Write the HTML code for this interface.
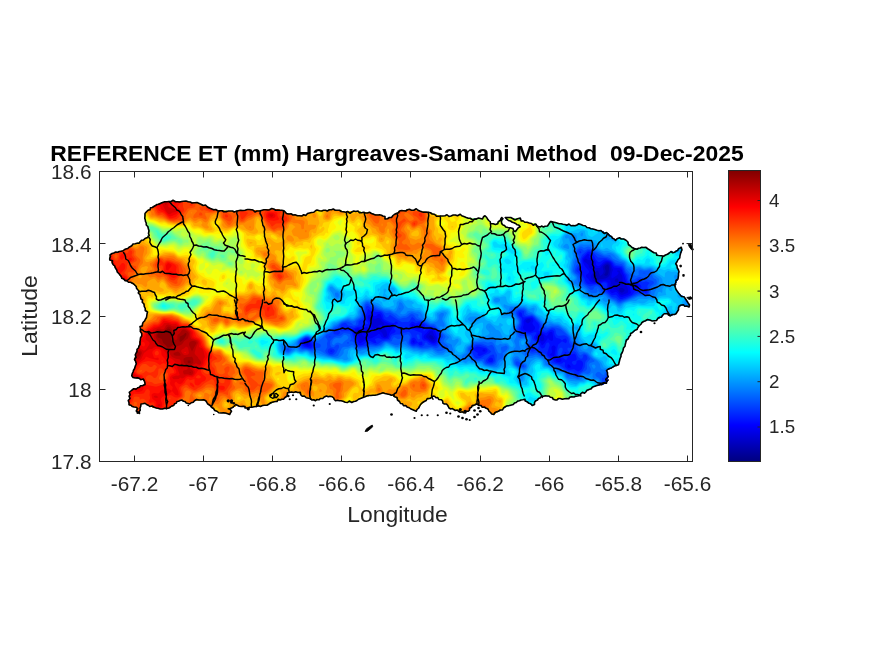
<!DOCTYPE html>
<html><head><meta charset="utf-8"><title>Reference ET</title>
<style>
html,body{margin:0;padding:0;background:#fff;}
body{width:875px;height:656px;overflow:hidden;}
svg{display:block;}
text{white-space:pre;font-family:"Liberation Sans",Arial,sans-serif;fill:#262626;}
.t{font-size:20.8px;}
.l{font-size:22.9px;}
.c{font-size:18.75px;}
.ttl{font-size:22.9px;font-weight:bold;fill:#000;}
</style></head><body>
<svg width="875" height="656" viewBox="0 0 875 656">
<rect width="875" height="656" fill="#fff"/>
<g transform="scale(.25)">
<defs><clipPath id="isl"><path d="M564 1196l-8-32-11-18-23-17-22-7-13-9-11-18-14-22-13-21-10-19 1-13 15-8 29-7 19-9 19-10 26-13 26-13 16-10 4-16-1-20-8-22-6-19 1-19 12-13 17-11 19-12 22-8 26-4 26 1 25-1 26 1 25 4 26 6 26 11 25 11 26 4 32 1 32 1 35-4 26-2 32 5 25-5 32-3 32 5 19 13 26 6 26 3 25-1 7-8 25-5 7-6 32-2 32-2 32 2 25 8 32-5 39 5 32 5 25 6 29 6 0 10 26-6 19-16 13-10 32-5 25 2 32 6 26 2 25 8 26 7 32 2 26-6 25 3 26 10 32 3 25 0 10-13 10 13 12 19 20 3 19-16 6-12 5 5-6 14 6 11 11 8 18 3 14 13 12-5 14-12-6-7-19-9-14-7-14-7-7-7 12 0 19 5 18 0 15 9 14 5 1 0 26 5 16 2 6 9 13 3 13 0 16-4 6-9 6-9 10 2 16 4 32 6 32 4 32-4 32 13 32 10 38 9 20 16 16 16 16-11 17 5 16 11 11 17 17 11 22-3 22-3 16 11 17 11 19 11 19 3 16-8 14-11 14 3 16-14 11-6 3 11-8 22-8 17-9 16 6 17 5 22-2 22-9 16-2 17 8 16 11 14 16 8 11 16 11 17-2 8-17-3-14-5-11 11-5 16-11 11-17 5-11-9-13 1-11 14-28 14-19-3-25 6-16 16-10 16-19 13-13 16-13 23-9 22-10 26-6 25-13 19-19 10-20 10 7 25-7 19 7-6-7 13-19 6-19 3-19 7-13 9-13 10-19 6-13 10-25 3-20 7-25 0-19 6-13-10-19-6-23 0-13 10-16 16-9 12-13-9-16-10 0-6-16 3-19 10-26 12-25 10-20 13-19 13-19-13-13-13-19-10-19-6-19 13-13 16-19 6-20-6-19-7-19-6-10-16-16-13-19-13-19-6-13 10-22 12-19 20-13 19-16-7-26-16-25-16-20-19-19-9-19-4-16 0-32 7-32 6-26 10-19 9-25 4-26-7-22 0-13-16-23-3-25 10-19 9-20-9-25-10-26-14-25-2-16 3-10 19-19 10-19 6-26 10-26 6-25 4-26 3-19 3 0-6-29-4-19 7-19 6 13 10-7 13-25-7-26-6-22-16-10-10-13-16-19-3-26 3-19 13-19-10-13-6-19 6-13 16-19 10-26 4-25-4-26-6-19-13-16 3-4 16-2 22-7-6-6-19-16-3-13-7 0-35 6-19 13-10 23-6 19-10 3 0-3-16-19-9-26-4-3-16 9-19 7-19-7-19 7-26 9-19 7-32 6-26-5-19 8-19 16-26 4-22-13-22-7-26z"/></clipPath></defs>
<g clip-path="url(#isl)">
<rect x="400" y="780" width="2400" height="980" fill="#00008c"/>
<path fill="#0000a6" fill-rule="evenodd" d="M400 780l2392 0 0 976-2392 0 0-968z"/>
<path fill="#0000bf" fill-rule="evenodd" d="M400 780l2392 0 0 976-2392 0 0-968zM2384 1098l-1 2 1 5 2-5zM2432 1059l-8 2-6 7 5 16-2 8-5 8 8 4 7-4 3-8 2-16 0-8-3-8z"/>
<path fill="#0000d9" fill-rule="evenodd" d="M400 780l2392 0 0 976-2392 0 0-968zM1720 1340l-3 8 6 8 5 3 8-3-3-8-5-6zM2160 1345l-1 3 1 1 3-1zM2424 1055l-8 5-5 8 1 8 3 8-2 8-5 7-8 5-8-21-8 1-11 16-2 8 5 11 8 4 8-1 8-5 11-1 13-3 9-5 6-8 4-24-3-16-8-7zM2464 1114l-2 2-4 8 6 4 8 1 3-5-3-10zM2480 1152l-4 4 2 8 2 4 8 3 10-7 0-8-10-5z"/>
<path fill="#0000f2" fill-rule="evenodd" d="M400 780l2392 0 0 976-2392 0 0-968zM1224 1360l-7 4 3 8 4 5 8 4 2-9-2-8zM1424 1324l2 8 11 16 3 12 8 1 8-3 3-2 0-8-11-8 0-8-7-8-9-6zM1480 1267l-1 1 0 8 10 8 1 8-3 8 3 8 6 5 8 1 2 2 22 15 8 17 8 0 5-8-3-16-10-13-8-3 9-8-1-8-8-6-8-12-8-3-8 4-8 0-8-7zM1560 1300l-4 8 4 3 3-3-3-8zM1720 1324l-5 8-8 8-4 8 21 16 4 2 8 1 7-11-1-8-6-8-5-16-3-2zM2120 1276l-8 0-8 5-3 3 3 5 8 5 8-6 3-4-2-8zM2160 1336l-6 4-4 8 3 8 15 10 8-5 2-5-6-16-4-3zM2344 1034l-5 2-3 5 0 4 18 15 1 8 5 6 8 4 6 6-2 8-7 8-2 8 3 8 5 8 13 4 8 0 16-6 16-3 16 0 3 13-2 8 2 8 5 6 8 5 8-1 8 6 8 13 8 3 22-8 3-8-4-16-5-6-13-2-1-32-2-7-7-9-1-9-8-2-5 3 9 8-4 3-2 5-22 14-3-6 3-20 3-4 1-8-4-3-3-13-5-9-8-3-8 1-15 11-9 12-16 0-7-4-3-8 3-8-4-8-5-3-16-1-5-4zM2592 1677l-3 7 3 3 5-3zM1480 1340l1 0zM1518 1300l10 0 0 8-16 3-4-3 4-5z"/>
<path fill="#000dff" fill-rule="evenodd" d="M400 780l2392 0 0 976-66 0-6-4-8-3-7 7-2305 0 0-968zM1224 1355l-13 9 1 8 6 8 6 4 8 3 8-2 3-5-6-16-5-8zM1480 1258l-8 5-2 5 1 8 11 16-2 16 13 16-5 5-8-2-2-3 0-8-6-6-8-3-9 9-7 4-16-8-12 4-2 8 1 8 3 8 5 8 5 17 5 7 3 2 32-20 8 0 8-2 22-12 2-4 8 1 6 11 10 5 8 0 8-3 6-18 14-24-1-8-3-2-16-6-16-8-7-8-6-16-3-4-8 0-8 8-8 1-8-5zM1648 1296l-3 4 1 8 10 5 16 4 8-1 5-8 0-8-5-3-16 6-8-5zM1728 1315l-8 1-8 8-6 8-9 8-3 8 2 5 4 3 12 4 8 7 8 4 8 2 8-5 4-12 0-8-8-24-10-8zM1936 1396l-8 8 8 3 7-3zM2104 1274l-4 2-6 8 1 16-3 8 1 8 11 8 16 4 11-4 9-8 0-8-7-8-4-8 5-8-2-8-4-4-8-1-8 1zM2160 1330l-8 4-8 14 1 8 18 16 5 10 8-7 14-19 2-6 2 6 6 5 9 3 4-8-3-24-2-5-8 1-5 4-3 7-8 6-3-5-13-8zM2232 1434l-6 2-3 8 9 4 8 0 6-4-1-8-5-2zM2272 1457l-2 3 0 8 2 3 8 0 4-3-5-8zM2352 1014l-20 22-1 8 5 14 6 10 14 16-1 8-11 8 1 8 9 8 4 8 10 6 24 3 24-8 8 0 9 7 1 16 6 17 8 8 16-6 6 5 10 14 8 2 24-8 12-8-5-24-4-8-9-8-10-31-5-9-3-10-3-6-5-3-24-3-7-10-3-8-6-5-8-3-8 0-8 3-16 15-8 3-8-5 0-8-3-8-5-6-8-5-8-1-5-4 3-8zM2544 1138l-7 2-3 8 10 7 8-3 3-4-5-8zM2584 1666l-6 2-2 8 11 16 5 3 8 0 4-3 2-8-3-8 0-8-3-5-8 0zM1656 1360l-8 4 6 8 3 0 2-8zM2208 1385l-2 3 0 8 3 8-2 8-7 5-1 3 9 5 8-1 2-4 5-32-7-7zM2448 1499l-5 1-3 3-5 21 2 8 3 2 8-5 4-5 2-8 1-8-6-8zM2536 1611l5 25 3 3 8 0 8-3 5-8-3-8-18-9z"/>
<path fill="#0026ff" fill-rule="evenodd" d="M400 780l2392 0 0 976-61 0-19-16-8 2-8 5 0 9-2296 0 0-968zM1216 1355l-9 9-1 8 2 8 10 8 22 4 8-3 3-9-14-24-5-3-8-1zM1320 1403l0 2 8 2 2-3-2-2zM1376 1300l0 2 0-2zM1472 1235l-4 17-5 8-1 8 2 10 2 6 6 8 0 3-16 4-8 8-16 0-23 9 6 24 9 16 4 16 4 7 8 3 10-2 6-3 16-14 9 1 15 8 10 0-6-16 4-2 8-2 8 2 8 4 8 0 19-2 7-16 6-5 9-3 6-8-6-8 1-8 6-12 8-2 1-2-9-7-8 8-16-4-25-13-4-16-5-8-6-4-16 0-24-6-7-6zM1648 1286l-6 6-5 8 3 8 8 9 40 15-1 16 1 8 8 7 8-1 4 2 12 9 8 4 8 2 8-1 4-6 7-32-1-8-6-8-12-10-8-4-16 1-8 5-8 10-2-2 1-8 5-8-2-8-10-8-8-3-8 1-8 4-8-5zM1904 1387l-9 9 1 5 3 3 13 8-2 8 2 2 8 2 25-12 6-8-4-8-3-3-32-7zM1960 1431l-6 5-3 8 9 5 8-1 4-4 0-8-4-5zM2080 1248l-5 4 1 8 4 6 5 2 3 8-1 24-6 16 5 8 10 4 24 6 16-5 8 0 2 3-10 16 1 8 19 16 6 16 6 6 8-2 3-4 5-14 8-5 4 3 3 8-10 32 1 8 10 11 10 5 6 10 8 5 16 4 8-1 8-7 5 5-2 8 1 8 12 11 8 0 16-3 16 10 8-4 7-6 5-16 0-8-4-8-8-3-8 0-6 3 0 8-2 5-8 4-9-9 1-4 4-4 12-2 3-6-4-16-7-6-15 6-9 6-4 10-4 4-16-11-18-1-5-8 2-16 5-25 16-14 16 8 4-9-4-10-10 2-6 7-6-7-18-5-6-11-2-16-8-5-8 2-16 11-16-6-14-2 1-8 3-8-2-8-4-8-8-7-8-11-8-8-32 4-6-2-3-16zM2352 1007l-21 21-3 5-2 11 2 16-5 8-9 8 2 8 10 8 3 8 10 16 2 8 5 8 6 4 8 1 24-1 16 1 8-5 8-3 8 2 2 1 2 8-1 16 3 8 10 11 8 6 16-2 16 17 8 0 39-16 14-16 11-3 7-5 7-8-3-8-11-7-8-1-16 5-8-1-8-7-3-5-7-24-6-8-8-21-8-4-16-2-8-3-5-10-9-8-18-6-8 0-16 10-8 0-10-12-6-12-8-8-1-4-7-5zM2584 1155l-8 2-3 7 11 8 5-8-4-8zM2608 1651l-8 1-16 7-10 1-6 5 2 11 11 16 11 7 8 0 8-2 5-5-2-16 5-9 8 3 8 6 7-8-7-13-8-4-8 0zM1648 1354l-4 10 0 8 4 5 8 1 8-4 8-1 5 7 3 1 9-1 1-8-2-6-8 1-8 4-10-15-6-6zM2256 1411l8 5 2-4-2-4zM2440 1492l-5 8-4 16-3 8 0 8 4 5 8 4 17-9 3-8 0-8-1-8-5-8-6-5-8-3zM2512 1562l-2 2 2 4 1-4zM2536 1595l-2 1-6 8 0 8 5 16 1 8 2 3 8 6 16 0 8-5 8-10 4-2-3-8-34-24z"/>
<path fill="#0040ff" fill-rule="evenodd" d="M400 780l2392 0 0 976-57 0-23-25-8-5-9-10-7-4-8 4-7 8-3 8 2 15 8-3 8 5 2 7-2290 0 0-968zM1216 1353l-14 11-2 8 2 8 6 10 32 6 8-1 10-7 4-8-20-24-10-7-8 0zM1312 1348l8 2 3-2-3-3zM1336 1324l-3 8 3 5 16 2 9-7-1-8-16-6zM1464 1226l-3 18-6 16 0 8-4 8-16 8-2 16-17 7-24-5-8-10-8 0-8 4-5 4-2 8 2 8-2 8 7 2 8-1 24 0 8 6 1 9 14 32 9 13 8 2 24-4 16-10 24 6 8-3 18-12 30-4 8-17 16-5 16 0 8-6 16-2 8-3 8 3 6 10 0 8-7 16 0 8 9 10 8 1 8-2 8 1 8 5 8 0 10-7 1-8 5-2 5 2 3 6 24 7 8 0 7-5 12-40-3-8-6-8-18-16-24-5-14-11-18-9-16 0-8-10-8-6-10 17-6 4-8-1-16 2-23-13-25-17-8 9-8 2-11-18-5-5-8-4-16-3-8-4-8-2-8-4-8-7zM1912 1379l-8 1-8 4-12 12 12 30 8 8 16-1 8-4 13-9 11-4 8-4 5-8-5-2-16-15-24-8zM1968 1418l-1 2-7 2-14 14-3 8 6 8 11 2 8 0 8-6 3-4 0-8-3-17zM2080 1241l-8 3-3 8 1 8 11 16 2 8 0 8-2 8-7 16 2 8 4 7 8 6 16-1 20 4 4 7 1 9 7 7 8 4 6 5 4 8 0 8-2 7-5 1 5 4 1 4 9 8 6 3 8-2 8 5 6 10 9 8 6 8 3 8 30 8 34 25 16 1 8 4 8 11 8 0 6-9 12-8 9-16 1-16 3-8 7-8-1-8-5-8-8-1-2 1-2 8-4 7-8-1-7-6-9-18-8-6-16 6-7-6-4-8 3-6 8 2 8-4-3-8-5-4-3-4-3-16-2-5-8-7-8-3-16 2-8 0-4-3-4-7-1-9-3-8-4-2-8-1-24 10-8-1-6-6-12-24-22-24-8-5-24 1-7-4-1-16-8-2zM2320 1003l-2 1 1 8 1 1 6-1-4-8zM2352 1001l-24 19-7 16 1 16-2 7-10 9-4 8-1 8 15 15 8 11 4 6 6 16 6 6 16 8 24-7 8 1 8 3 7 5 9 16 8 3 23 21 17 3 8 8 8 4 22-7 18-8 32-18 8-2 24 8 9-4 2-8-2-8-4-8 2-8 8-8-7-4-8-3-8 3-8 1-8-14-8 1-6 8-10 4-8 1-8-1-8-9-3-19-7-8-4-8-2-8-8-12-24-4-16-16-16-9-8-3-32-2-17-18-15-11zM1320 1393l-6 3-4 8 4 8 6 4 8 1 6-5 6-8-4-7-8-3zM2120 1382l-3 6 3 14 8 5 15-3 1-8-16-15zM2440 1488l-8 4-7 24-6 8 1 8 12 11 8 3 8 0 16-7 4-7-1-8-4-16-6-8-9-9zM2472 1546l-8 4-3 6 3 4 8 3 6-7-4-8zM2504 1552l-3 4-1 8-4 7-8 4-2 5 10 4 19 4 12 32 2 16 7 9 15 7 9 7 5 17 12 16 7 7 8 3 16 3 16 4 8 0 6-9-3-8 5-6 8 5 8 1 0-8-8-8-9-16-7-10-24-7-12-15-28-24-8-8-32-13-5-3-2-16-9-10zM2415 1140l2 0-1 1zM1666 1340l6-3 5 3 3 16-8 2-4-10zM2236 1396l4-5 8 0 3 5-1 8-7 16-3 1-8-1 1-16zM2579 1644l5-5 7 5-7 5z"/>
<path fill="#0059ff" fill-rule="evenodd" d="M400 780l2392 0 0 976-53 0-15-16-12-16-24-18-8 0-20 18-1 8 3 8-1 16-2261 0 0-968zM1144 1396l8 8 5-8-5-3zM1224 1347l-17 9-9 8-3 8 4 16 9 8 16 0 24 5 16-8 16-3 2-2 1-8-3-4-24-10-16-15-8-4zM1464 1216l-3 4-3 8 0 8-6 16-4 16-22 16-2 11-3 5-7 0-9-8-13-5-8-1-8 2-10 4-9 8-5 8-8 3-8 5-8 11-6 5-17 8-4 8 7 8 3 8-3 8 1 16-9 16 5 8 12 8 11 2 8-2 9-8 12-24-2-8-3-2-8 2-8 9-10-1-5-8 0-16 15-15 8-3 16-2 16-12 24 4 6 20-6 7-2 1 2 2 8-1 8 6 5 9 11 11 8 0 8-1 16-1 16-9 24 3 8-1 8-3 16-12 8-2 16 2 8-3 2-8 6-8 16 9 16-4 11-13 13-3 4 3 4 8-5 16-1 8 5 8 9 6 8 1 8-1 16 5 8 1 40-4 16 5 8-3 8-10 2-8 0-8 4-8 7-8-3-8-12-16-22-22-16-1-32-19-19-6-5-4-8-12-8-4-8 3-8 8-8 4-8 0-16 4-8-2-15-13-17-10-16 2-16-10-16-4-16-10-8-1-16-13zM1896 1377l-13 11-6 8 19 42 16 1 24-3 1 8 3 8 4 3 16 4 8 0 8-3 5-4 4-8 3-24-8-16-4-15-8-10-16 5-24-10-24 0zM2072 1239l-8 5-1 8 7 16 6 8 3 8 0 8-11 24 1 8 11 20 32-1 8 3 2 2 2 16-3 8-7 8-3 8 7 24 10 3 16-3 8 1 8 7 8 3 8-1 8 5 8 10 5 7 1 8 2 3 8 4 16 1 8 3 24 16 16 14 8-1 8 1 16 15 8 2 2-2 4-8 8-8 10-6 5-2 7-8-1-24 14-16-11-16-6-4-8-3-16 9-13-18-9-24-10-8-7-8-1-8-4-8-12-13-22-19-18-6-16-2-16 5-8 0-16-13-12-16-20-20-8-5-16 1-8-7-1-9-7-6-16-1zM2320 994l-8 5-4 5-1 8 8 8 2 8-3 8-1 16-9 11-6 21 4 8 10 8 18 32 30 26 8 2 6-4 4-8 6-3 8 0 8 7 3 4 2 8 3 2 16 7 8 6 8 9 8 5 16 6 8 7 8 2 32-12 40-19 8-1 24 4 8-2 5-6 1-24 19-16-5-8-29-8-23-8-8 1-16 10-8 2-8-3-2-2-1-16-13-13-8-20-8-10-24-5-24-19-8-4-16-3-24-10-32-20-8-1-8 5-8 3-9-7zM2576 1091l-6 1 6 2 10-2-2 0zM1392 1367l-5 5 5 3 5-3zM2064 1446l-2 6 2 5 2 3 6 4 8 4 8 1 9-1-2-8-7-3-16-12zM2352 1483l-1 1 1 0zM2392 1500l1 0zM2432 1486l-5 6-3 12-4 4-4 3-8 0 0 13 4 8 20 16 15 8 9 11 16 12 7 9 17 4 8 4 4 8 12 12 4 12 1 8 5 8 22 16 6 8 7 16 15 16 21 8 15 9 16 2 8-3 8-12 8-1 4-3 5-8-1-8-16-15-16-22-16-5-8-5-8-10-18-15-22-22-26-10-6-8-7-16-41-25-8-11-6-12-6-8-12-12-8-4zM2140 1380l4-4 2 4-2 4z"/>
<path fill="#0073ff" fill-rule="evenodd" d="M400 780l2392 0 0 976-49 0-9-8-18-24-18-16-10-7-16-5-4-12-20-19-8-13-8-8-16-5-4-3-12-13-14-11-23-24-27-11-4-5-9-16-28-24-15-10-24-29-8-8-8-4-8 1-7 2-6 8-3 9-8-4-8-8-8-2-7 5-4 8 6 8 5 1 8 7 8 22 30 18 20 24 3 8 3 2 8 3 16 3 8 7 8 12 9 5 6 8 2 8 4 8 27 22 8 18 15 16 9 6 16 6 16 11 16 3 5 6 3 8 8 3 7 5 2 8-2257 0 0-968zM1144 1386l-8 2 0 8 8 11 8 2 10-5 7-8-17-9zM1464 1209l-9 11-3 16-5 8-2 16-5 9-24 16-8 1-16-5-16 3-8 3-8 5-8 8-16 9-16 17-16 9-16 18-16 11-16-3-16-13-8-3-8 0-8 3-16 10-6 6-3 8 3 16 5 8 9 4 16-1 8 2 16 6 16-7 8 1 8 2 32 19 16 4 8 1 8-1 8-3 16-32 8-4 16 0 16-7 8 3 5 5 11 8 8 0 8-2 16-1 16-6 24 0 16-3 8-4 8-9 8-3 8 2 28 10 12 1 16-13 15-4 1-2 3 10 6 8 15 10 8 2 8-1 24 6 21-1 11-3 8 0 24 12 16-2 16-9 8-2 3-4-6-8-11-8-5-8 10-16-5-8-10-9-20-23-4-8-8-4-16 0-16-10-19-10-5-4-8-4 3-8-3-3-24-8-10 3-14 11-24 4-16-13-8-1-16-10-16 0-8-2-24-10-8-5-16-6-8-8-8-4zM1600 1231l-3 5 3 2 2-2zM1896 1369l-9 11-11 8-5 8 2 8 15 24 2 8 6 8 32 0 8 10 8 6 16 3 16 0 8-3 8-16 8-7 8-3 3-6 3-8-4-8 6-3 13-13 2-8-7-6-8 3-11 3-2 8 3 8-1 8-5 2-8-4-16-34-8-8-8 0-8 3-16-5-24 3-8-1zM2048 1235l-2 1-2 8 4 4 8 3 19 33 1 8-10 16-3 16 7 16 2 8 8 4 32-4 6 8-2 8-8 16-1 8 2 16-5 5-5 3 2 8 3 2 8 2 16-1 16-5 8 3 8 5 16 5 12 13 1 8 6 8 13 4 16 2 5 2 11 9 16 6 7 9 3 8 6 7 8-3 8 2 3 2 21 8 8-4 4-12 4-4 8-3 16 3 7-4 4-8 0-8-8-16 5-8 16-5 3-3-17-16-10-12-6-4-10-3-16 0-5-5-8-24-11-12-9-4-5-16-31-32-11-8-8-4-24-2-16 5-8-2-8-5-16-18-24-22-8-5-16-3-8-14-8-5-24 0-17 3zM2320 986l-12 10-5 8-1 8 6 16-8 16-7 32-1 8 4 8 9 8 4 8 2 16 5 8 28 20 16 17 8 4 17-1 6-8-3-8 4-2 1 2 0 8 7 8 24 5 9 11 7 5 23 11 9 8 8 1 72-30 8-2 24 3 8-1 5-3 6-8 1-16 4-8 16-10 3-6 0-8-3-7-8-3-5-6-8-24-3-3-24 2-16-3-6 4 1 16-11 4-8-5-16-6-16-18-8-19-3-4-13-4-28-12-7-8-5-8-16 2-8-1-16-9-32-16-8-8-8-2-16 6-8-5zM2064 1434l-3 2-4 8 0 8 4 8 11 9 24 6 8-7-1-8-15-10-16-15zM1375 1340l10 0 9 8-3 8-12 8-11 12-16-6-8 2-8 8-3 0-5-5 2-11 6-8 8-4 16 1 8-5z"/>
<path fill="#008cff" fill-rule="evenodd" d="M400 780l2392 0 0 417-6 7 1 24 5 17 0 511-46 0-10-10-24-30-16-13-18-11-13-16-17-15-13-17-19-8-16-16-11-8-22-24-23-10-8-6-10-16-30-27-16-12-32-35-8-4-24 1-11-3-4-8-1-10-3-6-7-8-22-15-16-19-24-8-7-6 0-8-4-8-5-3-8-11-25-26-15-19-24-18-8-4-16-1-8-3-8-1-8 5-8-2-8-5-16-16-16-12-16-15-8-2-8-6-8-9-8-3-24-1-16 1-8-2-8 2-4 7 3 16 1 2 16 6 15 24 0 8-10 16-4 16 7 16 0 8-8 16 6 16 0 8-8 8 2 8 16-4 8 0 2-4-5-16-1-16 8-8 20-1 4 1 1 8-7 16 0 8 2 5 0 6-8 6-9-1-2 8 19 18 8 3 16-1 16-6 24 8 4 2 5 8 6 16 33 10 16 14 16 2 8 3 3 3 5 16 8 6 24 3 16 3 8-1 7-3 1-9 5-7 3-1 16 4 8-3 8-8 3 0-1 16 6 7 8-1 9 2 6 8 3 16 6 7 8 1 8 4 14 12 11 16 4 16 3 2 24 3 8 4 16 18 8 5 8 16 27 24 5 6 8 19 16 12 24 11 8 8 8 4 8 0 6 4 10 13 8 4 5 7-2253 0 0-968zM1128 1386l2 10 4 8 10 8 8 1 4-1 25-16 2-8-7-3-16 0-24-5zM1344 1170l-4 2 0 8 4 9 8 1 2-2 2-8-4-9zM1464 1204l-10 8-5 8-1 8-3 8-6 8 0 16-7 8-16 12-8 1-16-5-25 8-15 11-16 7-8 10-24 16-16 16-8 4-8 9-8 2-8-2-16-11-8-3-8 0-8 3-17 10-9 8-4 8-1 16 15 16 8 1 16-3 9 2 15 9 16-4 48 17 32 6 8 0 8-4 9-8 6-8-1-8 2-4 5-4 11-2 16-7 8 3 16 12 8 2 16-6 24-3 16-1 24-5 8-3 16-14 8 2 32 14 8 0 16-10 8-1 18 11 22 9 8 0 24 5 24-1 16-3 16 11 8 4 8 1 8 0 8-4 8-7 8 0 8 4 8 0 5-3-1-8-4-8 0-8-8-5-11-3-6-8 9-8 5-8-5-3-24-20-11-17 3-3 16 3 3-8-3-8-5-8-2-8 2-8 5-8-2-8-9 0-11 8 1 16-5 8-6 4-8 2-8 2-8-1-22-15-6-8-4-10-8-9-8-3-8 1-16-4-8 0-9 1-7 10-8 3-8 1-8-5 14-17 2-8-8-15-8-5-4 4-1 8-10 24-9 3-16-8-24-3-64-33zM1928 1355l-16 8-16 1-14 16-12 8-4 8 1 16-14 8-7 8 2 5 8 7 8 0 8-17 8 1 2 4 4 16 2 2 8 2 24 1 8 1 8 10 8 4 32 5 11-1 8-8 2-8 3-4 8-5 8-10 6-21 15-16 0-8-5-8-8-4-16 2-8-3-8 7-8-2-2-8 3-8-1-10-24-5-8 3-16 1zM1960 1306l-4 2 4 2 1-2zM2288 956l0 1 8 2 0-8zM2320 978l-16 13-6 13-1 8 4 16-8 16-6 32 0 8 4 8 14 16 0 8-8 8-3 8 10 4 16 13 8 1 12 6 12 16 2 8 6 7 8-1 8-4 16-1 16-3 8 1 8 6 8 11 24 9 16 12 8 2 16-10 40-13 16-9 16-1 16 2 32-6 1-2 1-8 15-32 4-24-21-16-4-8-1-8-6-8-5-1-16 4-8 0-16-6-8 1-24 11-6-9-10-3-6-5-6-16-4-4-16-6-17-14-7-8-8-5-8-3-8 0-8 3-8 0-18-11-19-8-8-8-3-9-8-1-24 1-8-2zM2752 1198l-5 6 5 7 8-7zM2768 1249l-8 3 0 8 8 6 8-1 4-5-2-8-2-1zM2064 1425l-8 5-4 6 1 16 4 8 15 12 16 6 8 3 8-4 5-9 0-8-5-8-16-9-16-17zM2088 1506l-5 2 5 4 1-4zM2367 1460l9-2 4 2 3 8-7 8-7-8-1-3z"/>
<path fill="#00a6ff" fill-rule="evenodd" d="M400 780l1983 0 9 6 8 1 5-7 387 0 0 68-4 4 4 4 0 333-8 4-7 11 4 32-5 7-16-6-6-9 1-8 5-1 10-7 2-8-4-1-6-7-10-4-8 4-5 8-2 16-6 16 7 16 28 24 10 6 8 1 8-6 0 479-42 0-14-13-24-31-15-12-17-11-12-13-18-16-12-16-6-5-16-7-13-12-11-8-24-26-24-11-5-3-11-17-18-15-14-15-16-12-32-34-8-4-24-4-3-3-7-16-7-8-23-13-10-11-3-8 10-24-5-7-14 7-2 4-8 6-9-2-7-22-8-3-6-7 0-8-2-8-8-6-8 1-8-3-8-5-16-21-24-16-8-4-16-1-16-7-16 1-8-3-16-15-16-9-6-8-2-8 3-8-3-6-16 5-8-1-8-7-8-3-8 1-16-2-40 0-16-6-2 3 1 8 9 8 6 8-1 8-5 6-8 0-2 2 2 4 8-2 24 2 8 5 9 15-1 8-8 8-6 24 4 16-5 8-10 8 9 9 7 15-5 8-2 1-8-5-8-11-8-3-9 2-7-3-3-5 5-16-10-21-8-7-8-1-8-11-16-14-8 0-6 6-3 8 3 8 8 8 5 8-7 8-32 10-16 8-8 1-8 5-8 13-8 4-8 7-3 8-1 8-4 8-16 9-8-2-8-4-3 5 1 8 2 2 8 2 16 12 8 5 8 3 8-7 8 0 8 6 16 0 16 3 8 4 8 7 40 9 8 0 8-2 16-12 12-24 8-24 4-5 8-5 13 10 2 8-7 10-2 6 6 24 20 15 18 9 6 6 9-6 9-16 6-16 6-8 18-10 8 0 8 2 8 4 3 4 5 17 32 12 5 3 8 8 11 6 16 0 4 2 4 5 4 11 4 5 8 7 8 3 24 3 26-2 6-4 8-8 8-2 8 0 8 8 8 3 8-1 8 1 4 11-3 16 6 8 9 1 8-2 8 4 6 5 12 16 3 8-3 8 3 8 27 1 8 4 8 6 9 13 51 48 4 17 8 15 0 8 8-5 8 0 16 5 8 6 8 9 16 2 16 17 9 6-2249 0 0-968zM1320 1148l-2 8 2 5 9 11 7 16 8 8 10 0 7-8 2-8-1-8-9-8-9-3-16-14zM1456 1204l-10 8-4 16-8 16-2 16-7 8-9 7-8 1-8-3-8-1-24 8-24 13-8 2-11 13-21 13-8 11-8 7-24 16-8-2-16-10-8-2-8 0-8 3-21 12-19 19-8 5-8 1-32-8-7 7 2 16 4 8 9 9 8 3 8 1 8-3 24-14 16 8 8 0 16-3 8 2 8 7 8 4 16 0 80 19 8 0 16-2 8 5 8 1 11-5-5-8-1-8 3-8 0-8 8-9 8-3 8 3 24 19 8 1 8-3 13-8 11-2 16 1 8-4 16-4 12-7 12-11 8 1 32 15 8 1 16-8 8 0 40 17 16 1 16 5 16-3 24 0 16 12 11 2 13 1 6-1 10-8 8-1 24 3 4-2 0-8-3-16 18-24-3-9-8 1-8 5-8-2-2-11-6-7-13-9-2-8 2-8-2-16-6-16-2-8 11-24-4-4-8-3-8 1-19 6-3 8 2 8-1 8-9 8-10 2-8-2-16-12-13-20-11-11-8-1-8 1-16-7-16-2-8-7-16-22-8-3-9 4-5 8 1 8-3 10-8 9-16-5-24-3-7-3-9-10-8-5-8-2-24-10-16-2zM1880 1267l-10 9 6 8 12 6 16-5 8-1 7-8-7-8-8-2-16 0zM1984 1192l-7 4-1 8 8 6 8-1 8-5 0-8-8-4zM2264 940l-5 8 5 7 8-3 5 4 1 8 10 16-1 8 3 8 1 8-2 8 3 16-5 16-5 32 3 16 3 5 11 11-1 8-2 2-8 1-5 5 3 8 9 8 9 4 16 12 16 4 3 4 4 8 0 8 8 8 9 5 8-1 8-4 8-1 16 3 8-3 8 1-8 8 6 8 10 5 8-5 8-1 16 7 16 14 8 3 17-15 23-7 24-1 10-8 6-1 24 1 16-3 8 3 8-1 9-7 4-8 3-11 8-2 8 5 2-8-1-8 6-8 1-8-6-8 0-8-1-8-7-8-18-10-4-6-7-16-5-3-8-2-24 4-16-7-8 0-16 3-8-1-16-5-4-5-3-8-7-8-18-8-8-10-17-14-23-8-8-1-8 2-8-2-16-7-9-8 0-8-7-9-24-3-16 2-24-3-3-3-2-8 1-8-4-8-8-3-10 3-6 6-5-6-3-1zM2328 930l-3 2-4 8 7 7 4-7 0-8zM2400 876l-3 0 3 4 1-4zM2472 827l-4 9 4 5 8-1 2-4-2-5-6-3zM2704 914l-2 2 0 8 2 3 8 2 8-2 3-3-4-8-7-4zM2080 1499l-5 9 1 8 4 7 8 1 6-8 1-8-2-8-5-5zM2408 1606l-5 6 3 8 10 8 4-8-1-8-3-6zM2480 1640l-5 4 5 4 10-4-2-7zM2264 975l-8 6-4 7 4 3 16 5 3 0 2-8-5-11zM2704 1099l-5 1-3 8 3 8 13 2 3-2 2-8-12-8zM2791 1260l1-1 0 16-3-7zM1964 1332l4-2 3 2-3 1zM2085 1364l3-2 8-1 4 3-4 14-8 2-4-8zM2087 1428l2 0-1 1z"/>
<path fill="#00bfff" fill-rule="evenodd" d="M400 780l1975 0 17 12 16 3 3-15 381 0 0 56-8 0-4 8-1 8 1 8 4 4 8 1 0 84-8 2-8 5-6 8 6 8 16-1 0 163-8-1-22 15 8 8 6 4 16 0 0 11-8 8-8 13-8 2-16-6-8 1-15 15-3 16-6 10-7 6 4 8-16 16-5 24 8 8 8 3 6-3 4-8 2-8 4-10 8 1 8 3 21 14 11 4 8 0 8-2 0 470-39 0-17-16-24-32-32-23-8-9-19-16-13-17-8-6-16-8-9-9-15-11-24-26-25-11-15-20-16-13-16-17-24-20-24-27-8-4-13-3-9-8-7-16-35-17-6-7-1-8 7-15 8-9 0-8-8-6-8 1-16 8-8 1-4-4-4-9-13-15-11-29-8 1-8 4-8 0-8-4-8-13-8-9-14-6-10-10-8-3-8 1-8-1-22-11-2-2-16-2-8-8-16-5-8-7 5-16-5-11-8-3-16 5-8-1-8-6-8-1-8 1-16-2-16 0-16-2-8-4-5-8-3-17-8-2-16 4-8-2-12 1-4 2-4 6-1 8 5 8 8 3 16-1 20 30-14 16-1 8 3 4 8 2 16-4 8 0 8 2 4 4 3 8-2 8-7 16-10 16 1 8-2 8-11-1-9-7-12-24 10-8-11-8-4 0-2 8-4 3-8-1-8-3-8-6-8-8-8-1-8-4-8-10-17-10-15-7-16 1-8-4-3 2-14 16-4 8 0 8 5 6 8 0 3 2 5 4 8 10 8 0 8-7 16-7 8-2 4 2 1 16-7 16 1 8-1 8-14 5-8 6-16 0-8 21-20 8-6 16-1 8-5 5-8 1-8-2-9-12 3-8 6-5 10-3 4-8-4-16-10-7-16 1-8-12-9-6-10-40-3-8 0-8 9-24-3-9-16-4-8 1-24 9-3 3-2 8 2 8-3 8-2 2-8 1-16-8-8-7-8-13-16-20-16 2-11-5-5-7-2-1 11-8-10-8-15-4-8 3-8-1-8-6-8-2-16 6-8-1-5 5 4 8 1 9-16 6-11 1-13-3-5-5-3-11-16-10-16-1-32-5-24 17-5 18-5 8-2 16-3 8-9 9-8 1-8-3-8 0-32 14-8 4-8 3-8 1-6 3-10 14-18 10-11 16-27 18-8-1-16-8-8-3-8 1-24 11-32 23-8 3-8-1-24-7-8 2-2 2-3 8 4 24 7 8 18 8 8 0 8-2 16-10 8-3 16 6 8 1 16-4 8 3 8 8 8 3 16 2 40 8 16 2 32 7 16 1 8 4 8 0 13-2 7-8-5-16 3-16 6-5 8 2 24 18 8 1 16-4 8 0 16-6 24-6 28-16 4-4 8 0 24 9 8 6 8 1 8-5 8-3 24 7 24 10 16 1 8 4 8 1 8-4 8-1 8 2 16 6 8 6 8 1 32 2 16-1 8-6 8 2 2 6 22 20 32 8 16-3 24 3 12 4 12 9 32 5 8 2 8 5 8 0 24-10 8 0 7-11 0-16 4-8 5-21 8-5 3 2 3 8-4 8-2 8 7 24 9 8 24 16-1 8-6 8-3 8 2 12 8 11 8 0 10-7 3-8 1-16 12-16 11-24 17-16 10-4 8 1 4 3 4 5 3 11 5 7 16 3 8 3 16 13 10 6 22 4 14 20 10 10 16 7 16 5 16-10 16 0 8-7 8-5 8 2 8 5 8 3 8 0 6 6-3 8 0 8 5 12 8 5 16 2 4 5 0 8-4 11-3 5-13 8-2 8 3 8 15 17 8 3 8-4 0-8-3-8 1-8 2-2 8 2 24-2 8 3 8 7 2 8-10 10-11 6 1 24-9 16 0 8 3 2 8 0 8-4 7-6 8-8-6-16 7-6 8-1 8 7-7 24 7 15 8-7 0-8 3-8 5-6 8-2 8 4 8 8 3 12 0 8-3 7-8 3-8-1-14 7 14 8 7 8 1 5 3 3 5 3 8-7 8-1 16 1 1-12 7-5 11 5 5 8 8 6 16-1 18 19-2242 0 0-968zM1320 1142l-5 6-3 8 2 8 7 8 5 16 18 13 8 0 8-2 7-11 2-8 0-8-5-8-20-9-16-13zM1536 1154l-2 2 1 16-3 8-2 24 6 3 8-3 8-8 0-8-13-16 7-8-1-8-1 0zM1560 1152l-6 4 3 8 11 4 8 0 4-4-1-8-3-3-8-4zM2328 922l-6 2-10 9-16-2-16 4-8-1-8 0-7 6-6 8-2 8 3 16-7 8-3 8 10 8 17 8 5 8 0 16 6 4 2 4 0 8-6 24 8 40-4 2-3 6-2 8 13 17 16 9 16 12 8 2 5 8-3 8 4 8 10 2 16 8 8 0 8-4 8 0 12 10 12 5 16 14 8-1 8-11 8 2 14 7 10 11 8 4 8-4 8-13 11-6 13-3 16 3 16-2 16 4 8-1 8-4 8-7 8-2 8 3 8 0 24-19 26-4-2-2-2-14 2-11 8-2 8 13 8 0 2-16 3-8 11-8 20-8 4-5 2-11-10-16-16-5-8-1-8 2-16-5-12 9-1 16-3 1-8-6-18-11-2-8-6-8-14-8-8-1-24 3-16-7-24 3-8-1-8-4-8-7-8-10-17-8-15-16-16-13-22-11-2-3-8-1-8 5-8 1-8-4-6-6-2-10-8-17-24-2-9-3-9-16-3-16-3-2zM2360 834l-1 2 1 8 4 8-2 8-4 8 2 2 16 6 8 8-1 8 1 8 16 8 5 16 3 2 8-1 7 7 0 8-4 16 5 7 16-6 9 7 7 2 5-2 2-8-1-8-6-10-5-6 5-6 8 3 11-5 5-8-1-8 3-16-2-3-16-11-8 0-8 3-3 3-2 8 5 4 16 2 2 2-10 9-8 15-16-5-5-3-11-17-8-2-1-5 7-8 1-8-13-8-10-10-16-7-6-7-2-9zM2416 793l-7 3 21 24 6 0 4-5 0-3-10-8-8-8zM2464 826l-2 10 4 16-10 8 8 6 8-6 3-8 5-2 6-14-2-8-4-5-8-2zM2720 890l-4 2 0 8-4 2-8 0-8 6-3 8 5 16 6 5 24-1 8-2 8-3 10-7 3-8 0-8-5-11-8 3-8-3-8-8zM2760 1114l0 3 16 8 4-1-1-8-11-2zM2120 1691l-3 1-2 8 3 8 7 8 4 16 7 8 8-5 0-7-6-28-10-8zM2304 1306l-8 2 2 8 6 4 8-1 0-11zM2672 1243l-5 17 4 8 9 4 9-4 4-8-3-8-10-11zM2712 1178l-3 2 2 8 9 7 2-15-2-2zM2728 986l-3 10 3 8 0-16zM2735 908l1-1 1 9-1 2-3-2z"/>
<path fill="#00d9ff" fill-rule="evenodd" d="M400 780l1905 0-4 8 1 8 10 9 3-1 5-8-5-16 53 0 7 8 15 8 18 13 16 17 8 1 8-2 7-5-1-8-8-16 4-8 2-8 348 0-3 8 3 9 0 16-8 5-10 10-4 8-1 16-6 8 1 8-20 19-8-3-8-6-16 0-8-2-5-8 1-8 6-8-2-8-16-6-8 1-7 5-6 8 5 8 16 14 5 2 2 8-11 24-4 14-16 10 8 5 8 2 8-1 8 8 8 0 8-2 24 0 20-12 7-8 1-8-1-16 5-13 8-10 8-2 8-3 0 71-8 1-8 4-16 16 8 19 8 0 16-3 0 8-8 10-2 6 1 8 9 2 0 103-32-15-8-2-8 2-8-2-16-22-32 2-16-5-8 4-8 2-13-5-11-1-16-9-8-2-16-2-16 1-16-4-24 2-8-1-8-5-16-15-16-9-8-11-13-8-11-13-6-3-3-8 2-8 7-6 8-2 5-8-3-24 17-16 1-16 4-16-1-8-9-8 3-8 5-8-1-8 6-16-7-16-4-6-8-7-8 2-6 11-2 8 1 8-2 8-15 8-1 8 2 8-9 17-3-9-5-6-16-6-5-4-3-9-16-3-6-4-3-8 0-8-7-7-16 5-2 2 5 24-8 16 4 8 15 8 4 8 1 8 5 6 13 10 4 8-1 8-24 16-8-3-7-5-2-8 0-8-7-4-8-3-24-1-20 8-12 2-8-1-8 3-19 20-3 8-4 16-7 8 3 8 9 8 17 8 7 8-1 8-3 8 0 8 10 8-2 8-5 8 0 8 7 8 3 8 0 8-2 16-5 8-1 8 20 23 18 9 15 16 4 16 3 4 16 3 14 9 2 4 4-4 12-4 8 4 8 9 16 4 16 15 8 4 8-2 8-11 8-1 9 6 5 16 2 2 8 1 19-19 5-9 16-3 16 4 16-4 16 4 8 0 8-2 16-7 8 2 8-3 24-18 8-2 24 0 8 2 5 4 11 14 8 3 4 7-6 8-1 8-5 8-8-8 2-8-2-5-8 1-8 4-5 8-5 16-10 8-2 8 14 3 16 11 8 4 19 14 7 8 14 6 8 10 8 3 34-11-2-3-20-13-4-6-5 6-12 8-7-8 8-14 8-2 8 6 16 0 16 5 8-3-1 112 1 3 0 349-35 0-18-16-27-37-29-19-11-11-16-13-16-21-8-6-13-5-20-16-31-32-16-6-8-5-17-21-15-12-16-17-32-27-16-26-16-3-4-3-4-8 6-16-6-10-8-2-8 5-8 2-16-4-8-5-2-2 0-8 2-5 8-9 4-2 4-8-3-8-5-8-8-5-8 1-16 8-8-2-2-10-14-12-2-4-7-24-1-16-6-9-8 0-16 7-8 2-16-16-9 0-11-16-4-2-8-1-16 6-8-3-12-16-4-2-8 1-8-2-7-13-10-8-12-16-3-2-8-1-16 3-24-7-40 0-8-1-9-8-1-8 5-24-2-8-9-2-16 16-16 5-8-1-16 1-7 5-3 16 2 8 16 8 8 0 8 4 10 12 3 8-25 32-3 8-9 5-8-10-17-3-9-8-6-10-16-3-16-8-16 0-16-15-6 12-2 11-8 8-3 5-1 16-10 16 14 2 16-3 4 9-3 8-12 8-2 8 2 8 5 8 7 8 4 8-5 6-16 0-5-6-8-16-11-5-8 0-6-3-13-16-4-8-3-8 0-16-2-8 0-16 5-16-2-8-7-8-24-3-24 11-10 8-4 16-2 1-16-5-8-9-10-19-6-16-16-3-11-13-5-3-8-1-16-6-8 1-8-1-8-5-8-1-16 4-16-3-8-5-3-4 3-5 16 2 8 0 4-5 0-8-3-8-8-8-16-8-9-7-8 0-13 7-9 8-2 7-8-2-2 3 2 12 8-10 1 6-1 5-5 3 1 8-2 8-34 3-8-3-8-9-7 9-9 8-16 6-2 2 2 16-9 16-1 16-6 7-16 0-24 12-32 12-8 1-8 4-5 4-5 8-22 16-10 16-22 14-8 0-24-10-8 1-16 7-24 14-15 6-9 6-8 1-16-7-8-1-8 2-8 7-2 8 2 16 3 8 4 8 14 8 11 3 8 0 8-2 16-10 8-2 16 6 8 1 16-4 16 11 8 3 48 10 24 1 32 8 8 0 16 5 8 0 23-6 6-8 2-8-2-8 3-7 8 2 16 9 24-3 16 0 40-16 24-14 8-1 16 4 8 4 8 7 8 2 8-6 8-3 24 7 16 9 24 2 8 5 8-1 8-4 8-1 10 5 9 8 5 1 40 2 8 2 16 9 8-3 8 0 8 5 8 10 9 6 7 1 8-1 16 1 16-3 21 2 19 18 8 1 12-3 12 1 16 6 8 9 16-9 16-2 16 12 4-1-3-16 2-8 5-7 8 0 8 7 14 8 9 8 1 8-7 16 0 8 7 15 8 6 24 4 2-1 5-8-3-8 3-8 11-8 12-24-4-16 4-8 10-9 8-4 8 1 3 4 6 16 7 5 16 0 8 5 17 14 31 12 2 4 22 24 12 8 20 4 16-12 16 0 16-10 8 1 19 9 9 32-4 16 8 8 4 8-3 16 4 8 19 23 8 5 8 1 9-13 0-8 3-8 12-5 8 1 6 4 2 8-8 7-8 2-6 7 2 16-1 8-3 7-9 1 0 8 3 8 6 7 8 2 8-1 16-8 8 1 11 15 5 12 8 7 8 2 4 3 9 24-359 0-6-6-8 2-8-1-4-3 1-16-4-32-5-8-4-3-16-4-8 1-5 6 5 24 8 7 2 9 6 11 8 5 7 8-1743 0 0-968zM1320 1137l-8 8-4 11 0 8 4 8 3 8-5 8 1 8 17 5 8 4 24 2 8-1 3-10 10-16-2-8-11-13-16-5-24-17zM2512 795l-11 9 2 8 1 1 8-2 3-7-3-8zM2648 962l-2 2 5 16 5 8 8 1 6-9-6-14-8-6zM2680 781l-4 7-6 16 0 8 2 5 8 0 8-3 5-10 2-8-7-13zM2736 815l-7 5 3 8 7 8 4 8-15 5-5 3 1 8 4 5 8-4 8-9 3 0-2-8 8-16-2-8-7-4zM2696 953l-6 11-1 16 9 8 5 8 1 12 8 4 16 1 8-2 5-7-3-16 0-8-2-4-8-5-16 0-8-10-6-5zM2664 1376l-4 4 3 8 1 0 4-8zM2436 908l4-3 3 3-3 3zM2400 948l0-1 2 1-2 1zM2407 972l1 0 3 16-3 2-3-2 0-8zM2741 1124l3-5 0 7zM2766 1132l2 0zM2706 1140l14-5 16-1 8 7 4 7 23 16 4 8-3 8-4 5-16-3-5-2-5-8-6-6-32 2-5-4-3-8 0-8 8-6zM1554 1212l6-3 0 4zM2031 1276l10 0 7 8-2 8-6 9-8-1-5-8-2-8zM1901 1316l11-6 6 6-2 8-4 8-8 3-4-3-2-8zM1832 1396l8 0-8 1zM2399 1580l9-3 1 3-1 4-8-1zM2526 1684l2-3 8 0 3 3 1 8-4 6-8-2-3-4zM2557 1748l3-3 8-1 13 12-28 0zM2604 1748l12-6 8 1 7 13-29 0z"/>
<path fill="#00f2ff" fill-rule="evenodd" d="M400 780l1896 0-16 13-8 3-3 8 3 4 8 1 16-1 7 4 17 1 5-1 2-16-5-16 37 0-7 3-7 5-1 10 8 4 8-8 8-2 8 3 16 9 16 14 2 2-2 8-16 9-7-1-2-8-7-12-8-3-9-1-7-5-8 0-9 5-3 8 13 16 3 8-2 8-2 2-16 5-24 0-14 9-7 8-3 5-8 5-8 9-3 5 2 16-1 8-22 24-8 7-8 3-11 14 1 8 6 8 20 12 10 4 10 8 1 8-3 16 2 8 0 8-7 8 2 8 17 16 0 8-6 16-5 8 1 8 15 16 11 15 8 5 8 3 8 8 8 18 8 10 16 3 3 2 0 8 3 8 2 1 8-1 8-9 8-4 14 13 10 1 8 4 16 15 24 15 16-1 16 4 8-3 5-11 11-11 8-3 24-2 16-6 16 3 48 0 7-13 9-9 8-5 32-3 8 4 4 5 0 8-4 3-12 5-4 4-3 4-5 16-9 8-4 16 5 8 16 0 16 14 16 7 16 16 8 5 13 14 11 8 8 1 8-7 32-15 0 18-27 19-4 8 10 16 1 8 8 8 7 16 5 4 0 340-30 0-18-13-19-27-10-16-27-16-28-24-20-25-8-5-8-2-24-18-7-6-13-16-12-10-16-6-8-6-13-18-19-14-16-18-32-28-7-12-2-16-7-5-8 2-6-5 3-8 0-8-5-13-7-11-17-6-8-6-8-24-14-20 0-16-18-2-5 2-11 8-9 0-7-10-3-14-2-16-3-8-8-9-24 10-8-2-8-12-16-11-8-11-32-1-8-4-8-9-16 1-8-5-8-10-8-6-8-13-8-5-24 1-7-2-19-8-6-6-8-2-9 8-15 2-4-2-5-8 1-16-1-16-7-8-9 0-7 5-8 10-8 4-8-1-4-2-1-8-3-4-8-4-6 8 0 8-10 1-8 3-2 4 4 8 2 8-3 16 15 11 8 4 8 1 11 8 2 8-13 17-8 4-8 1-8-1-8 4-8 1-8-9-3-9-5-6-16 3-16-7-16-2-14-20-4 0-6 5-13 19-6 32-5 5-8-5-8 3-5 5 6 8 11 24-6 8 1 8-7 2-16-18-3-8 4-24-1-8-4-8 1-16-1-8-4-8-8-4-16-3-8-3-8 3-40 26-8-2-3-17-4-8-9-10-24-12-8-8-8-3-8 0-16-7-16-1-16-11-11-20-13-13-16-12-8-4-8-1-16 2-8 6-17 6-3 8 1 16-2 8-5 8-6 4-8-1-3-3-1-8-4-9-8 0-8 14-8 9-8 3-8 0-14 7-1 8 5 8 1 8-7 8-2 8 1 8-7 4-8 2-11 10-13 8-50 16-11 8-6 8-17 16-5 8-6 8-9 5-8 5-8 0-16-6-8-2-8 1-8 2-32 18-24 8-8 2-16-6-8 0-13 5-8 8-2 8 5 24 4 8 9 8 21 5 16 0 16-10 8-2 24 6 16-1 16 10 8 2 32 5 16 5 24 0 32 8 32 6 24-6 24-19 32-5 16 2 8-2 48-25 8-2 16 1 8 1 8 4 8 9 8 0 16-7 8 4 10 3-7 8-2 8 7 8 16-5 16-8 8-2 8 2 8 5 8-2 8-5 8 0 8 10 8 2 48 3 8 3 16 15 8-6 8 0 10 12 22 10 16-4 40 1 24 20 8 1 8-4 8-1 32 14 8-2 8-6 8-1 8 4 9 8 15 5 8 1 3-6-11-24 8-5 8 2 8 3 9 8 1 8-14 24 4 3 16 18 16 10 8 2 16-4 5-5-1-16 4-6 16-5 2-13 5-16-5-16 6-8 8-4 8 2 1 18 7 2 16-2 8 1 24 20 16 5 11 6 17 16 12 16 8 6 8 2 16 0 8-4 8-7 16-1 16-9 8 2 6 3 10 8 6 16 0 8-6 16 11 16 2 16 3 8 16 21 12 11 4 8 2 8-2 8 3 8 14 16 7 7 3 1 4 8-2 8 3 10 32 15 5 7-314 0 0-16-3-9-16 9-4-8-4-24 1-8-3-8-6-5-8-4-8-2-16 0-8 0-4 3-1 8 4 8 1 8 0 24 16 11 3 5 0 8-1723 0 0-968zM1312 1137l-8 19-1 8 2 8 1 8-4 8-1 8 3 8 8 5 24 3 8-2 8-1 16 7 8-1 4-3 0-8 4-8 8-8 16-5 14-11 6-8-4-4-8-1-8 4-8 1-16-1-16-13-16-1-2-1-14-15-16 0zM1960 1146l-1 2 1 2 8-1 0-1zM1976 966l-5 6 1 8 4 10 8 1 8-1 24 6 24 12 8 8 8-2 3-2 1-8-20-11-16-16-8-3-16 5-8-3-8-9zM2112 1070l-3 6 5 0zM2128 1061l-7 7 5 8 10 4 8 0 4-4-4-3-8-10zM2160 1067l-1 1 2 0zM2176 1091l-2 1 0 8 2 2 8 5 8-3 3-4 3-8-6-4-8 0zM2592 1339l1 1zM2600 1371l-8 1 8 7 4-7zM2648 1299l0 9 1-8zM2120 1585l-8 11-2 8 2 3 8 0 27-3 1-8-4-3-8 0-11-5zM2024 1035l-3 1-5 8 8 10 8 4 14-6-2-8-12-10zM2648 1356l5 16-4 8 0 8 7 3 8 2 10-5 1-8-3-7-10-9-6-8zM2112 1640l-4 4 4 4 5-4zM2144 1634l-5 2-3 3-3 5 3 3 8 2 8-3 3-2-7-8zM2016 1074l-2 2 2 7 3-7zM2032 1108l-1 8 1 2 8 4 3-6-1-8-2-4zM2452 780l18 0-6 6-8 3-1-1zM2474 780l32 0-1 8-9 12-8 8-8-9-3-11zM2525 788l3-8 141 0-6 32 5 16-2 8-10 8-6 8 3 8 3 14 8-6 8 0 9 8 4 8-3 8-10 21-3 3-13 7-8 15-11 10-2 8 0 8 9 16 4 12 8 7 8 1 16-13 8 2 8 7 0 8 2 8 6 12 8-1 8-4 16-1 24-10 8-7 4 3 1 8-4 8-6 8 5 5 8 4 7-1-3-8 9-8 3-1 0 91-16-5-16-11-18-2-6-6-3-10 2-16-7-4-8 0-7-4-9-16-8 4-16 3-4 9-9 8-3 6-8 3-24 0-16-8-8-2-8-4-3-3 4-8-2-8-7-3-8 3-5 16-3 3-24-2-16 3-8-1-8-5-16-15-13-7-11-14-8-4-5-6-5-16 2-3 8 1 8-14-8-14-2-10 2-8 10-8 6-8 0-16 5-24-2-8 4-16-2-8 2-16-1-16 2-2 8 5 8 0 8-16 3-11zM2752 1051l-2 1-3 8 5 2 16-1 0-2-10-7zM2776 1066l-3 2 3 2 2-2zM2723 780l58 0 0 24-5 8-8 4-8 1-24-10-8 0-16 17-8 5-3-1-3-8 0-8 6-11 16-9 2-4zM2431 836l9-4 8-1 2 5-2 3-8 3-8-1zM2312 868l8-8 8 3 8 7 8 10 16 9 2 3 0 8-2 8-8 4-8 0-19-4-1-8 4-1 4-7-4-5-7 5-2 8-7 3-16-5-4 10-4 2-6-10 3-8 3-2 8 1 9-15zM2784 884l8-4 0 58-8-1-8-2-2-3-6-32 8-13zM2373 924l3-3 5 3-5 5zM2664 948l1 0-1 0zM2754 948l6-3 4 3-4 2zM2717 956l11-2 6 2-6 8-8-5zM2685 1060l3-3 8 0 4 3 2 8-6 3-8 1-4-4zM2714 1148l6-5 8 1 7 4 5 8-12 4-8-1-6-3zM2747 1164l5-3 8 2 4 9-4 4-8-1-2-3zM2455 1236l1-2 1 2-1 3zM2381 1412l3-4 6 4 1 8-7 1-2-1zM2454 1628l2-4 4 4-4 1zM2479 1700l9 4 8 20-8 8-8-3-3-5-10-8-3-8 8-5zM2616 1748l8 4 1 4-14 0zM2560 1756l8-4 4 4-12 0z"/>
<path fill="#0dfff2" fill-rule="evenodd" d="M400 780l1882 0-19 16-2 8 1 8-3 16 5 8 24-3 8-8 16-6 8 1 8 5 11 11 2 8-5 5-8 3-24 1-24 15-8 3-2-3-1-8-5-6-8 4-7 10 7 6 8 2-2 8-8 16 2 16-2 8-5 8-9 9-8 4-16-3-8 1-11 5-4 8 0 8 13 16 3 8 7 5 8 2 16 12 8 2 4 3 3 8-5 24-11 8-2 8 5 8 15 16 4 8-1 8-6 16 2 8 6 8 10 8 16 27 8 5 8 2 8 6 8 16 8 9 8 3 8 13 8 5 8-1 8-6 8-3 8 6 16 6 8 4 16 15 7 5 9 12 16 6 8 10 24-5 8 2 8 0 2-9-8-16 3-8 11-6 8 0 16 6 0 4 0-4 4-8 12-7 40 2 16-1 10 6 6 10 8 2 4 4 1 8-2 16 1 16-4 14-3 2 6 8 5 3 16 4 6-7-1-16-8-8-2-8 5-3 8 1 9 10 7 4 8 2 8 4 12 14 12 9 8 12 23 19 2 8 6 8 2 8 0 8 7 8 8 5 8 15 8 6 0 334-24 0-9-8-15-8-17-24-7-19-8-6-17-7-18-16-13-9-18-23-4-8 6-9 2-7-4-8-6-4-8 0-1 4 4 16-3 2-8 0-16-10-11-8-14-16-15-13-16-6-7-5-4-8-7-8-22-17-16-20-25-19-7-8-2-8 3-24 8-8 3-8-4-4-8 6-8 3-8 0-9-13 0-16-16-8-15-5-4-3-10-24 0-8 6-8 4-8-12-7-6-17-2-1-16 9-8 1-16 5-8-1-6-13-1-16-9-28-8-2-13 14-11 4-8-6-8-16-8-3-9-11-7-6-16 4-8-1-24-12-16 1-20-18-8-16-12-3-24-2-8-2-8-4-16-14-8-1-8 1-8 6-8-1-3-12-1-16-2-8-10-6-8 0-8 3-8 9-8 5-12-11-14-8-8-8-14-7-8 1-3 14 2 8 8 8-9 16 9 16-5 16 6 7 34 25-2 8-8 7-8 1-8-4-8 0-8 5-1-9-4-8-11-10-16 9-16-10-8 0-8-3-3-10-5-6-8-1-8 3-19 20-4 8 1 16-3 8-15 4-8-1-3-3-5-24-3-8-5-6-16-3-16-8-8 3-32 21-8-1-7-14-9-10-8-6-16-9-16-14-8-4-9 3-23-11-8-1-8-4-24-26-24-19-8-5-8-2-16 0-16 8-16 1-4 3-1 8 2 24-5 8-16-16-8-2-3 2-13 18-5-2-4-8-5-8-10-5-8 0-16 7-8 0-8-3-9-7-6-8 0-8-2-8-7-8-8-4-8 1-10 11-6 3-8 1-9 4-11 24-2 8 1 16-3 8-1 16 8 16 1 12 3 4 5 1 6-1 2-8 8-6 16-7 8-1 16 8 24 3 5-5 3-10 3 2 2 8-14 32-9 8-14 8-24 2-28 14-8 8-11 16-11 8-6 12-8 6-8 3-8 0-24-6-8 1-8 2-32 17-24 7-8 1-16-4-16 3-8 3-5 3-6 8-1 8 10 32 5 8 5 2 24 6 16 1 8-2 8-7 8-3 24 6 16 1 16 8 32 5 16 6 8 1 24-1 7 1 25 8 32 5 24-5 32-19 16-5 8 0 16 2 8 0 8-4 6-6 10-6 24-10 8-2 24 4 16 13 16-5 8 3 8 23 8 2 24-5 8-6 8-3 16 6 8 2 8-5 9 5 7 2 32 0 24 3 8 5 8 14 16 12 8 0 8-4 8 0 16 11 8 2 8-7 8-1 8 2 8 6 6 3 10-3 8 1 16 11 8 2 16-1 16 3 16 5 8-2 8-5 8 0 8 7 8 5 8 1 12 8-1 8 3 8 10 2 8-1 8 4 24 16 8 1 16-2 7-4 8-8 1-8 8 2 8-3 2-15 3-8-1-16 4-5 32-5 8 1 24 19 16 5 8 4 16 13 15 24 9 4 8 2 16 0 8-5 8-6 16-3 16-8 8 2 9 6 7 10 2 6 1 8-9 16 2 8 8 8 3 8-1 8 3 8 9 8 10 16 9 8 4 8 0 24 15 12 9 12 5 8 3 16 7 10 10 6 3 8-48 0-5-7-8-4-8 1-4 2-4 8-209 0 2-16-3-8-6-8-8-2-5-6 6-8 0-8-1-3-8-6-8-9-8-5-16-3-8 2-16-2-13 10 0 8 6 8 2 8-1 24 3 16 3 4 8 0 2 4-1714 0 0-968zM1048 1359l-7 5 1 8 6 9 21-9 3-5 0-4-8 2-8-4zM1976 960l-5 4-5 8 4 24 6 4 24 3 16-1 17 10 5 8-30 16-8 8 12 16-8 16 1 8 11 9 8-3 8 2-9 24 2 8 23 15 8 0 3-7-3-18 8-6-8-3-6-13 1-8 5-5 8 2 8 8 8-1 4-4 4-12 2 4 6 2 5 6 3 1 24 0 24 15-1 16 1 9 8-6 8-10 16 5 8-1 8-5 10-16 1-8-3-3-16 0-24 4-3-1 2-8 7-8 2-8-8-13-16 11-8 0-8-9-8-2-32 2-7 3-1 3-8 6-8 4-8 0-8-9-2-12 2-7 11-17 5-3 1-5-5-8-9-8-15-8-12-14-8-6-8-2-16 1-16-7zM2184 1002l-3 2-2 8 5 13 5-5 3-1 10-7 2-8-4-5-8 1zM2208 1058l-1 2 1 4 8 0 5-4-5-2zM2456 1395l-8 5-3 4-3 8 22 9 3-1 1-8-4-9-7-7zM2520 1349l-4 7 4 4 4-4zM2536 1253l-6 7 6 2 1-2zM2592 1329l-4 3-6 8 2 9 8 4 14-13 1-8-7-7zM2616 1307l0 2 1-1zM2664 1325l-2 7 1 8-7 4-8 2-10 10 4 16-12 16-3 16 5 8 8 1 5-9 3-3 24-6 8-7 2-8-13-24 3-8 8-5 5-11-5-5-8-1zM2688 1484l8 2 5-2-5-2zM2712 1455l-9 21 1 3 8-5 8-10 6-4-6-8zM2736 1450l-3 2-4 8 5 16-12 16 1 8-7 16 4 1 6-1 18-13 16-1 3-2 2-8-1-16-4-8-16-17zM2112 1570l-12 10 3 32 9 5 24-5 8 8-16 10-16 0-8 5-6 9 2 8 4 5 8 3 8 0 16 0 24-6 2-2 2-8-9-16 5-8 1-8-5-16-12-10-8-2-6-4-10-9zM2536 1290l-11 10-1 8 4 4 8-2 1-2 2-8-1-8zM2584 1364l-5 8 2 8 3 8 8 2 26-10 0-8-5-8-5-3-16-3zM2534 788l6-8 122 0 0 8-3 24 2 16-2 8-15 8-4 8 5 8 3 23 8 7 8-1 4 3-1 8-5 8-15 16-15 20-2 12 0 8 2 7 5 9-3 8-8 8 6 8 8 0 24 3 10-3 6-8 8 3 4 13 4 8-1 8-7 6-11 2-5 4-6 12-10 6-16 6-8 0-8-4-9-8-1-16-14-8-7-8 1-8-2-2-2 2 1 8-19 16-4 6-11-6-5-1-16 16-8-1-8-4-16-15-8-5-16-22 8-26 10-6-18-11-4-5-2-8 4-8 11-8 3-8-1-16 2-8 12-40-1-16 3-8 5-4 8-11 9-25zM2728 780l45 0-1 24-4 3-8 2-17-5-8-8-7-16zM2383 812l1-2 8 2 8 8-8 5-8-11zM2668 884l4-5 2 5-2 4zM2782 892l10-3 0 44-4-1-4-5-2-3 2-8-1-8-7-6 0-3zM2344 900l1 0-1 0zM2718 1028l10-2 16-1 4 3 3 8-23 12-8 0-4-4-1-8zM2779 1052l5-4 8-1 0 17-8-6zM2039 1068l8 0-7 5zM2772 1092l4-3 8 2 8 5 0 6-17-2zM2640 1204l8-1 8 2 16-3 5 2-5 7-8-4-2 5-12 8-3 8 2 8-9 6-6-6-6-16 2-8 2-2zM2046 1484l2-2 8 2 2 8-2 4-8-4z"/>
<path fill="#26ffd9" fill-rule="evenodd" d="M400 780l1767 0 1 3 8 6 6-9 91 0-9 8-6 8-2 16-3 16 3 9 5 7-5 8-8 8-5 8 3 8 7 8-7 16 1 24-7 9-8 3-8-1-16 1-11 4-8 8-4 8 0 8 3 8 10 8 2 8-8 5-16 6-5 5-3 8 1 8-17 26-16-6-8 0-48 6-8 6-8 1 0-7 8-5 9-21 0-8-6-8-9-8-18-12-16-17-16-9-8-3-24-1-8 1-11 9-4 8 2 16-1 8 6 8 24 8 8-1 8-3 8-1 8 5 1 8-9 8-23 8-6 8 14 16-4 16 2 8 9 11 7 5 2 8-6 8-4 8 9 4 12 12-20 17-17-9-5-8-3-8-15-2-16-6-11 8-1 16 2 8 5 8-1 8-6 16 0 8 8 8-1 8-3 10-24 6-8-4-5-4 2-16-5-2-40 7-26 27-4 8 2 16-4 4-8 2-7-6-6-24-6-8-5-2-16-3-5-3-3-4-8-3-40 23-22-24-26-16-24-22-24-7-16 0-8-3-46-40-10-6-8-3-16-1-16 6-16-2-14 6-2 3-10 5 10 5 3 11-3 4-8-4-8-2-16 7-8-1-16-8-16 2-8-2-8-16-8-9-8 0-17-11-7-2-8 0-8 4-8 10-16 6-7 6-11 32 1 8-7 40 4 8 4 16 8 9 8 2 8-3 13-8 10-16 9-2 8 5 16 6 11 7 1 8-3 8-10 8-7 3-8 1-16 0-32 14-8 11-5 11-19 16-2 8-6 5-8 3-16-1-16-3-8 1-16 6-16 9-16 6-24 4-16-3-23 5-16 8-6 8 16 48 13 6 24 5 24 1 16-10 8 1 24 3 24 11 32 3 16 7 40 1 48 12 8 1 33-9 15-7 11-9 13-5 8 0 32 5 12-16 28-12 8-1 24 11 8 9 8 4 2-3 6-5 8-3 8 8 8 25 8-1 8-6 16-1 16-10 8 1 16 7 24 1 32-1 16 5 8 0 5 4 8 16 19 14 8 1 8-8 8-1 16 13 8 3 16-8 8 1 8 5 8 1 8-1 8 1 16 10 8 2 32 1 24 6 8-6 8 3 8 8 8 4 8 8 4 7 4 3 16 7 16 3 24 15 16 0 4 4-20 12-3 4 2 8 5 8 3 8 1 11 4 13-16 8 12 32-8 7-9 1-5 8 5 8 9 9 3 7-2 8 3 16 1 24-1693 0 0-968zM648 1220l0 8 8 2 10-2-6-8-4-2zM1040 1356l-7 8 7 18 8 7 16-5 8 2 7-6 5-8 1-8-4-8-9-3-24-1zM1936 1088l-1 4 7 0zM2551 780l59 0 6 5 10-5 28 0 4 8-1 8-4 8 4 24-8 8-9 2-8 5-2 9 10 17 3 15 4 8 6 8-2 8-5 8-16 16-4 16 2 32-4 5-8 7-32 12-6 16-2 2-8 4-16 2-8 4-8 11-8 3-8-4-6-6-17-16-4-8-3-8-1-8 4-8 14-8 2-8-6-8-7-4-13-4-4-8 16-16 1-8-2-16 2-8 8-21 8-11 0-24 3-8 7-8 5-16 4-8 13-16zM2624 809l-3 3 3 2 3-2zM2733 780l33 0-2 16-4 5-8-1-8-4-8-11zM2303 828l9-2 8 1 11 9-1 8-10 2-24 0-3-2 3-9zM2280 852l8-3 2 3-2 2-8-1zM2213 1004l3-3 9 3-1 8-6 8 6 5 8 1 8-8 8 1 1 9-1 6-24 16-16-3-8 3-4 10 2 8-6 5-6-5 1-8-3-8 4-8 10-8 3-8 7-7 3-1 2-8zM2605 1012l3-6 8 1 8 9 8 0 24-5 16 2 8-2 8 6 2 3-2 5-3 3-13 3-5 5-3 7-8 8-16 7-8 1-8-7-1-16-5-8-10-4-4-4zM2089 1092l7-2 8 1 16-1 8 1 11 9 5 8 0 9-7 7-9 3-6 5 6 23 8-1 8-4 11-18 13-13 8-1 8 1 8-1 7-2 9-6 8-11 8-5 8-1 8 4 4 3 2 8 0 8 2 8 6 8 11 8 7 8 6 16 10 12 16 5 7 7 9 16 2 8 6 8 8 0 16 11 24-7 16 6 11 6 21 18 5 6 4 8 7 7 8 4 8 21 8-2 9-6 7-8 8-1 19 17 0 8-3 5 0 5 8 0 8 1 4 5 0 8-17 16-3 8 3 8 5 4 8 3 8-2 9-21 2-24 5-13 3-3 1-16 4-8 8 0 5-8-2-8-3-3-8-3-2-2-4-8 2-8 4-8 8-2 32 2 16-1 2 1 7 8 3 8 6 8 1 8-3 8-8 8-8 5-16-9-6 12-18 8-12 8 4 7 8 0 18-7 6-6 6 6 0 8-7 8-11 8-4 8 2 16-4 8-2 8 12 26 8 1 8-6 8-1 8 1 2 3-2 9-15 15 3 8 4 3 8-2 8-7 16 1 7-3 9-16 25-8 20-16 0-8-14-16 0-8 5-8 7-8 1-8 4-1 8 5 10 12 22 20 9 12 3 8-1 8 3 8 14 8 8 16 12 6 0 39-8-2-16 0-8-4-16-17-16-3-8-3-8 3-5 13-11 16-16 12-2 12 2 2 8 3 8 0 8-3 8 1 2 5-8 16 4 8 2 1 24-5 8-3 8-6 8 0 6 5-4 8 5 8 4 0 5-1 3-7-3-6-5-2-2-8 5-16 2-5 4-3 12-6 0 278-12 0-11-8-17-6-8-6-13-20-3-8 0-20-8-11-16 1-4-2-5-8-7-5-8 0-8-3-8-7-10-17-2-8 5-16-3-8-6-6-8-5-8-3-8 4 0 10-4 8-4 0-16-8-12-16-12-12-8-5-8-2-11-5-8-16-24-16-8-8-13-20-6-4-2-4-16-9-3-3 1-8 4-8-1-8 3-8 12-13 19-11 5-8 2-8-2-1-8 1-16 5-8-1-10-12-6-15-8-7-8 2-16 13-8 2-8-1-8-4-8-14-2-8 2-7 8-10 11-7 9-8 5-8-1-3-8-2-8 7-8 2-8-2-2-2-1-8-5-6-8-3-8 4-8 7-24 4-7-6-1-8 0-11-3-13 1-16 2-8 0-8-8-8-8 1-9 15-15 18-8 3-4-5-4-17-16-7-8-10-8-3-16 3-13-6-11-3-24-2-8-6-6-5-3-8 9-12 2-4-2-2-8-2-16 5-32-4-8-2-4-3-12-13-16-8-8-2-6 7-2 1-1-1-2-8 3-7 8 6 4-7-7-24-3-16 15-24 7-7zM2112 1109l-4 7 4 6 5-6zM2584 1458l-2 2 0 8 2 5 8 9 8 1 5-7-4-8-9-10zM2720 1378l-3 2 3 5 2-5zM2712 1651l-2 1-2 8 4 9 8 7 14-8 1-8-15-10zM2488 1484l1 0zM1949 1228l3-3 8 3-6 8-3 0zM2509 1252l3-7 3 7-3 2zM2519 1268l9 4 4 4-1 8-11 9-8-3-1-6 1-10zM2675 1308l5-2 8 0 4 2 6 8-2 5-8-4-10-1zM2618 1324l6-3 22 11-4 8-18 14-8-16-1-6 1-5zM2630 1364l2-1 0 3zM2167 1492l17-2 8 1 8 4 16 13 16 3 8 5 10 8 6 8 8 17 8 6 23 9 9 7 1 9 7 9 8 1 8-3 16 1 8-4 4-4-6-16-6-4-16 10-19-6 3-3 1-5 7-7 16-3 9-6 7-2 7 2 9 6 6 10 0 8-12 16 0 8 6 8 0 8-6 8 1 8 5 10 16 2 8 6 5 6 9 8 5 8-3 17-6 7-2 1-8-3-8-1-8 4 0 22 5 17 6 8 2 8-4 16-199 0 1-16-1-8-9-16-1-16-8-17-16-15 8-5 8-11 1-8-3-16 1-8-6-24-9-12-16-7-8-6-7-7-2-8 9-6 8-1 16 8 8-1 4-8 0-8-4-8-6-8-1-8 10-16zM2320 1616l-3 4-3 8 3 8 3 2 9-2 1-8-7-8zM2415 1700l9-3 8 6 3 5 11 32 2 8-3 8-17 0-12-16-4-8 4-8 0-3-4-13z"/>
<path fill="#40ffbf" fill-rule="evenodd" d="M400 780l1763 0 5 14 8 7 8-4 4-17 76 0-9 8-5 8 0 16-3 16 7 16-3 8-9 8-4 8 1 8 5 8-4 13-8 9-4-6-4-2-8-2-4 4 4 9 6 7 2 6 3 2-35 13-11 11-10 16 0 8 4 16-7 10-16 7-5 7-1 16-2 2-40 9-16-1-3-2 1-16-2-8-3-8-31-24-18-19-16-13-40 1-19 15-1 8 2 8 0 8-6 11-7 5 7 4 24 3 9 9-2 8-7 6-8 2-8-1-15-15-1-4-5 4 0 8 12 16-2 16 2 8 1 2 8-1 8-7 8-5 8 0 5 3 3 8-1 8 2 8 12 16-1 8-12 15-24 1-8-5-8-2-24 9-2 6 5 8 8 32-8 16-3 8 11 16-3 3-8 2-7-5 1-8-4-8-6-3-16 4-32 5-8 6-16 20-16 13-11-13-13-7-9-1-15-13-8 0-16 10-8 2-16-1-8-2-13-12-27-14-16-17-8-5-24-9-16 2-8-3-56-45-8-4-24 1-8-2-8-4-8 0-8 4-8 8-24 6-8-1-3-5-5-2-3 2 1 8 10 1 7 7 2 8-9 6-8-1-16-8-16 1-8-7-9-15-7-5-8 1-16-9-16-2-8 2-13 13-17 8-7 8-3 16-6 16-5 32-5 24 1 8 7 5 11 19 5 24-10 24-6 5-8 1-8 0-2 2 1 16-7 3-8 1-24-3-8 1-16 6-24 13-24 5-8 0-16-3-24 5-16 5-8-1-16-9-16-2-8 1-21 10-10 8 7 4 4 4 4 5 8 16 8 6 16-4 8 3 8-1 8-7 8 14-4 8 0 8 18 8 34 7 24 2 8 0 8-7 5-2 27 2 24 11 32 2 16 8 24-1 16 1 36 9 12 5 8-1 16-5 32-8 16-13 8-3 8 0 16 4 8 3 8 7 8 1 11-6-2-8-5-8 4-5 3-3 21-7 8-1 8 4 15 12 9 18 8 2 8-18 8-4 8 14 4 20 4 2 11-2 5-5 8-1 8 0 16-12 8 0 16 6 8 1 40-3 8 2 8 6 16 6 8 13 14 11 4 8 3 8 3 4 11-4 5-10 5-6 3-1 16 13 8 1 16-8 8 0 8 5 16 0 11 6 5 6 32 2 16-2 8 0 4 2 8 8 2 8 2 2 8 2 8-3 8 0 23 15 41 18 7 6 1 8-4 8 1 8 11 12 2 4-1 8-13 16-4 8-2 8 1 8-5 16-1 16 0 8 4 8 0 16 3 6 12 10 2 8 2 16-1688 0 0-968zM648 947l-3 1 3 2 6-2zM664 947l-7 1 7 6 5-6zM776 1210l-2 2 3 0zM848 1019l0 2 1-1zM880 1358l-6 6 6 7 8 1 3 0 5-8-8-5zM1000 1361l-5 3-4 8 9 3 8-2 5-9-5-1zM1928 1081l-3 3 1 8 2 2 16 6 8 2 4-2 4-8-8-12-16-2zM2224 818l-2 10 2 5 8-1 5-12-5-6zM1896 1514l-1 2 1 1 8 3 6-4-6-7zM648 1213l-7 7-1 8 8 5 8 3 8 0 18-8-4-8-14-3-8-5zM1008 1400l-2 4 10 10 19 14 5 1 3-1 4-8-4-8-3-3-8-2-16-10zM2557 788l5-8 41 0-3 6-8 10-1 8 1 2 16 5 18 17-10 32 0 16-14 16 6 5 8 3 8-1 5-7-6-8-3-8 12-3 4 11 0 8 4 2 3 6 1 8-4 7-8 3-8-5-8 1-17 18 1 7 8 3 8-6 4 4 1 8 1 24-2 8-14 8-14 6-8 1-8-7-5-16 0-8-3-8-8-10-7 2-2 8 1 8 12 8 1 16 9 8-2 8-4 10-8 1-16 8-8 13-8 5-8-3-16-18-6-8-2-8 1-8 15-12 7-4 1-4 8-2 1-2-9-1-8-6-8-9-14-8 11-16-3-24 4-16 4-8 10-8 2-8-3-16 1-8 11-16 4-16 5-7 16-12zM2633 788l7-4 8 0 3 4-1 8-2 5-8 0-10-5 2-2zM2742 780l14 0-4 5-8-2zM2639 820l1-2 8-2 2 4-2 9-8-2zM2001 1020l7-5 8-1 2 6-10 5zM2651 1020l5-3 14 3-6 9-8 2-2-3zM2631 1044l1-4 4 4-3 8-1 0zM2095 1108l1-1 4 17-4 4-8 3-8 0-4-7 4-8 8-7zM2218 1108l6-6 8-1 7 7-1 8-7 8 0 8 18 8 7 1 8 5 6 10 2 10 8 12 8 5 12 5 12 14 3 18 5 5 16 2 8 8 8 3 24-8 8 1 11 5 17 16 11 8 3 8-1 8 1 8 7 8 8 16 7 4 16 0 8-2 16-11 8 7-2 18 2 4 8 4 1 8-6 8-2 8-1 16 8 9 8 4 3 3 0 8-3 1-5-1-11-11-7 11 0 8-9 3-8-12-6-15-10-9-8 0-8 5-8 12-8 6-8 0-8-6-4-8-1-8 4-8 9-5 8-2 16-17 2-8-5-16-5-4-8 3-8 8-8 2-1-9-7-5-22-3 6-10 2-6-10-3-3 3 3 16-8 9-8 4-8 2-8-7 1-16-4-24 1-16-1-8-5-5-8-1-8 0-8 5-8 16-8 7-8-6-1-8-7-4-8-1-7-3-9-10-16-2-16-4-8 0-32-4-6-4-2-8 12-8-1-8-8-8-16-8-3-10-6 2 3 8-1 8-12 4-24-4-8-3-6-5-8-16-2-9 8-4 8 2 8 4 8 0 16-7 8-7 9-19 7-7 8-2 16 0 8-2 11-5 5-6zM2408 1299l0 6 8-4 0-2zM1997 1140l3-2 7 2-7 6zM1347 1228l5-2 5 2 8 8-3 16-10 5-16-1-8 5-3-1-4-8 15-8 8-11zM2559 1244l2 0 1 8-2 2-4-2zM2595 1244l5-2 8 0 2 2-2 11-8 6-5 7-3 1-8 10-8 5-4-8-2-8 3-8 11-9 8-3zM2556 1332l4-3 8-3 2 22-1 8-4 8 1 8 5 8 12 32 9 10 8 14 16 12 8-14 8-3 17-3 7-8 4-8 10-8 26-3 8-9 16 3 8-2 5-5 0-16 3-4 8 1 3 3 3 8-2 8 1 8 15 8 4 4 4 12 4 5 8 5 8 1 0 26-32-9-8-9-8-4-16-4-8-4-8 1-8 18-8 11-16 4-12 31-1 8 5 4 8 0 18 4-1 8-4 8-2 8 13 6 9-6 15-5 8 0 24 9 16 2 8-1 8-5-12-24-1-8 4-8 9-6 0 180-3 2-4 8-1 16-2 8 1 8 9 1 0 45-8-6-8-9-8 0-8 2-8-2-7-7-10-16-2-8 5-24 6-7 21-9 7-8-4-4-7-4 3-8 0-8-4-23-8 0-5 7 0 16-1 8-2 5-8 3-16-8-8-1-8 1-13 8-11 4-8-3-6-9-3-16-3-32-12-4-16-11-8-3-8 9-2 9-6 6-8-5-5-9-10-8-9-12-8-3-8 1-5-2-3-8 6-8 1-8-7-3-8 4-8-1-16-8-8-8-5-8-6-16 5-16-2-6-16-7-3-3-3-8 3-8 8-8 21-8 6-4 5-12 5-8 0-16 12-16-4-16 2-8 12-21zM2640 1487l-2 5 4 0zM2656 1518l-5 6 5 4 3-4zM2664 1581l-3 7 3 5 8 0 12-5-12-5zM2712 1562l0 2zM2728 1593l-8 11 8 10 8 1 5-11-2-8-3-3zM2544 1425l-4 11 1 8 11 10 8 3 8-1 4 4 4 6 10 26-10 8-16 8 8 17 8-1 10-8 5-8 1-7 8-2 8 8 8-17 8-5 5-1-5-9-16-10-13-13-3-1-16 1-8-4-11-12-5-10zM2680 1626l0 3 8 1 1-2-1-3zM2600 1555l-3 1 3 5 6-5zM2698 1348l6-5 8 0 9 13-1 8-8 4-11-12zM2187 1500l5-2 8 3 16 12 16 3 8 5 11 11 13 25 17 7 15 14 15 18 2 8-4 24 3 13 8 3 16-4 3-4-3-8-9-16 0-8 1-3 5-5 3-1 8 3 6 6 18 48-2 8-4 8 5 8 2 8-1 16 1 8 13 32-4 16-190 0 1-16-1-8-7-16-4-24-7-16-1-8 3-24-1-24-5-32-14-15-2-1 10-2 8-14 2-8 0-8-3-8-5-8-1-8 7-5 9-3 7-6zM2362 1556l6-1 0 5zM2130 1564l6-5 8 5-8 4zM2369 1652l7-6 8-2 8 3 7 5 6 8-2 8-3 4-8 2-8 0-8-3-3-3-3-8zM2424 1708l0 2zM2426 1740l6-6 6 6 0 8-6 2-1-2z"/>
<path fill="#59ffa6" fill-rule="evenodd" d="M400 780l1759 0 4 16 5 8 16 16 8 5 6-5-5-16 2-24 20 0 9 5 4 3 3 8-3 8-9 8-11 14-7 2 5 8-4 8-10 7-14 17-1 8 3 8 0 8-5 8 1 11 8 12 11-15 5-4 8 6 3 6 0 8-11 3-8-2-8 9-17 22-3 8-1 24-3 5-16 4-12 15 2 8-8 8-22 8-8-1-5-7-3-16-3-8-8-8-21-16-32-34-8-5-24 3-24-6-8 0-9 2-15 8 1 8 3 8 12 13 1 3-1 7-11 9-13 16-7 16 15 9 6 7 3 8-7 16-14 8-10 8 4 8 26 16-5 8-19 5-3 3 0 8 6 8 4 8 4 24-3 7-16 6-8 6-8 2-24 1-16 5-5 5-3 8-16 17-8 0-29-17-4-8-15-4-8 1-16 11-8 1-24-8-8-7-16-5-16-9-16-19-8-6-9-3-7-6-24 6-8-3-16-11-40-35-8-3-16 0-16-6-8-1-16 1-6 2-6 8-12 7-8-1-16-8-16 9-10 1-3 8-3 3-8-6-1-13-7-7-16 3-32-10-8 1-8 4-8 10-8 7-16 9-4 23-11 32-1 16-12 32 4 8 8 4 8 7 10 21 1 8-11 23-16-2-8 7-2 4 3 8-1 2-8 6-16-3-8 0-16 4-8 3-19 12-13 4-16 2-24-2-16 3-11 1-13 4-8-1-16-8-16-4-8 2-16 9-16 3-24 0-26 11-6 4-8-2-8-5-8 0-3 3 11 9 11 15 5 4 8 0 8-4 26 0-3 16 7 8 20 16 14 5 8-2 3-3 1-16 4-5 8-3 8 2 8 6 5 8 9 8 18 5 16 1 16 5 16 1 16 3 16-8 24-1 24 12 8 1 16-2 8 1 16 9 24-2 24 2 40 14 8-1 16-7 32-4 8-3 7-10 9-5 8 1 10 4 22 12 8 1 22-13 2-8-7-8 12-8 11-2 16 10 5 8 0 8 6 8 13 9 3-1 5-19 8-8 5 11 0 8-1 8 4 4 8 3 24-3 8 0 8-4 8-9 8-2 24 4 41-1 28 16 9 16 10 9 10 15 6 5 16-10 8-1 8 3 8 1 16-4 8-6 8 1 5 3 0 8-13 8-4 8 0 8 4 4 16-13 8 0 8 4 8 1 11-4 13-7 16-2 16-5 8 1 6 5 3 8 7 7 8 2 16 2 32 14 26 15 5 8-2 8 1 8 12 16-2 8-8 8-5 8-3 12-11 12 1 8 5 8 2 8-1 16 2 8 2 24 15 16 4 16-1683 0 0-968zM624 921l-3 3 7 8 1 8 5 8 6 8 8 5 8 3 8-3 15-5 8-8-7-7-4-1-28-2-10-6-6-9zM768 1202l-8 6-8 1-16 7-16 2-6 2-2 5-4 3 4 1 8 7 8 1 16-9 8-7 8-3 8 5 8-1 13-10 2-8-15-6zM856 1003l-8 4-6 5-3 8 5 8 4 3 6-3 5-8 1-8-2-8zM880 1354l-6 2-5 8 3 8 8 3 16 1 6-4 1-8-9-8-6-2zM1656 1141l-7 7 15 7 7-7-7-4zM648 1209l-13 11-4 8 13 8 20 2 36-10-3-8-9-4-16-1-16-6zM2570 780l24 0-9 8-9 12-8 1-3-5 5-8zM2552 804l8-1 2 1 0 8 3 8 3 4 32-4 11 8 3 8 0 8-6 21-8 11-16 16 5 8 12 8 2 8-7 8-3 8 4 16-2 8-3 4-8 5-13-17-8-16 8-16-3-3-8-1-3 4 0 8-13 12-16 0-14 4 0 8-2 2-1-2 0-8-7-16-2-16 4-16 6-7 8-4 3-5 0-8-4-16 1-8 8-11 6-5 3-16 7-6 8-2zM2237 844l3-5 6 5-2 8-10 8-2 8 3 16-3 5-24-5-7-8 7-4 9-12 15-11zM2517 956l3-4 10 4-10 3zM2605 956l3-1 8 0 0 17-8 7-16 4-3-3 1-8 2-2 8-2 3-4zM2517 988l3-2 19 2 5 2 3 6-1 8-5 8-6 16-7 9-8-3-17-22-2-8 5-8 6-5zM1961 1020l7-3 5 3-5 4zM1975 1068l3 0 6 7 4 17 0 8-2 8-2 3-8 4-8 1-5-8 4-8-1-24 2-2zM2222 1116l2-4 4 4-4 3zM2207 1124l9-2 3 2 3 8 18 13 8 4 8 0 8 7 1 16-7 16 6 6 16-6 8 2 6 6 2 18 4 6 4 1 8 11 7 4-9 8-6 4-16-5-8 2-8 1-2-2-1-8-5-8-8 1-8 5-8-1-8-3-8-1-8 1-8 0-8-4-5-6 1-8-4-10-8-10-8-4-8-8-9-24 0-8 2-8 7-10 8-3 16 1 8-2zM2110 1180l2-3 8-1 8 4 8-3 8 6 1 5-1 4-8 0-8-2-8 0-8-3zM2377 1236l7 0 8 5 10 11 13 8 4 8-5 8-6 5-8 5-8 0-8-3-8-1-6 2-6 8-2 8 0 8-2 3-7-3 3-8-7-16-2-8 2-16 3-8 8-8 16-8zM2576 1268l8-2 1 2-9 0zM2459 1332l5-2 16 5 8 6 4 7-5 32-7 8-8-7-8-11-8-5-16-6-1-3 9-7 7-9 1-4zM2549 1356l3-4 7 4-6 16 7 2 8 9 2 5 2 8-1 16 17 16 3 8-6 8-9-1-8-6-5-9 0-8-4-8-16-8-3-8 9-16 3-8-5-8zM2412 1372l4-2 4 2 4 4 2 4-2 5-4 3-4 1-7-9zM1024 1380l4 8-4 3-5-3zM2712 1404l16-1 3 1 0 16-3 2-16-5-5-5 5-8zM2671 1412l9-3 7 3 1 14 8 1 4 9-1 8-3 5-8 0-8-9-8-5-6-7 1-8zM2755 1412l5-3 3 3 0 8-3 4-4-4zM2638 1436l10 1 8 10 12 5 3 8-7 23-8 0-13-7-10-8-3-8 0-8 2-10zM2788 1444l4-4 0 6zM2517 1452l5 0 14 7 8 8 8 1 8-2 8 0 8 18-2 8-19 8-2 8 2 8-2 8-9 5-16 1-8-2-8-9-5-11 0-8 5-12 8-9 8-3-8-21zM2536 1480l-6 4 6 9 2-9zM2624 1500l22 8-6 3-16 2-2-5zM2792 1500l0 1zM2187 1508l5-4 8 2 16 12 8 3 8 1 8 4 5 6 13 24 6 7 8 3 8 6 16 15 8 9 3 8-1 32 2 8 4 6 8 1 8-2 8 0 11-5 5-5 6 13-6 11-8 1-7 4 0 8 7 1 8-4 8 5 3 6-1 16 1 8 2 8 11 24-2 8-5 8-13 0-4-2-4 2-157 0 1-16-2-8-6-16-2-16-8-24-1-8 3-40-5-24 3-16-3-24 5-24-2-8-5-8 2-8 13-6zM2328 1708l-6 0 6 9 1-1-1-8zM2598 1516l2-1 16 8 8 7 16 2 8 6 8 2 16-7 5 7 3 8 8-2 9 2 1 8-2 5-4 3-5 8-7 3-11-3-5-3-8 1-8 11-4-9 4-8-5-8-11 0-24-9-8 0-16 9-8 0-7-8 1-8 6-7 16-14zM2680 1548l-5 8 5 5 5-5zM2672 1524l0-1 1 1-1 4zM2719 1540l9-8 8 1 16 8 24 3 16 7 0 104-8-2-10-9-3-8-2-8 0-8 7-7 8-2 4-7-12-6-8-6-8 0-8 3-8-2-14-13 1-8-2-8-7-8-2-8zM2708 1588l4-6 8 3 2 3-10 4zM2671 1604l17-7 8 0 8 11 16 8 8 12 8 3 4 5-2 8-2 2-7-2-9-8-16-2-5-6-3-10-8-6-8-1-8 4-1-3zM2336 1612l0-1 8 2 3 7-3 7-8-13zM2676 1644l4-3 5 3-5 3zM2379 1660l5-8 8 2 7 6-7 8-8 0zM2751 1684l9-3 8 0 5 3-5 24-3 8-2 16-3 2-8 0-8-10-4-8-1-8 6-16zM2790 1724l2-2 0 18-3-8z"/>
<path fill="#73ff8c" fill-rule="evenodd" d="M400 780l1756 0 4 22 8 13 16 13 1 8-4 8-2 8-8 16 0 16-4 16-1 16 2 8 4 8-11 24-4 24-5 5-8 1-8 4-24 35-8 3-8-6-7-18-6-8-22-16-37-44-8-2-16 2-8 0-16-5-24 2-8-2-16 9-8-1-9-7-7-3-6 3-2 3-7 5 7 3 16 17 16 2 8 10 9 8-3 8-22 20-8 20 0 8 8 13 8 3 8-1 0 3-5 6-11 8-16 6-2 2-2 8 0 8 4 7 11 1 18 8-5 4-8 0-7 4-3 8 0 8 12 16 2 16-3 8-9 5-8 9-5 2-3 1-24-2-27 9-3 8-2 8-8 9-8 1-16-8-2-2-2-8-4-6-16-1-8-4-8 0-8 5-8 7-8 2-21-11-27-8-15-8-6-8-2-8 4-16-6-8-15-8-8 1-8 8-8 5-8 4-8 1-8-3-13-8-11-10-18-14-14-16-8-3-16-1-8-8-8 1-8 4-24 1-8 4-8 11-8-1-16-7-8 2-8 4-8 1-8-1-8-7-6-8-2-8-8-4-8 3-8 9-8 1-8-3-6-6-2-5-8 2-2 3-6 4-8 8-6 12-18 9-7 7 0 16-1 5-14 35-1 16-11 32 3 8 18 16 10 16 1 8-6 7-16 7-12 10-3 8-1 9-16-2-32 8-16 12-16 6-16 1-24-2-16 4-16 1-8 3-8-1-24-12-8 0-8 2-16 9-8 0-8-2-24 2-8 2-8 5-16 4-8-2-8-5-8 1-16 9-8 0-24-10-8 0-12 6-4 8 2 8 6 4 24 5 8-4 8-7 8-2 8 2 8 3 20 23 12 3 16-3 8 5 8 11 19 16 13 7 6 1 10 0 8-7 1-9 4-8 3-1 8 1 16 16 18 8 22 2 16 6 16 0 16 4 8-1 16-8 16-2 8 3 16 10 8 1 16-3 8 1 16 9 16-2 32 2 24 8 8 5 8 2 8-2 16-7 8-1 16-2 16 3 4-4 12-16 8 5 3 11 5 3 8-4 8-1 8 4 8 0 16-10 8-3 16-1 24 8 16 12 56 5 8-1 8-3 16-12 8-1 40 3 10 1 6 6 16 2 8 4 3 4 1 8 3 8 9 3 6 5 10 16 8 5 16-11 8-1 24 6 4 9 4 16 8 3 6-3 10-10 8 0 8 3 8-1 32-9 8-1 16-7 5 1 3 1 3 7 8 8 21 6 40 16 14 10 6 8 4 16 9 16-4 8-7 8-4 16-15 16 10 16 3 8-2 16 6 16-2 16 15 24 4 8-1677 0 0-968zM600 907l-3 1-2 8 13 7 8 9 3 8 7 8 14 15 8 4 8 2 32-11 23-2-7-3-3-5-21-17-8-1-16 4-8-2-7-8-9-8-24-9zM712 961l0 3 8 2 2-2-2-2zM776 1193l-8 3-8 5-11 3-13 7-24 4-8 0-8-4-8 0-16 0-16-5-8 0-16 11-7 3-2 8 12 8 21 5 8 0 32-7 16 4 8 4 8 3 16-5 8 2 8-3 13-11 14-8 9-8 4-9-6-7-10-2zM816 982l-5 6 2 8 11 6 8-3 0-3-2-8-6-6zM856 993l-16 10-3 1-4 8-1 8 4 8 12 8 8-3 6-5 2-5 4-3 3-8 5-16-12-3zM880 1019l-1 1 9 12 8 0 2-4-1-8-9-2zM2212 796l4-2 3 2-3 3zM2207 804l1-2 1 10-2 0zM2534 836l2-2 8 1 7 9 9 0 8-5 8-7 8 0 16 2 8 10-2 8-6 7-8-7-8-4-7 4-3 8 2 6 6 10-14 18-9 6-9 8-3 16-3 3-8 1-24-4-2-8-1-16 2-8 17-6 3-2-1-8-6-24 1-8 3-5zM2544 883l-3 1-1 8 5 0 1-8zM2584 908l9 8-9 2 0-2zM2574 932l10-7 5 15-5 10-8-5-3-5zM2514 996l6-4 8 2 3 2 2 8-1 16-4 10-8-2-11-16-2-8 5-6zM2175 1132l33-1 8 3 16 11 8 8 16 11-1 8-3 8-8 16 1 8 3 2 8 1 24-12 2 1 6 8-8 18-8 2-16-3-8 5-8 0-8-4-8-2-8 3-8-2-24-40-8-6-11-27 0-8 3-4zM2384 1244l18 16 6 8-8 7-4 1-28-1-8 2-4-9 1-8 5-8 14-7zM2462 1348l2-2 8-3 8 2 4 3 2 8-6 19-8-4-14-15zM2550 1388l2-3 8-3 6 6 1 8-7 8-8-3-5-5zM1540 1428l4-2 7 2 5 8-4 5-8-2-2-3zM2655 1460l3 0 2 8-4 3-5-3zM2556 1484l4-3 2 3-2 1zM2512 1500l8-8 8 11 8 5 8-1 3 9-3 3-24 3-9-14zM2183 1516l9-6 8 0 24 18 8 1 5 3 11 13 8 14 8 10 6 3 7 8 11 7 9 9 4 8 1 40 9 16 0 8 1 3 24 14 16-3 3 2 1 8-2 8 1 8 15 32-2 5-8 4-12-9-7-8-2-8 2-16-5-5-24-5-5 2-2 8 18 16 12 16 3 8 2 8-146 0 0-16-1-8-6-16-3-16-7-24 0-16 2-32-4-24 4-16-2-24 6-24-2-8-5-8zM2592 1532l8-3 2 3-2 8-8 2-8 5-4-7 4-3zM2728 1540l8-1 13 9 11 24 0 8-8 7-8-1-6-6-1-16-11-16zM2776 1580l16-4 0 21-14-9-2-8zM2781 1620l11-5 0 32-8-4-6-7-2-9zM2751 1708l1-2 2 2 2 8-2 8-2 1-4-9z"/>
<path fill="#8cff73" fill-rule="evenodd" d="M400 780l1752 0 2 16 6 19 7 13 0 24-2 8-1 16-5 16 2 16-3 16 1 16-4 16-3 20-8 3-8 2-8 8-16 25-8 4-7-6-6-16-27-18-24-31-8-14-8-5-24-1-8-2-32 2-8-1-8-8-8-4-5 2-3 15-8 0-8-8-8-1-16 8-8 1-7 9 4 8 19 5 10 11 4 8-15 32 1 3 10 5 3 8-2 16 3 8 5 8 1 8-20 12-2 4-2 24 12 16 1 16 2 8 8 8 1 8-1 8-11 16-8 5-24-5-8 0-8 2-16 7-8 7-3 16-5 2-9-2-7-16-8-5-16-3-8-5-8 3-16 11-8 3-16-10-24-4-16-6-7-8-2-8 5-16-4-7-24-15-8 0-15 14-9 4-8 1-16-5-32-28-4-4-4-11-4-5-4-3-16 0-8-5-3-8 0-8-5-16-8 4-13 12 3 16-6 3-16 0-8 4-8 7-8 3-16-5-24 6-8-2-7-8-3-16-6-7-8 0-24 18-8-7-8-16-24-11-8 4-2 3 1 16 0 16-3 8-4 3-8 4-8 7-6 10 2 16-2 8-15 32-2 24-6 16-1 8 3 8 14 16 10 16 0 8-13 8-24 22-40 13-8 5-8 8-16 6-40-1-16 4-16 0-8 2-8 0-24-12-16 2-16 7-16-6-16 7-16 1-16 8-8-1-16-8-8 2-8 7-8 3-8 1-24-8-8 1-8 2-8 6-5 9 1 8 4 3 8 4 24 5 8-2 8-6 8-2 8 1 10 5 11 16 11 6 24 1 29 25 11 7 8 3 16 1 8-2 3-1 5-8 3-8 5-1 16 13 16 8 24 2 16 7 16 0 16 4 8-1 24-10 8-1 9 3 15 13 8 0 16-6 8 1 8 7 8 3 16-3 16 3 16 0 20 6 12 8 8 1 24-10 16-2 8 0 16 9 16-12 8 7 8 0 8-4 8 0 8 3 8-1 16-10 8-2 16 2 8 4 16 1 16 11 24 0 32 7 16-4 16-10 8-2 32 0 8 2 16 10 8 2 6 6 0 8 2 5 16 1 8 4 5 6 8 16 11 10 8 0 8-18 8-1 16 6 5 3 3 6 2 10 6 6 8 2 8-3 8-6 16-2 16-3 16-2 32-5 7 5 28 8 21 10 18 6 11 8 13 24 5 16-7 12-8 7-10 5-2 16-5 8 4 8 12 8 4 8-2 16 7 16-3 16 2 8 4 8 3 16-1662 0 0-968zM584 902l-7 6 7 3 3 5 21 14 2 2 4 16 26 22 16 3 16-5 24-5 8 3 16 9 8-3 3-8-5-8-14-7-16-12-16-14-8 0-16 5-8-2-10-10-30-14-16 0zM768 1193l-8 5-16 4-8 6-8 1-16 2-16-4-24 1-16-5-8 0-32 16 0 9 11 8 29 7 8 0 16-4 16-1 8 1 24 10 16 0 8 2 8-2 11-13 29-23 5-9-2-8-3-3-8-3-16 0zM824 970l-16 4-4 6-3 16-4 8 3 3 8-5 8 3 8 7 0 8 4 8 11 8 9 5 8-2 8-6 8-2 16 11 16 2 2-8 1-16 5-12 8 0 8 5 13-1-1-8-12-4-16 3-8 0-8 3-8-2 4-8-4-11-16 1-16-3-8 1-6-4-2-8-8-6zM1360 1011l-1 1 1 4 3-4zM1504 1022l-5 6 5 8 8 1 1-1 1-8-2-3zM1896 792l-6 4 6 2 3-2zM1936 844l-1 8 5 0zM1960 831l-8 12-5 1 5 2 8 8 10 14 6 5 8-1 2-4 0-8-2-8-16-19zM2000 810l-8 6-9 12 1 3 5 5 3 1 24-8 5-9-2-8-3-2-8 0zM912 1049l-1 3 6 8 11 0 1-8-9-4zM2556 852l4-1 4 1 4 6 3 18-3 5-8 4-15-17 1-8 6-6zM1927 980l1 0 0 4zM2515 1004l5-4 5 4 0 8-5 7-4-7zM2172 1140l4-3 24 1 24 6 12 12 6 8 4 8-6 11-16 9-8 16-8 0-13-20-1-8 1-8-3-4-16-9-6-11zM2471 1356l1-1 3 1-3 2zM2190 1516l10-2 24 21 16 8 8 9 14 20 6 16 12 3 6 5 10 13 1 35 4 8 2 8-2 8 2 8 9 8-4 8-4 1-5 7-12 24 8 16 8 8 17-5 8 1 7 12-138 0 0-16-2-8-5-16-3-16-7-24 0-24 2-24-3-24 4-16 0-24 8-24-6-16zM2743 1572l1-3 7 3-7 5zM2786 1628l6-6 0 17-4-3z"/>
<path fill="#a6ff59" fill-rule="evenodd" d="M400 780l24 0 4 8 4 14 6-6-1-8 2-8 1560 0-7 13 0 11-2 8-6 7-8 7-16-3-16 12-8-2-4-5-1-8-4-8-16-8-3-16-4-6-16-1-8 4-1 3 0 8 12 8 7 8 7 16 5 24-2 8-4 3-4 5 4 6 8 4 3-2 3-8-3-8 5-5 8 1 8 6 16-4 17 18 7 5 8 1 7-6 5-8 0-8-4-9 8-7 8 4 8 2 8-6 3-32-18-16 3-8-3-8 75 0-4 16 8 6 8-12 5-10 47 0 2 16 6 16 2 56 0 8-5 16 3 16-4 16 1 8-2 8-7 13-8 3-1 16-15 19-6 5-2 4-8-12-8-3-8 0-16-6-8-7-13-24-13-16-6-7-8-3-32-3-32 3-32-22-8-2-18 10-3 8-11 8-8 2-9 6-3 8 1 8 11 6 8 3 10 7 1 8-5 16-6 13 0 9 13 18 3 15 4 9-1 8-19 5-1 3 2 16-4 16 2 8 9 9 3 7 0 16 5 8 3 8-4 8-1 8-6 8-8-2-11-6-10-8-3-6-2 6-9 8-21 10-8 11-8 1-7-6-17-8-8-6-8-1-24 18-8 3-16-11-8-2-16 1-6-2-11-8-2-8 2-8 6-8-5-8-17-8-7-8-8-5-15 5-9 10-8 4-8 0-16-4-11-10-13-10-6-6-3-16-7-12-8-2-8 2-8 0-3-4 0-24-6-8-6-16-6-8-3-3-8-2-8 5-4 8-3 8 7 6 9 2 1 8-10 6-16-7-8 9 1 8 4 8-3 8-10 8-8 4-16-6-16 5-8 0-6-3-8-24-10-7-8-2-8 5-8 9-8 4-7-9-7-16 2-8 4-10 8-4 8 0 8-6 4-4 1-8-5-4-16-5-16 1-8-2-2 2 9 8 2 8-1 2-8 5-16 3-3 14-12 8-6 8 0 8-4 8-9 8-4 8 2 8-3 8-13 8-4 5-16 7-9 12-1 32 2 3 8 3 8 0 2 10 1 16-6 16 1 8 3 8 11 16 8 16-3 8-27 24-14 7-28 9-4 2-15 14-9 2-32-1-24 5-16-2-8 3-8 0-16-10-8-2-24 3-8 0-8-3-8 0-16 9-16 1-16 7-24-11-8 0-8 11-8 5-8 0-16-6-8 0-21 5-9 8-3 8 1 8 8 8 32 8 8-2 16-7 8 0 8 6 8 13 16 7 24 5 24 20 16 9 8 2 24 1 11-6 5-5 8 0 24 13 24 2 16 8 16 1 16 3 16-1 8 3 6-8 10-7 11 7 5 10 8 2 8-2 16-5 8 1 8 6 8 1 16-2 16 3 16-1 16 5 16 11 8 0 8-2 24-11 8 0 8 1 8 8 8 5 16-6 8 2 16-8 8 1 8 4 8-2 16-8 5 3-5 4-2 4 2 8 9 0 11-8 4-6 24 1 16 6 24 1 24 8 8 0 32-12 24 2 16-5 8 3 20 10 7 16 5 4 16 1 5 3 3 18 24 18 8 3 8-6 8-14 8-1 8 4 4 10 8 8 12 3 8-1 16-6 24-7 16 1 24-3 8 2 16 0 11 3 13 6 8 6 24 8 5 4 16 24 1 8-2 8-5 8-15 11-2 5-3 24 5 13 12 11-1 16 7 16-1 16 5 32-1654 0 0-968zM544 859l-8 9-2 8 2 2 11-2 1-8-2-8zM576 891l-8 6-5 11 5 4 16 7 20 13 3 8 1 9 24 23 24 5 40-9 8 3 8 7 8 4 8-2 8-7 8-4 8 3 2-8-2-9-8 4-8-2-14-9-10-9-16-8-8-8-8-4-8 0-16 4-8-3-8-7-32-15-16-3-8-3zM776 1186l-16 8-16 5-8 5-8 3-16 0-16-4-24 1-16-4-8 0-32 13-5 7 1 8 8 8 28 8 16 1 16-4 16 0 32 12 24 3 8-1 8-7 9-12 23-18 5-6 4-8-1-8-8-8-8-3-8 0zM792 960l-2 4 0 8 4 8 1 8-10 16 1 8 6 6 8 1 8-6 8 1 4 14 4 4 24 13 8 0 8-4 8-1 8 5 20 7 12 11 8 3 8 0 8-5 1-9-1-3-6-5-10-3-6-5-1-8 7-9 16 3 8 7 8 1 4-10-1-8-4-8-7-7-16-7-16 4-8-4-16-19-8-1-8 8-16-3-8-6-8-12-8 0-16 6-16-6zM1304 995l-2 9 2 6 8 0 8-6-1-8-7-5zM1384 974l-1 6 1 2 3-2zM1856 1130l-1 2 1 7 2-7zM2088 833l-5 3 5 2 1-2zM2104 1004l0-1 2 1-2 1zM1266 1132l6-4 3 4 2 8-13 29-8-2-2-3 3-8 12-8-1-8zM2178 1148l6-4 8-1 8 1 24 5 7 7 5 8 0 8-12 8-8 9-8 6-5-7-1-8 2-8-2-8-18-8zM2192 1524l8-4 6 4 10 13 24 13 8 8 9 14 2 16 5 10 8 6 7 8 9 4 2 20 2 8 5 8 1 8-5 8 1 8 6 8-2 8-14 16-4 11-8 8-3 5 3 14 8-2 8 1 8 8 8 1 16-5 8 2 3 5-131 0-2-24-6-16-10-40 0-24 3-16-1-30 4-10 0-24 4-16 5-8 2-8-7-15z"/>
<path fill="#bfff40" fill-rule="evenodd" d="M400 780l19 0 9 32 4 5 8 1 12-14 4-3 8 0 8-5 2-8-1-8 1402 0-1 16 6 8 10 8 9 16 1 8-1 16-8 16 6 8 10 8 3 8-6 4-16 4-9 8-10 16-6 16 1 9 6 7 20 8 2 8-9 24 0 16 0 8 13 15 2 9-1 8-9 1-8 3-1 4 5 24-8 24 1 8 11 11 2 13 6 16-5 8-3 2-8-3-5-7-6-16 0-16-5-4-8 0-6 4-4 8 6 16 1 8-3 8-2 2-8 2-16-4-4 16-4 3-8-2-8-4-8-8-8-5-8 0-8 1-9 15-15 7-8-7-2-8 5-8-3-3-8 1-16-3-8 5 3 8-3 2-7-2 6-16-1-8-4-8-19-8-7-5-8-14-8 0-32 12-16 2-8-2 0-3 8-6 2-8 0-8-2-2-16-7-16-1-11-14-9-16-8-8-12-7-8-9-8-17-8-7-8-3-8 2-8 12-8 9-10 4-7 24 6 16-2 8-11 6-8-2-8-4-8 1-8 3-8-3-8-25-8-4-17-4-7-4-3-4 8-16 8-8 3-8-4-16 4-1 4-7 0-8-3-16-8-8-5 0-4 1-8 20-8 1-8-4-8 1-16 11-11-6-5-10-4 2-4 4-3 12-5 8-3 16 2 8 9 9 4 7-3 8-9 3-8-2-8 6 9 17-5 8-4 3-16 5 1 8 4 8-5 8-16 8-22 40-1 8 7 18 16 9 2 5-2 16 1 16 3 8 10 16 3 8 1 8-2 8-8 4-8-3-4 7 0 8-8 8-20 5-8 5-8 2-8 4-8 9-8 2-40 3-16 5-16-3-16 1-16-8-8-2-16 2-8-1-16-5-8 1-24 12-8 1-16 5-32-13-8 2-5 13-3 2-8 2-16-6-32 7-5 3-7 8-2 8 2 8 7 8 5 2 32 8 8 1 16-8 8 1 4 4 4 12 36 12 20 11 18 13 14 7 32 2 8-1 16-7 24 10 24 3 16 9 8 2 16 2 16-1 8 1 8 5 8 0 8-5 16 6 32-3 16 3 24-3 16 5 16-3 8 1 8 4 16 12 10-1 14-5 16-8 8 0 8 3 8 10 8 4 24-2 16-10 8 1 8 4 8-1 8 2 1 2 7 5 8-2 16-8 8-1 24 6 24-3 8 1 24 9 8 1 24-10 8-1 24 3 16-4 8 1 16 6 3 5 5 15 8 3 8-1 8 7 1 8 7 13 16 9 8 7 8 4 8-5 8-10 8-4 12 10 20 6 8 0 40-13 16 2 24-2 8 1 16-2 8 2 14 6 8 8 2 4 8 3 8-1 8 3 15 23-1 8-14 17-7 15-2 24 3 8 9 16 2 8 2 24 6 24 2 24-1647 0 0-968zM536 852l-8 3-5 5-3 11-16 4-10 9 2 8 15 8 9 9 8 1 10-2-3-8 2-8 7-3 8 0 5 3 0 8-5 5-5 3-3 8 8 5 16-2 8 0 8 4 14 9 5 8 1 8 4 8 10 8 6 8 8 6 32 3 16-5 16-3 8 4 8 8 8 3 16-6 16-1 8-5 2-4 2-16 4-8 2-8-2-2-8-4-8 3-8 10-8 1-12-8-1-8 6-8-9-1-16 4-8-2-8-7-8-3-8 0-16 2-8-3-32-16-24-8-12-6-15-24-10-8-11-3zM792 948l-7 8-2 8 2 16-1 8-8 11-1 5 3 8 14 13 8 1 8-3 16 15 24 13 8 1 16-4 16 4 8 4 8 10 4 2 20 4 8 0 4-4 4-17 8-6 8 10 8 1 3-4 2-8-8-16 1-16-5-8-22-24 3-8 10-8 1-8-1-2-8-5-20 7-4 5-8 16-8 2-8-6-8-10-8-1-16 7-8-2-8-12-8-6-16 5-8 0-16-6zM1344 940l-12 8 5 8 7 5 8-1 5-4 2-8-8-8zM768 1186l-8 5-16 5-8 5-8 3-16 0-16-4-24 1-16-4-8 0-39 15-3 8 2 7 8 10 24 7 24 3 16-3 16 0 48 16 16 1 8-5 14-20 18-14 10-10 4-8-1-8-7-8-6-4-8-2-16 1zM960 1084l-1 8 1 2 8 0 2-2 0-8-2-2zM447 780l20 0-11 6-8-1zM1937 780l55 0-5 8-2 8 3 8-2 8-10 8-8-1-8-3-8 1-8 4-8-9 4-8 20-3 6-5-3-8-19-6zM2016 780l37 0 3 5 8 0 3 3 13 20 8 2 8-6 10-24 39 0 1 16 6 16 0 8-2 32 2 16-4 24 2 16-2 24-4 10-17 14-1 16-6 10-8 3-8-6-24-3-9-4-7-10-4-14 0-8 4-17-8 0-8 8-16-12-8-2-32-3-16 3-12-1-20-10-6-6-13-16 3-8 8-5 8-2 8 0 24 17 8 2 8-2 8-8 8-2 8 5 8-3 0-5-5-13 12-8 1-8 0-32-12-16-2-8zM2080 824l-4 4-1 8 5 8 8 2 6-10-6-12zM1919 796l1-2 8 2-8 1zM1367 988l1-2 8 4 6 6-6 2-10-2zM1358 1052l2-4 6 4 1 8-7 5-2-5zM1576 1100l8-5 8 5 0 8-8 4-6-4-2-7zM2214 1164l2-5 8-2 4 7-4 8-8 2-2-2zM2208 1548l8-1 8 2 15 7 9 8 4 8 2 16 7 16 3 11 4 5 12 9 4 7 6 16-2 7-8 3-3 6 1 8 12 8-1 8-9 1-5 7-1 8-2 5-9 11 0 16 3 16-62 0-1-16-18-64 0-24 3-16 0-16 4-11 5-5 1-8-4-8-1-8 3-16 4-9zM2311 1756l9-2 4 2-12 0z"/>
<path fill="#d9ff26" fill-rule="evenodd" d="M400 780l14 0 5 16 1 16 4 7 9 17 23 23 6-7-3-8-9-16-1-8 4-8 3-3 16-4 8-9 8-5 8 13 8 3 5-3 0-8-9-16 1368 0 1 16 3 10 5 6-10 8-4 8 9 14 11 10 1 8-4 8 6 8 11 8-4 8-13 6-8 0-8-5-7 15-14 24 11 8 4 16 6 5 14 3 6 8-5 16-3 32 2 8 10 8-6 8-10 8 0 8 7 24-3 8-10 16-18 9-6 7-2 8 7 16-1 8-6 4-24-4-4 0-4 12-8-2-16-15-8-2-24-10-8 0-16 5-16 1-8-8-7-5-17-5-4-3-2-8 0-8-2-3-16 0-8 4-8 1-8-1-2-1-14-18-24-8-16-2-4-4-3-8-1-9-7-7-13-8-12-5-16-26-8-6-8-2-8-1-16 14-8-1-8 3-11 8-14 32-15 8-12-16-2-8 2-16-10-16-3-8 3-16-2-27-3-5-27-16-10-10-8 1-16 5-8 6-16 18-16 11-4 1 3 8-1 8-7 16-3 16 10 16-8 0-6-6-8 3 1 19 5 16-6 5-24 8-2 3 10 16-11 8-4 8-3 8-19 32-2 8 7 24-7 16 7 5 8 1 8 6 3 12 0 8 8 16 0 8-16 16-1 16-2 2-8 2-24-7-8 2-8 11-2 6-6 9-20 7-20 3-16 4-8-1-16-8-16 0-16-3-16 1-24-7-8 0-24 12-24 6-32-11-8 0-6 4-4 8-6 6-16-6-32 9-8 4-9 11-1 8 2 8 8 10 48 13 8-2 8-5 8 8 2 8 6 5 16 1 7 2 11 8 6 9 16 2 7 5 25 10 32 2 24-5 16 7 32 3 11 7 5 5 16 5 24-4 16 7 8 1 8-2 16 2 16-2 40 1 16-1 16 4 16-4 8 1 7 3 9 9 8 3 8 0 15-4 17-10 8 0 8 6 8 11 8 3 8-1 8 2 8 4 5-7 11-10 40 11 24-8 8-1 24 6 16-3 8 1 24 6 16 6 16-10 8-3 32 1 16-2 8 0 8 2 6 4 6 16 4 7 16 2 10 23 6 6 8 3 8 5 8 10 8 3 16-15 8-4 32 10 8-1 16-3 16-7 8-2 24 4 16-4 8 1 16-2 8 0 9 4 8 8 7 16 8 0 8-4 8 6 8 14-3 8-8 8-5 10-5 30 3 16 10 24 0 24 2 8 7 16 2 24-1643 0 0-968zM544 843l-8 2-16 0-8 18-16 10-7 3-5 8 5 8 28 24 11 3 16 7 8 2 16-5 8 0 16 9 6 8 6 16 12 12 8 12 8 2 32 4 16-6 16-1 16 17 8-1 16-7 24-1 5 1 2 16 4 8 21 19 8 1 8-2 16 14 17 8 7 8 8 3 16-6 8 0 8 2 3 1 0 8-5 8 2 3 8 1 8-5 8-1 10 2 6 5 8 1 8 0 16 20 8 0 4-2 12-12 6 20 2 2 8-6 8-2 8 3 8 6 17-11-4-8-13-4-8-8-8-4-16 5-8-2-1-3-10-8 1-8 5-8 0-8-4-16-1-16-3-8-11-9-5-7-2-8 2-8 5-8-1-8-7-13-8-2-16 7-12 0-4 8-1 8-7 7-8-5-8-11-24 6-6-5-5-8-5-2-8-2-16 4-8 0-16-6-16-1-8-4-8-7-24-15-8-1-24 2-8 4-8-1-8-5-8-2-24 0-8-3-36-17-12-3-11-5-7-8-14-21-8-7-8-4zM1008 1054l-5 6 1 8 4 8 8-4 5-12-5-6zM1192 1011l-1 1 1 3 5-3zM1280 969l0 3 1 0zM1800 1086l-3 6 3 4 7-4zM1832 960l-4 4 4 1 6-1zM1768 1575l-1 5 1 1 1-1zM784 1178l-16 5-8 5-16 5-16 8-16 0-16-4-16 2-8-1-16-4-16 2-32 12-4 4-1 8 2 8 4 8 7 4 8 3 32 5 32-3 8 1 48 18 8 2 16 0 8-15 13-15 25-24 4-8 2-8-6-8-22-10zM840 1074l-4 2 4 2 2-2zM904 1131l-1 1 1 7 8-4 1-3-1-3zM1962 780l22 0-8 6-8-3zM2020 780l27 0 2 8 7 5 8 3 8 9 5 7-1 8-9 8-3 8 10 16-2 2-17-2 9-16-8-6-8-3-5-7-2-8-6-8-8-8-5-8zM2109 780l32 0 1 16 7 16 0 8-3 48-3 24 1 24 0 16-4 8-12 8-7 8-3 16-6 3-24-3-8-2-8-6-4-8-1-8 2-16 2-8-2-8-5-2-16 3-8-3-6-6-3-24 5-8 4-4 7 4 9 0 8-3 8 1 8-6-5-8 9-8 4-1 7-7 4-8-3-9-4-7 9-16 5-16zM1968 804l8-7 7 7-3 8-4 3-10-3 2-7zM1878 828l2-5 8 2 4 11-4 5-9-5zM1937 884l7-7 8 0 8 4 16 10 8 2 8 1 8-5 8-1 5 4 6 8 3 8-14 2-16-1-16 2-8-5-16-2-7-4-5-8zM774 964l2-2 0 4zM1384 1036l8-7 4 7-2 8-2 2-7-2-1-2zM1447 1068l1-3 8 1 7 10-4 8-3 2-5-2-6-8zM1195 1300l5-5 8-3 3 8-3 2-8 2zM2215 1556l10 0 23 16 2 16 6 24 0 8 4 8 12 4 5 4 4 8-1 4-8 4-7 8-1 16 2 24-2 6-8 10 1 32 2 8-50 0-4-24-5-10-13-46 1-24 3-16 1-14 11-10 8-16 13-16-1-8-8-8z"/>
<path fill="#f2ff0d" fill-rule="evenodd" d="M400 780l9 0 6 24-6 8 4 8 35 39 32 28 26 29 6 4 16 4 16 8 8 2 16-7 8 0 8 4 10 9 6 17 14 15 3 8 7 6 24 2 16 4 8-1 8-5 8 0 6 2 5 8 13 12 8 1 16-14 8-1 10 2 8 16 22 16 8 8 8 2 8-1 7 7-2 8-13 5-2 3-2 8 0 8 4 6 8-1 7-5 5-8 0-16 11 0 6 8-5 8-12 8 3 8 9 13 8 1 7-6 2-8 7-8 8-1 8 3 8 9 8 1 8-1 16-6 5 3 3 7 24 2 16 14 16-1 8 14 8-2 8-5 8-3 16 12 8 2 8-12 8-4 5-8 3-8-8-5-11-3-10-8 13-19 2-5-1-8-9-1-8 4-16 0-14 5-2 2-2-2-4-8-2-6-1-18-4-16-3-6-11-10-2-8 3-16-7-32-15-7-8 1-8 14-24 4-16 0-8 7-8 2-16-10-8-3-8-1-16 5-8-1-16-8-16-2-16-9-16-14-16-1-40 4-8-3-40-6-8-2-24-12-16-4-8-5-5-5-19-27-16-11-8-2-8 0 4-16-4-7-8-4-6-5-5-8-7-8-4-8 1354 0 4 24-3 8-7 8 2 8 6 16 1 8-1 8-6 13-3 11-1 16-2 8-5 8-14 16-2 8-31 24 2 5 16-2 16 9 8 1 16 1 17-6-1 32-4 16 1 16-3 16 7 24-1 10-9 14-7 8-24 12-8-4-8 4-2 4 0 8 2 5 16-2 8 10 1 3-1 3-8 2-8-2-5-3-3-5-8-1-8 3-6-5-6-8-4-1-8 6-8 1-16-4-24 3-8 0-8-5-8-10-16 2-8-8 5-16-5-4-16 1-8-1-8-3-16 0-16-14-32-4-8-5-4-18-4-6-8-2-8-5-16-6-11-21-5-5-16-6-8-1-8 2-8 7-16 2-8 6-8 3-10 8-5 24-9 5-5-5-1-8 6-16-6-8-10-8-4-8 4-16-1-16 2-8-2-8-7-7-16-9-16-15-8-5-24 8-8 6-16 19-8 6-8 3-16-6-8 3-4 5 0 8 4 8 8 3 6 5-9 24-12 16-1 8 3 24-6 8-5 2-16 0-4 6 6 16 0 8-7 8-2 16-20 32-3 8-1 8 2 8-6 16 1 8 10 13 17 11-9 3-12 21-1 8 5 13 3 3-19 4-10 4-8 8-8 16-12 8-10 4-32 7-8-2-8-6-8-4-16 2-16-3-16 0-24-7-8 0-24 11-16 5-16 0-8-1-16-7-8 0-8 4-8 11-16-3-8 1-8 5-16 3-8 4-10 8-3 8-1 8 2 8 4 6 8 7 8 3 16 2 24 11 16 3 9 8 7 3 16 0 8 5 3 8 12 8 17 2 32 11 32 3 24-3 16 7 24-1 8 2 11 11 5 8 8 3 32-7 16 7 8 1 8-2 16 2 16-4 56 3 16 2 8 0 8-4 8 0 16 13 8 2 24-3 8-3 8-6 8-2 6 6 10 15 8 2 8-2 16 10 8-1 6-16 2-2 8 0 8 3 24 3 16-6 16-2 16 5 16 2 8 5 8 8 7-8 9-3 8 1 8 6 8 2 8-3 16-10 48-3 15 2 7 8 3 16 7 4 11 4 5 5 8 20 6 7-14 8-5 8 5 19 8 2 8-6 3-7-1-16 6-4 8 9 4 11 9 8 3 6 8 6 2-4-5-16 0-8 7-8 12-10 8 1 24 6 8 0 16-3 16-6 8-1 8 2 16 1 16-4 32-3 8 5 4 4 6 16 5 8 9 1 8-5 4 4 5 8-9 11-2 5-6 40 1 8 12 32 1 32 7 16 1 24-235 0 4-8-1-8-6-17-8 8-1 9 1 8 7 8-34 0-5-3-4 3-1356 0 0-941 7-3-7-5 0-19zM768 1180l-8 5-16 5-16 7-8 1-8 0-16-5-16 2-24-4-16 0-8 3-16 8-10 2-6 4-1 4 5 24 12 7 32 6 16 1 24-3 8 1 32 12 16 8 24 6 8-6 2-8 14-17 3-7 25-24 4-10 6-6 5-8-3-3-8-3-8 0-24-8-8 0-8 1zM864 1107l-4 1 4 2 3-2zM880 1160l-6 4 6 3 3-3zM912 1113l-19 19-3 8 6 7 8 3 16 14 8-2 10-6 4-16-6-8-8-3-5-5-3-9zM1184 1009l-2 3 10 16-1 16 1 3 8 1 2-4-1-16 7-9 8-4 8 0 6-3-6-8-8 3-8 0-16-2zM1360 879l-7 5-3 8 10 11 3-3 5-12 1-4-1-2zM1800 1078l-7 6-3 8 1 8 9 5 8-1 11-12-2-8-9-6zM1160 1504l-2 4 2 8 6-8zM1408 1661l-2 7 2 3 8 1 5-4-5-5zM1768 1683l0 2 8 4 4-5-4-1zM1824 1606l-2 6 10 8 9-8-9-7zM2024 780l20 0-2 16-2 1-8-3-8-13zM2110 788l3-8 24 0 1 16 7 16 1 24-4 16-4 40 2 32-1 8-5 8-12 8-13 16-5 3-8 2-8-1-8-4-5-8-2-16 4-16 1-16 2-3 8-2 8 4 7-7-7-2-8 0-7-6 0-8 4-8 3-16 12-16 2-8-4-16 10-24zM2054 804l10 1 5 7-5 9-8-3-4-6zM479 812l9-1 16 7 8 0 2 2-2 7-8 0-7 9 1 8 6 4 2 4-4 8-6 4-8 0-3-4 3-8 0-8-8-3-16-9-4-4-4-8 8-7 8 1zM1876 884l4-2 6 2-6 6zM2055 884l9 1 6 7 2 8-8 7-8 1-8-2-4-6-1-8 5-6zM1950 892l2-3 8 0 5 3-5 3-8-1zM2227 1588l5-5 8 0 9 21 1 8-2 8 3 8 10 8 6 8-3 2-6 14 0 32-2 8-8 5-1 3-1 8 5 16-2 8-1 3-8 0-5 5 13 6 1 2-34 0-1-16-9-16-15-48 1-24 7-24 2-3 9-5 4-16 11-14z"/>
<path fill="#fff200" fill-rule="evenodd" d="M400 780l2 0-2 10 0-2zM510 780l1278 0 2 24 2 5 5-5 1-8 0-16 39 0 1 8 0 16 6 8 2 8 8 16 2 8-3 8-5 8-8 24 5 16-2 8-5 8-14 9-8 5-8 0-6 2-1 16-11 16 1 8 9 5 16 1 2 2 4 16 2 3 8 5 8-2 8-11 8-1 7 6-13 16 6 5 1 3 1 8-2 4-16 1-6-5-3 0-2 8 2 8-4 8-2 8 4 8-2 8-3 2-16-7-8 0-8 6-7 15-2 8 22 16-2 8-3 4-8-5-8 2-16 7-16-3-8 0-9 3-10 0-5-3-4-5-1-8-3-3-16-3-2-2-2-16-4-4-8 0-16 4-8-8 1-16-1-2-8-6-32-4-8 10-4 2-4 1-16-2-4-7-4-19-38-13-5-8-5-14-8-5-24-7-8 1-8 6-8 2-8 1-16 10-16 5-8-2-8-4-7-9 2-8 6-8-2-16 1-8 9-16-2-8-15-16-16 9-8-4-6-5-5-8 3-8 16 2 5-2-1-8-4-3-8 1-8 2 0 3-1-11 1-8-3-8-5-3-8 1-21 10-3 4-2 4 7 8 4 8-1 2-4 6-12 6-5 10-11 13-8 8-8 3-16-7-8 2-7 5-4 8 1 16 2 3 8 5 4 8-17 32-1 8 1 16-3 8-8 3-8 0-8 5-2 8 3 16-1 3-10 5 0 8 3 16-25 45-24-1-3 4 4 8 7 7 8-1 3 2 5 16 11 16 3 8-3 8-11 8 1 8 3 8 2 8-8 8-16 8-14 21-16 11-8 3-24 3-11-6-13-4-24-1-48-9-8 1-32 12-16 4-16-1-16-7-8 0-11 5-5 6-8 1-8-2-8 1-16 6-24 11-6 1-2 2-1 6 0 16 2 8 5 8 10 8 24 4 11 4 13 10 16 6 16 9 8 2 6 5 3 8 7 4 32 2 32 11 16 0 16 2 16-2 8 1 8 6 8 2 8-3 20 1 8 8 4 9 16 15 2 8-3 8 2 8 7 8 8-1 5-7 2-8-1-8-6-8 0-8 16-4 16 7 8 0 8-2 16 1 16-6 32 2 16 6 16-2 16 2 16-2 9 6 7 2 24 2 16-1 16-9 16 22 8 2 8-1 12 7 0 8-7 8-4 8 7 7 8-2 13-13 2-16 9-17 16-1 16 1 16-6 8-1 8 1 32 9 16 16 8 2 13-4 3-2 24-6 16-9 24-4 32 0 9 5 2 16 5 7 16 7 9 18 0 8-8 8-4 8 6 24 5 6 8-3 15-11 1-2 8-2 8 8 8 14 12 14 4 4 8 3 15-7 4-8-7-8-14-8-8-16-1-8 6-8 5-4 8-1 32 5 16-2 16-4 32 1 16-5 32-3 8 6 7 23 17 8 4 8-7 48 1 8 13 40 0 24 7 16 2 8-1 16-221 0 0-16-6-21-4-3-4-1-11 9-5 24 3 8-13 0-4-8-10-5-8 1-3 4 0 8-1349 0 0-935 8 1 8 7 36 39 28 24 24 28 8 5 16 4 16 10 8 0 16-8 8 0 8 6 8 10 3 9 5 7 10 9 6 21 8 3 0 16 2-8-2-8 16-3 24 4 24 1 8 3 8 5 8 9 8 2 15-5 9-5 19 13 13 7 8 6 9 11 3 8-6 16 0 8 3 8 7 7 16 1 2 8 6 7 8 2 8 0 8 3 19 12-3 26-3 6-13 3-5 5-3 9-8 1-8-3-16 3-10-2-6-7-8-1-16 9-8 8-40 14-8-1-16-5-16 2-24-4-16 0-9 1-15 11-16 1-5 4-1 8 3 24 12 8 39 7 16 1 24-3 8 1 26 10 22 11 16 5 12 8 4 6 8-30 8-9 8-15 8-10 10-6 9-8 5-6 8-3 8-18 16-8 8-1 24 5 9-9 7-2 16 3 17-9 4-8 5-16-3-8-8-8-4-8 1-8 4-2 24 10 2 16 6 8 16-16 8-5 8-1 16 13 8 2 8 0 16-6 4-27 4-8-3-8-18-8 0-8 5-16-1-8-7-6-8 0-8 2-8 1-19-5 3-8 8-7 0-2-6-7-10-3-17-29-3-8-3-24 1-8-2-8-16-10-8-3-8 0-9 5-7 10-8 2-8 1-16-2-32 2-16-1-16 3-8-2-7-5-5-8-4-2-8-2-16 2-8-3-16-16-24 4-32 1-24-4-16-5-8 0-8-2-24-11-16-4-8-5-24-34-11-7-9-8-1-8-4-8-13-8-18-20zM1144 1199l-3 5 0 16 3 9 8 1 3-2 4-8-3-16-4-4zM1152 1009l-5 3 1 8 4 3 8-3-2-8zM1184 1001l-7 3-2 8 4 8 7 8 0 8-2 8 0 8 16 9 8-8 2-9 0-16 6-4 16-6 5-6-1-8-4-4-40 0zM1488 954l-8 7-8 1-8-1-7 3 9 8 14 2 8-1 8-8 0-10zM1760 886l-7 6 4 8 11 4 10-4 3-8-5-5-8-2zM1776 818l-8 4-5 6 13 12 8-2 2-2 1-8-3-13zM1432 1611l-26 17-6 7 5 17-5 5-1 11 9 12 8 0 8-3 8-7 2-10-2-4-21-4-1-8 22-16 8-2 8-6-2-8-6-3zM1760 1674l-2 2-2 8 12 11 8 3 10-6 6-8-8-7-16-2zM784 1147l-2 9 2 7 8 0 10-7 1-8-3-3-8-2zM2029 780l10 0-7 6zM2117 780l14 0 3 16 8 24 1 8-5 24 0 8-3 16-2 24 0 8 3 17-1 7-7 7-8 5-16 17-8 3-8-2-5-6-4-16 0-8 9-17 16-3 6-4 0-8-13-8-8-8 5-24 10-16 3-8-4-16 11-32zM1839 1052l1-2 8-3 8 1 9 20 1 8-10 24-8 4-8 1-5-5 5-8 7-8 0-8-4-8-3-14zM862 1092l2-3 1 3-1 1zM881 1100l7-6 8-2 8 3 4 13-5 8-7 7-8 4-8 0-4-3 0-8 4-13zM2230 1596l2-1 2 1 7 8-2 8-8 8 17 11 10 13-8 16 2 16-1 8-3 5-8 0-8-2-8 5-1 8 11 8 2 8-4 8-8 8-8-2-5-6-3-8 0-8-3-8-11-24 0-8 1-16 5-10 8-5 16 0-2-17-4-8 2-8 4-6z"/>
<path fill="#ffd900" fill-rule="evenodd" d="M514 780l867 0 3 2 10-2 382 0 3 16-1 8-26 22-6 2 7 8 11 8-2 8 1 8 4 8-4 8-11 4-4 4-2 8 3 8 11 10 8 4 8 0 8 4 8 30-9 16 0 8 9 8 17 8 11 16 1 8-2 8-1 16-2 9-10 15-6 2-8 7-8 18-8 10-8 3 8 6 8 2 5 8-13 8-8 3-16-3-24 2-3-2 3-10 8-2 4-4-3-8-9-2-16 5-8-2-6-25-2-2-8 0-16 11-8 0-2-17-3-8-3-2-16-3-24-8-8 2-8 10-8 2-2-1-6-5-2-11-6-12-32-7-6-5-1-16-1-1-8-6-28-9 5-8-1-24-8-9-8-1-16 8-8-1-10 3-9 8-5 13-6 3-2 3-6-11 10-16-1-8-3-8-14-16 0-8 2-8-34-24-4-8-6-7-8-1-8 1-24 7-15 16-4 8-1 8-4 8 0 8 2 8-2 2-8-4-8 13-16-1-8 3-15 11-3 8 2 16 3 8 6 8-9 24-6 8-7 24-11 5-2 3-6 21-8 3-8-4-2 4 0 8 9 24-1 8-8 24-6 11-8 3-24-2-7 4 1 8 12 24 2 2 16 5 1 9 7 7 4 9-13 16 2 8 5 8 1 8-23 16-11 16-21 14-16 3-8-1-32-8-8-1-24-4-9-3-7-6-8 0-48 17-24 4-8-1-16-7-8 0-24 10-9-1-7-8-8-4-14 20-10 7-8 2-5-1-3-1-8-10-8-1-2 4 1 8 10 16 5 24 4 8 6 6 8 5 24 3 8 3 16 15 16 6 8 7 7 3 17 18 8 2 16-2 16 0 8 2 16 7 16 3 24 1 16-2 8 1 8 7 8 4 16-6 8 1 5 4 8 16 11 12 2 4 1 16 5 11 8 7 8-2 10-8 6-14 8-7 24-9 16 0 6-2 10-8 8 0 16 4 16 13 8-3 8-5 8-2 24 6 16-1 24 3 8 3 16 1 40 18 3 3 0 16 5 9 8 4 8-1 22-20 2-9 10-15 6-4 16 0 16-7 8 0 16 2 16 5 8 4 8 10 8 7 8 3 8-1 20-11 28-12 14-4 18-3 24 3 5 8-2 8 1 8 4 4 11 4 5 12 8 4 1 8-1 1-8 4-8-3-8 2-3 4 3 6 8 1 8 7 4 18 7 16-19 8 3 8 5 6 8 6 11-4 4-8-5-16 7-8 15-11 8-1 4 4 12 19 13 13 4 8 7 2 11-10 14-8 3-8-4-5-14-11-7-8-6-16 6-8 5-1 8 1 16 5 8 1 32-6 40-2 8-2 16 0 8-3 8-1 6 8 2 16 8 7 8 3 6 6-4 56 7 16 6 24 1 24 7 16 2 8-1 16-31 0-9-10-9 2 0 8-141 0-1-8-6-8-1-8 3-16 4-8 0-8-9-12-8-8-2 12-3 8-3 3-8 2-19 11-5 5-8-2-8-7-9 12-2 8-18 8 0 8 4 8-124 0-3-2-4 2-118 0-14-4-8 1-2 3-116 0-6-8-4-2-8 5-4 5-410 0-2-4-8 1-2 3-33 0-5-3-4 3-468 0 0-933 8 3 8 7 32 35 28 24 28 33 22 7 10 8 8 17 8 1 4-10 6-8 6-3 8 1 3 2 5 6 11 18 9 8 9 32 0 16 3 2 8-1 15-9 4-8 5-3 8 0 40 5 8 6 8 8 8 3 24-3 8 1 24 11 5 4 5 8 2 8-4 16 0 8 8 17 21 15 19 9 16 5 8 6 2 4 0 8-3 8-15 7-8 6-16-8-3-5-13-11-8-1-8 4-7 8-1 8-8 7-6 1-2 8-6 8-31 8-11 0-24-7-16 2-48-3-3 8-5 5-8 3-8-4-8 3-4 17 4 16-2 8 5 8 21 5 32 4 16 0 24-2 8 2 20 7 28 15 16 5 16 18 8 5 8 1 5-4-10-16-1-8 1-8 3-8 7-8 11-20 8-6 16-6 8-5 8-11 8-16 8-4 8-1 24 7 8-5 8-8 16 4 24-14 8-2 8 2 8-1 3-2 4-16 7-16 10-7 8-1 16 14 5 2 3 4 8 1 8-4 16 3 5-4-4-16 0-16 1-8 5-8-3-8-12-9-7-7 4-16-1-8-12-11-8 0-8 1-8-6 0-9-8-18-16-7-5-6-8-16-2-8-1-8 1-16-3-8-11-8-11-7-8-3-11 2-21 15-8 1-8-2-24-7-20 9-28 0-8-3-3-5-13-8-8-2-16 3-8-4-5-5-3-8-8-3-24 7-8 0-24-1-24-4-8-5-8-2-8 2-8-1-24-11-16-3-5-3-23-32-17-16-6-16-13-8-16-16zM864 891l-8 5-1 4 1 3 8 7 6-10 2-9zM1024 945l-5 3 5 8 8 4 8 2 8-14-8-8-8 0zM1160 987l-4 9-12 10-5 6 0 8 13 14 8 1 8-9 8-1 2 3 1 8-3 5-8 3-9 8 2 8 7 6 16-5 8 3 4 4 4 9 8-3 10-38 5-8 17-5 3-3-1-16-10-11-16 2-16-3-16 3-8-1-12-6zM1424 789l-1 7 1 5 8-1 5-4-5-5zM1112 1511l-4 5 4 6 6-6zM1400 1586l-8 5-8 9-7 4-4 8 3 3 11 5 5 4 2 4 2 24-2 16 6 13 8 10 16-4 8 4 9 1 14-8 5-8 4-3 1-5-1-4-8 3-8 9-6-8-8-24 1-8 16-8 4-8-1-8-3-8-3-4-8-1-8 4-16 10-8 2-2-3 1-16-5-8zM1608 1709l-4 7 4 2 11-2-3-3zM1736 1647l-2 5 2 6 8 5 4 5 2 16 6 8 10 8 2 4 8 3 20-15 5-8-1-8-8-5-16 0-8-2-16-7-3-2-5-13zM1776 1635l-5 1 1 8 4 5 8 1 8-2 5-4 1-8-6-4-8 1zM1808 1659l0 3 5 6 3 1 3-9-3-6zM1040 1158l-2 6 2 1 1-1zM1144 1051l0 2 1-1zM1432 889l-4 11 4 4 7-4 1-8zM1384 1746l-3 2 3 3 8-3 0-1zM1400 1699l-2 9 1 16 1 2 8 2 7-4-11-16-3-8zM1144 1190l-8 6-1 24 1 9 8 8 8 0 14-9 2-3 20-5 0-8-4-2-8-1-11-13-13-6zM1811 780l15 0 2 8-4 14-8-2-3-4 0-8zM2119 788l1-3 8 2 5 25 3 4 4 12-1 8-6 16 1 8-6 37-5 11 7 16-2 9-12 7-12 13-8 4-3-1-4-8-2-8 1-8 8-9 8-4 15-11-1-8-22-16 5-24 9-16 1-8-2-16 6-16 2-8zM1800 820l8-5 8 0 8-2 8 0 16 22 2 9-12 16-1 8-3 8-2 4-7 4 3 16 0 8-4 3-3 5-5 4-8 1-8-2-6-3-5-8 3-8 0-8-8-11-10-5 3-8 7-5 2-3 1-8 5-8 8-4 8 4 8 1 1-1-1-5-3-3-5-1-8-7zM1800 866l-4 2 2 8 5 8 5 4 15-4-3-8-12-11zM1454 980l10-1 5 1 14 8-10 8-17 2-8 8-8 2-16 0-8-4 16-15 16-2zM1854 1068l2-4 1 4-1 2zM892 1100l4-1 2 1 2 8-4 8-8 0-2-8 2-5zM2236 1636l4-2 8 5 3 5-3 7-8 2-3-1-5-6 0-3zM2200 1652l8-4 6 4 4 8-2 15-8 0-8-4-1-11 1-7zM2233 1676l7-7 5 7-5 4z"/>
<path fill="#ffbf00" fill-rule="evenodd" d="M518 780l792 0 1 8-4 16 13 6 16 10 8-5 2-3-3-8-11-8-7-8 1-8 42 0-4 16 5 8 7 5 8-1 3-4 0-8 6-8 7-3 8 1 3 2 4 8 1 8 3 8 5 2 28-18 5-8-1-4-8 0-11-4 321 0 1 8 6 8 1 8-6 8-8 5-16 2-1 1-1 8 3 8-1 8-9 8 1 2 24 2 3 4 1 8-12 10-2 6-1 8 3 13 9 11-1 8 1 8 15 6 9 10 2 8-6 16 3 5 8 8 8 6 8 1 8 5 6 7-3 32-11 12-13 20-5 16-6 7-21 9 6 8 7 6 8 2-16 3-11-3 1-16-10-8-4-9-8-2-8 7-8 5-4-9-2-16-2-2-8-3-8 1-16 11-7-15-9-7-10-1-30-10-8-1-8 8-8 4-8-18-8-10-25-5-5-8 1-8-3-6-13-10-3-8-16-13-2-3-3-16-3-3-16-5-8 1-8 4-8 1-3 2-13 3-3-3-9-16-9-8 6-8 11-8 5-8-1-8-3-8-5-5-8-4-16 17-8 0-10-8-14-22-24 3-16-2-8 2-7 11-9 8-8 4-16 2-3 2-5 15-8-1-2 2 0 8 2 3 8-10 8-2 2 9-2 4-8 9-8 3-25 16-8 8-7 16-16-5-8 1-5 4 2 8-5 2-8-2-16 9-8-2-16-10-8 0-8 11-1 8-11 16-1 8 3 16-2 8-1 8 5 11 8 5 8 1 16 6 16-6 8 11 11 28-4 40-6 8-9 1-16-3-8 2-9 8-3 8-12 11-4 5-2 40 6 11 8 5 8-1 16-10 8-1 7 4 0 16 7 8 1 8-23 16-8 12-16 12-8 3-16 1-64-15-16-14-40 20-16 4-24 4-8-2-8-5-8-2-8 1-16 8-8 1-8-2-8-11-8-1-10 10-14 18-8 2-7-4-4-8-5-5-8-2-8 7-1 8 3 8 10 16 7 24 5 10 8 8 8 5 24 1 8 4 16 16 10 4 8 8 6 11 7 5 25 11 16-5 16-1 8 2 16 9 24 6 32-5 8 2 11 13 0 8-3 16 24 36 17 12 7 3 16-2 8 4 8-2 3-11 17-16 4-6 24-12 32-6 8-8 8 2 16 10 16 4 9-8 7-3 8 0 6 3 10 7 16-6 16 2 16 6 16 0 30 15 5 8 1 8 5 8 7 8 8 2 8 0 8-5 8-8 8-1 4-4 4-13 8-6 32-16 24 0 16 4 7 7 1 8-10 8-1 8 3 3 8-3 8-7 16 1 13-2 19-14 48-17 16 1 9 6 0 8 3 8 15 16 0 8-8 8-4 8-1 16-3 8 0 8 12 16 1 8 5 16-5 8-2 8 2 8 14 16 3 16 14 8 3 8-10 11-8-6-8-9-16 4 1 8 4 8 1 8-3 16 5 8 3 0-100 0-7-6-8-2-8 3-4 5-100 0-8-6-24-8-8 2-3 4 1 8-67 0 9-16 4-2 16-4 8 0 16 3 16-10 8 3 8-4 1-2-6-8-27-8-1-8 9-2 8-10 9-20 2-8-3-8-8-4-3 4-13 5-3-5-2-8 5-6 15-2 1-4-1-20-7-26-16-5-3 7-13 13-8 1-3-6-2-8 0-8 5-8 8-1 8 2 3-9 0-8-3-6-8-3-15 9-21 32-7 8-12 8-5 8 5 8 17 8 3 8 1 16-1 16 5 16-10 24-1 8 4 8-1 8-18 12-8 2-16-8-8 6-12 12-396 0-1-8 1-3 16 3 4-16-1-8-3-8-8-8-8 4-2 4 3 8-1 3-8 4-3 9-5 4-7 12-20 0-5-10-8-1-13 11-459 0 0-930 8 4 7 6 33 36 24 20 32 37 16 5 9 6 6 16 9 11 8-1 16-18 8 3 7 5 4 8 13 13 2 3 5 24-1 8-4 8 1 8 13 0 8-3 32-18 24 1 16 3 16 13 8 3 8-1 16 2 25 8 7 3 3 5-1 8-5 8-1 8 12 24 11 16-3 8-12 8-1 8-11 16-16-2-4 2-2 8 3 16-5 3-16-2-8 2-8 4-8 1-8-3-8-7-8-4-10 6-14 4-16 0-16-5-3 1-5 3-5 13-3 1-8-6-8 0-6 5 0 8-4 16 3 16-1 8 2 8 6 5 56 6 40-2 8 2 16 6 16 7 12 8 20 8 14 16 10 8 8 2 8-1 3-1 6-8-15-16-2-8 1-8 4-8 7-8 4-11 8-9 8-3 8 0 8-2 16-27 8-8 8-1 24 5 16 1 1 7 7 14 3 2-2 8-9 1-8-3-8 2-3 8 2 8 1 1 16-1 16 8 6-8 1-8-5-8 4-24-2-16 7-8 5-3 8-3 24-1 16-9-4-8 0-8 4-10 8-9 8 0 3 3 6 8 2 8 1 8 12 13 8 4 6-1 2-5-1-11 1-3 8-4 8 3 5 4 3 9 8 3 3-4 2-8-8-16-6-16-1-16 6-16-4-9-17-15 0-8 2-8-1-8-16-16-16-2-8-22-1-8 3-8-2-4-8 0-8 4-8-4-7-20 2-8 5-2 8 3 16 2 8 5 3 8-1 8 22 0 9-8-2-16 3-8 1-8-3-3-8-3-8 0-8 1-16 8-8 0-8-2-8 3-6-4-3-8-31-19-8-2-8 0-8 4-16 9-8 2-12-2-14-8-2-8 4-24-8-4-8 3-16 3-2 6 2 8 3 8 8 8-2 8-9 4-24-3-16-10-16-5-16 1-7-3-9-17-8 0-20 9-12 1-40-4-8-2-8-5-8-3-16 1-24-10-16-2-23-32-17-16-6-16-18-12-8-11-8-7zM1088 939l-5 1 1 8 12 8 8 3 6-3-6-9-10-7zM1240 817l-6 3-1 8 4 8 3 3 16 0 8 5 16 22 6-6 3-8-5-8-7-8-5-11-16-11-8-1zM1416 834l-4 10 5 0 2-8zM1448 825l-4 3-4 8 0 8 8 5 8-1 5-4 1-8-6-9zM1464 922l-11 10 3 3 8 1 3-4 0-8zM1552 960l-6 4-2 9 8 3 3-4 2-8zM1784 996l-2 8 2 5 2-5zM840 1676l-9 8-10 16-6 8 1 10 8 1 8-2 8 4 16 1 8 4 5-2-13-11-3-5-1-24-4-6-6-2zM864 1642l-1 2 1 3 1-3zM904 1614l-4 6 4 3 4-3zM952 1586l-2 2-2 8 4 4 12-4-2-8-2-1zM1104 1561l-5 3-7 16-20 4-5 4-2 8 7 7 8 2 8-5 16-6 12-14 0-8-5-8zM1248 1608l-6 4-4 8 10 11 8-5 10-14-2-6-8-1zM1496 1579l-3 1-5 5-1 3 4 8 5 4 6-4 2-8-7-8zM1608 1699l-9 9-3 8 4 5 8 4 24 1 2-2-2-12-8-10-8-3zM1624 1659l0 2 8 7 5-8-5-7zM1648 1627l-4 9 4 4 5-4-3-8zM1672 1604l-4 8 4 7 8 1 3-8-3-7zM1496 1667l-1 1 1 8-2 16 2 6 13-6 1-8-6-6-6-2-1-8zM2117 820l3-4 8 2 8 11-2 7-6 7-8-1-4-14zM1831 836l1-1 5 1 3 3 1 5-9 6-3-6zM1799 852l3 0-2 1zM1813 860l11-5 3 5-2 8-1 1-8-8zM2109 860l3-3 8-3 8 5 0 9-3 16-5 8-8-1-10-7 0-8 4-8zM1805 908l3-5 6 5-6 3zM2116 924l4-1 0 3zM1244 980l4-2 1 10-1 9-8-9 0-2zM806 1124l2-4 8-3 11 7 1 8-2 8-2 3-8-2-9-9zM911 1188l1-1 4 1-4 7zM1102 1492l10-4 8 0 6 4-14 9-8 1-4-2zM1135 1516l1 1zM1840 1572l8-1 8 1 16 15 8-5 1 6 7 16 8 5 4-5 3-8-1-8-5-8 6-8 17-4 48 1 8-4 8 1 2 6 0 8 3 8 3 3 16 4 3 9-4 24-2 24 11 29 4 35 8 16 2 8-3 16-20 0-15-16-8-1-4 1-6 8 3 8-130 0 0-8-7-16 1-8 13-24 2-8 13-8 0-8-5-2-16 1-8-3-6-4-2-6 4-18 5-8 22-16 3-8-2-10-16-9-5-5-3-16zM1888 1683l-1 1 1 0zM1734 1604l2-4 3 4-3 1zM1774 1604l10-6 8 1 7 13-1 8-14 7-8 0-6-7-1-8z"/>
<path fill="#ffa600" fill-rule="evenodd" d="M530 780l433 0 5 6 8-4 1-2 324 0 2 8-3 8-10 8 4 8 10 3 16 2 8 6 8 3 8-2 7-4 3-8 6-7 8 7 8 4 8 1 8-5 6-8 0-8 2-2 8 1 1 9-3 24-6 16-8 6-8 2-16 8-8 1-16-6-8 0-6 5-7 16-3 3-8 3-8 0-8-3-4-3-1-8 4-16 0-8-7-3-4-5-8-24-4-7-24 2-8 3-17 10 9 29 8 2 16-5 8 4 6 10 8 32-8 16-6 24-8 2-8-6-2 4 1 8-3 8-12 11-16 2-16 6-8-1-8 3-6 11-2 0-16-10-8-1-8 3-16 16 0 8-8 8-8-3-8 0-5 3 0 8 8 8 3 8-1 8 3 6 8 5 16 23 24 10 16 1 7 3 5 8-1 8-3 8 0 8 8 16 2 8-2 8-8 4-16-3-8 1-8 3-16 18-8 5-8-9-8-5-16 1-1-7-7-7-5-9-8-24-1-8 7-16-4-8-16-16-1-8 2-8 0-8-22-23-8-1-8-9-2-7 0-8 2-3 8-4 16 1 8-2 8-7 6 7 12 0 3-8-5-3-8 1-6-6-2-8 1-8 7-6 8 3 16 14 8 4 8 1 24-9 3-7-2-8-9 0-8 3-8-3-8-9-24-9-8 2-8-1-9-7-4-8-3-8-1-16-15-18-4 2-6 24 0 8 2 4 9 12-4 8-13 4-16-4-16-9-16-5-16-10-8-1-8 1-24 10-8 2-15-4-6-8-1-8 2-8 0-8-4-7-8-5-8 4-16 1-6 7-3 8 2 8 9 16-2 4-8 2-16-2-16-9-16-6-16-1-6-12-10-7-8 1-24 12-8 0-8-2-16 0-24-5-16-8-16-1-16-7-8-2-8 1-8-3-8-14-25-29-9-16-6-6-15-10-3-8zM1335 780l25 0-8 15-8-1-9-6zM1466 780l282 0 1 8 5 8 3 8-5 6-16 1-8 9 1 8 2 8-3 8-8 8-1 8 1 3 8 4 11 1-3 8 1 24 3 16-6 16 2 8 7 8 1 10 8 4 1-6 7-8 9 8-1 4-4 4-3 8 15 16 1 8-5 16 4 5 8 1 8-3 5-11 3-3 7 3 1 6 0 3-4 7 1 8-13 24-8 10-6 22-2 3-24 6-16-20-8-4-8-1-4-8-4-3-8-2-16-1-16 2-8-8-16-2-8-3-16-2-16-6-8 4-8 0-5-11-8-8-21-8 5-16-2-8 1-8 5-16-7-10-16-9-3 3-5 16-8 5-8-2-4-3-1-8 1-8-4-8-23-8-5-16-12-9-8 0-8-9-4-14-20-21-8 7-8 13-8 1-8-16 0-10 16-3 8-3 8 0 8 4 16-2 8-5 3-5 0-8-3-8-8-9-12-7 4-2 5-6 9-8 5-8zM1664 922l-8 3-10 7-1 8 3 3 16 3 8-2 3-4 1-8-4-11zM400 836l0-7 11 7 24 24 13 15 20 17 28 34 6 6 21 8 13 33 7 7 1 0 11-8 13-13 8 5 3 8 15 8 4 8 1 16 0 8-7 12-4 4-3 8 7 2 8-1 16-4 40-19 8-2 16 0 16 3 16 14 24 5 3 2 5 7 16 7 1 2 8 32 4 8 12 16-10 8-4 8 0 8-3 5-8 3-8-1-8 4-4 5-4 11-16 5-8 6-8 3-8-4-8-7-17-6-6-8-2-8-6-8-9-5-6 5-4 8 0 8 16 8 1 8-7 3-8 1-16-7-16-2-12 13-4 2-8-3-8-12-12-11-4-2-5 2-4 8 1 2 8 8 5 14 11 8 3 8-5 16 5 16 0 16 5 6 8 6 8 2 24-3 24 2 40-1 24 7 10 5 14 10 18 6 6 4 16 18 8 5 16 5 7 8 17 26 11 30 13 14 8 4 24 1 8 4 8 11 20 14 4 12 4 4 36 18 16-8 16-1 40 16 8 2 32-5 5 2 5 8-3 24 5 8 20 24 7 16-7 2-8 7-5 7-4 8-15 7-11 9-1 8 10 16-2 8 4 5 16-8 8-9 16-9 8-11 4-8 0-8-4-8-1-8 1-1 24 3 16 4 8 0 9-6 0-8 2-8 13-11 24-12 16-5 16-2 16-4 32 8 8-1 8-9 8-1 16 12 8-3 8-6 8 0 8 2 8 5 8 3 16-1 17 9 9 8-2 8-13 8-8 8-14 16-7 16-19 16-7 8 2 8 20 8 6 8 1 16-2 16 2 16-9 20-8-2 0-2-8-9-8 4-3 5-2 8 2 8-2 8-13 16-21 16-362 0 4-24 0-8-11-22-16-3-8-10-8 0-4 3-9 24 1 8 5 8-1 8-8 8-9-8-12-24-3-4-10-4-2-8 4-8 16 6 4-6-4-9-8-1-8-4-1-2 8-8-2-8 4-16-2-8-7-5-8 5-2 8 1 16-7 8-8 1-8 5-8 10-4 8-11 16 0 8 1 8 6 7 8-3 8 0 8 3 16 0 8 6 3 3-7 8-4 2-24-1-16-4-6 11-410 0 0-912zM896 1609l-3 11 3 8 8 3 11-3 2-8-4-8-9-6zM944 1575l-3 5-2 24 5 6 8 0 16-7 8-5 4 6 2 8 5 8 21 10 5-2 11-10 8 0 7-6-4-8-3-4-8 3-8 9-8-4-8-15-8-4-8 6-8 0-3-7-21-16zM1096 1642l-4 2 4 5 3-5zM1256 1543l-5 5 1 8 4 6 8 3 6-9 1-8-7-3zM1288 1585l-4 3-4 9-8-4-5 3-19 4-17 12-3 8 20 19 8-3 8-11 8-5 16 3 24-1 8-10 0-11-3 3-15 0-11-16zM944 1634l-5 2 13 10 3-2 2-8-5-8zM2109 876l3-5 8 1 1 4-1 4-3 4-5 1-2-1zM997 972l3-4 8 1 3 3-11 3zM996 1140l4-5 8 2 2 3 1 8-3 8-8 2-6-10zM1055 1156l3 0 6 6 0 8-2 2 2 1 2 7 6 5 8-3 8-12 8-6 8 3 1 5 4 8 3 3 8 3 6 10 2 16-3 16 3 8 8 10 13 6 3 3 16-13 5 2-1 8 5 16-17 11-7 13-17 13-8 3-16-1-29-7-27-8-8-9-8-4-8 3-15 10-19 8-14 3-24 3-8-3-8-6-8-1-24 11-8 1-8-5-8-9-8 0-17 14-7 8-8 3-19-19-3-16-10-3-8-5-2-8 3-8 7-8 8-12 8-2 8 0 3-2 20-32 9-6 8-1 16 5 8 4 5 6-3 8-10 2-6 6-1 16 5 8 18-1 16 8 8-6 3-9 1-56 4-5 8-4 24 0 24-6 8-7 8-1 16 10 8 2 8 0 7-5-1-8zM1679 1508l9-4 8 0 9 4 6 16 13 16-1 8-6 8-5 18-8 5-8 0-3 1-5 8-8 2-8 0-16 12-8-1-8-7-8 2-8 7-6 1 22 2 8 4 1 2-2 8-8 8-6 16-17 8-5 8 13 16-4 8-12 6-16 18-2 8 10 12 8 3 12 1 2 8-14 4-10 12-14 0-8-6-9 6-57 0-6-7-18-9 2-8 8-10 7-6 4-8 5-4 8 4-1 8 9 4 5 4 3 16 8 1 8-7 8-10 1-8-1-2-8-3-16-1-4-2-5-8 9-3 8 0 8-5 1-8-1-13-8 3-8 8-8 1-18-15-4-16-2-2-16 2-8-6-6-10-1-8 1-8 5-8 1-6 8 2 24 1 4-5 1-16-2-8-27-11-7 3-4 8 4 16-1 7-8-2-3-5 1-16-6-6-8-2 8-5 8-3 8-8 8-2 8 0 3-6 1-8 4-9 24-8 16 1 16-12 8 2 3 2-1 8-6 8 0 8 4 8 8 3 8-1 19-10 21-4 16-14 16-7 16-3zM1544 1600l-16 10-9 2 3 8 2 16 12 4 4 4 3 8 1 7 8 1 11-16 3-8-11-8 0-8 13-14 9-2-9-3-16-2zM1592 1603l-4 1 11 0zM1909 1580l3-4 8-3 8-1 8 3 16 0 24 3 8 17 8 7 8-4 6 6-6 10-8-8-8 1-6 13 6 5 16 4 2 7-1 8-4 8 2 8 6 8 2 8-14 16-3 8 18 2 8 10 11 28-3 14-8 2-8-5-16-15-8-3-18-1-6-4-1-4 9-16 0-8-4-8-4-3-8-1-9 12-11 8-3 16 5 8 10 1 8 3 2 4 16 16-119 0-1-16-4-8 2-10 16-19 24-7 8-4 2-8-3-8 1-8 10-8 4-8-6-5-8 0-8 5-8 8-8 4-16 2-8-3-3-3-3-16 4-8 22-16 4-9 8-6 5 7 11 5 8-3 4-10 2-16zM1421 1588l3-4 1 4-1 2zM1783 1604l2 0 6 8-4 8-3 1-8-1-2-8 2-3zM1694 1612l2-2 8-3 8 2 8 10 4 9 1 8-5 21-8 3-8-11-8-2-5 5 4 8 9 9 16 0 8 4 4 3 5 8-2 8-7 5-16 6-8 2-16-11-8 0-8-2-3-8 1-16-4-8-2-2-8 0-8-5 8-9 8-13 16 0 10-11zM1480 1676l4 8 1 8-1 8-4 5-8-3-3-2 0-8 5-8zM1646 1684l2-4 8 4-8 4zM1645 1708l3-1 8 6 8 3 16-7 8 1 8 8 16 0 6 6 2 8-5 8-1 8 2 8-74 0-10-14-6-2 6-2 8-8 3-6-1-8zM1410 1748l14-4 9 4-9 8-21 0 5-7zM895 1756l1-7 0 7zM1442 1756l6-3 4 3-4 0z"/>
<path fill="#ff8c00" fill-rule="evenodd" d="M540 788l5-8 406 0 9 9 8 4 8 0 5-5 1-8 251 0 2 8 5 7 16-4 1 5-17 4-1 4-22 8-7 8 0 8 6 3 3 5 2 8-7 16-1 8 13 8 5 8 1 16 8-2 24 2 0 8-8 9-8 0-8 5-5 10 1 8-1 8-3 3-8 3-24 4-4-2-5-8-7-3-8-1-4-4-6-16 10-12 6-4-14-11-8 0-4 3-1 8-3 6-9 10-3 8-4 5-16 7-8-8-16-4-16-8-16-2-10-14-1-16-13-20-8-5-8 2-6 7-2 40-8 7-8 0-15-7-13-16-4-1-16 4-16 0-8 5-16 5-8 0-8-3-3-2-5-8 2-8-1-8-9-13-4-3-1-8-3-4-16 4-8 5-8 11-11 24 7 8-4 6-8 0-12-6-4-5-4-3 6-8-7-8-3-1-16 10-8-3-16-12-8 3-24 14-8 0-8-2-16 0-24-5-16-9-16-3-16-6-8-1-8 0-4-1-4-4-5-12-22-24-10-16-11-10-9-6zM1040 792l-2 12 2 13 8-4 0-17zM1192 859l-2 1-3 8 5 2 8-2-7-8zM1200 834l-2 2 2 4 8-4 0-1zM1278 780l15 0 0 8-5 3-8-7zM1470 780l267 0 2 8 5 8-19 16-2 8 3 16-3 8-8 8-1 8 6 23 2 1-10 7-3 9 3 8 16 15-2 17 1 8 9 16 8 8 16 8 10 8 3 8-7 16 2 4 3 4 5 3 13 5 1 8-1 8-10 16-3 19-6 5-6 0-12-10-8-3-3-3-5-11-7-5-32-8-16-8 2-8 5-3 13-21-13-4-8 1-16 16-8-3-24 4-2 2 2 8-8 8-8-6-8-2-8 1-2-1-18-16-7-8-2-16 0-8 7-8 2-8-7-8-16-24-1-16-4-2-2 2-4 16-10 7-8 2-13-9-9-8-2-8-16-7-8-10-16-6-3-9 1-8-6-6-9-2 8-8 9-5 8-11 0-8-3-8-11-16 2-8 10-8 4-8-2-3zM1632 904l-4 4 1 8 11 7-3 17 1 8 2 3 24 9 8-4 8-2 6-6-2-24-4-10-8-3-16 8-8 1-7-4-4-8zM1286 828l2-6 8 0 8 3 8-3 8 1 8 7 8 3 16-3 8 0 16-7 8 1 8 1 3 3 1 8-7 8-21 10-8 1-16-8-8-2-8 1-4 6-4 19-4 5-4 2-10-2-5-8 1-8 9-16-3-10-16-2zM400 836l0-4 7 4 9 9 32 35 24 20 24 31 8 7 8 2 8 6 7 34 9 6 8 3 16-12 8 0 21 11 0 24-11 16-1 8 7 12 8 0 16-6 24-15 8-3 40-7 16 3 16 13 16 4 13 15 11 6 6 10 2 8-1 8 5 16-4 30-8-1-8 5-8 10-8 7-11 5-13 9-32-17-3-8-13-17-8-3-7 4-9 8-12-16-4-2-7 2-17 9-4 7 1 8-5 9-8-4-8-7-8-2-8 1-16-8-2 3 2 8 6 8 0 8 3 8 10 8 5 12 10 12-3 16 6 16-1 16 2 8 6 8-5 16 1 4 8 3 16-7 16-16 8-1 64-1 24 8 24 16 16 4 8 5 15 17 25 16 19 24 7 16 5 16 6 8 11 10 8 4 16-2 8 1 5 3 11 15 13 9 8 16 11 8 18 8 6 6 8 5 16-12 8-2 8 1 16 8 24 8 30 2 9 8 1 8-8 15 0 4 8 4 8-1 8 6 10 12 2 8-2 8-18 21-18 11-6 8 0 8 4 16-4 7-8-3-8-17-8-9-8-4-4 2-4 8-16-11-32-11-8-9-8-3-8 2-11 8-2 8 3 16-6 18-8-2-16-13-8-1-9 14 0 8 2 8 7 7 8 3 16 2 16 5 16 11 8-1 2-3 1-24-4-8 1-3 8-5 7 8 33 15 8-3 8-6 8-1 8 4 16 2 6 5 1 8-1 8 2 5 8 1 8-1 16 0 8-4 5-9 0-8-1-8 3-8 17 10 8 1 8-3-2-8-14-1-8-5-3-10 4-8 7-8 3-8 1-8 4-6 40 2 8 2 8 11 8 2 13-3 2-8-17-8-3-8-8-8 1-8 12-8 16-8 16-5 16 0 16-5 16 4 8 0 16 7 8-3 8-6 8 5 8 1 8-3 8-6 8-1 16 9 8 2 16-1 16 10-2 8-12 8-14 16-12 8 0 16-24 20-8 6-8 3-4-5-1-8 0-16-4-8-7-7-16 2-2-3 6-16 0-8-5-8-7-5-8-3-8 1-8 5-8 0-16-6-5 8 1 8 2 8 11 16-1 16-8-5-8 2-4 3 1 8-4 8-19 16-12 16-1 8 7 4 7-4 9-16 8 2 16 18 8-5 16-16 24 3 16 13 8-7 8-15 8 1 8 4 24 3 8 3 3 4 1 8-3 16-1 22-8 3-8-3-8 1-12 17-4 8 1 16-3 8-6 8-16 6-8 1-16-3-12 4-4 8-271 0 5-8 2-8-8-7-8-2-5 1-3 16 4 8-28 0 8-38 8-2-8-1-8-4-1-3 1-16-8-6-16 8-8-4-8-8-8 1-8 6-7 3-1 2-9-18 0-8-8-16 0-16-15-12-8 3-7 9 0 16-3 8-14 6-9 10-19 32-1 16 1 24-2 8-402 0 0-912zM480 1218l-8 5-10 13 0 8 2 2 8 0 2-2 3-8 5-8 0-8zM560 1099l-9 9 1 2 8 4 9-6-6-8zM576 1067l-8 2-6 7 0 8 6 8 8 4 8-9 9-19-9-4zM792 1579l-2 1 2 4 8 6 4-2 4-8-8-3zM1064 1739l0 3 0-2zM1072 1708l0 1 2-1zM1112 1684l-8 0-16 7-10 9 2 6 16-10 16-1 5-3 3-8zM1128 1674l-2 2 2 5 1-5zM1176 1611l-2 9 10 5 8-1 10-4-2-8-8-5-8 0zM1224 1722l0 2 8 1 0-5zM1304 1648l0 12-8 6-5-6-11-6-8 3-3 3-11 16 6 19 8 2 8-5 0-16 8-4 8-1 8 2 8 1 16-2 15-4-1-8-6-5-8 0-8 4-8 0-7-7zM1096 1731l-12 9 4 5 8 2 5-7-3-8zM1320 1705l-1 3 1 5 3 3 5 2 6-2 1-8-7-4zM1249 860l7-8 8 8 0 9-8 3-4-4zM1146 948l6-7 8 0 8 4 8 11-1 8-7 3-16-4-7-7zM1521 956l7-4 2 4-2 4zM1031 1004l1-3 8 2 8 0 16-2 8 0 8 3 4 8 4 4 8 3 8 9 0 8 2 8 14 11 8 13 8 8 38 16 3 24-1 8 4 8 4 3 2 5-2 5-8-1-8-4-21 0-3-5-5 21-3 5-8 3-8-8-16-4-5-4-6-8 4-8-3-8-13-8-1-4 0-4 4-16-3-8-14-16-2-8 8-24-1-1-16-4-14-19-2-7-8 1zM1160 1132l0 2 0-2zM997 1180l11-6 8-2 19 8 21 3 16 8 8 0 7-3 9-9 7 9 17 8 3 8 0 8-3 16 7 16 17 16 4 8 2 8-2 8-4 5-16 11-16 3-8 0-48-16-8-9-8-3-8 3-23 14-17 6-8 1-8-2-8 0-8 2-16-8-8-2-8 4-16 10-8 1-16-15-8 1-16 11-8 3-8 1-8-5-3-8-1-8-4-6-15-10 1-8 6-9 8-5 16 1 8-17 16-26 8-2 8 2 10 8-14 16 0 24 4 7 24-2 16 10 8-6 8-17 2-8-1-24 3-24 4-3 8-1 24 2 8-3zM1687 1508l11 0 8 16 11 16 0 8-7 16-6 6-16 2-8 5-8 0-8 4-8 10-11-3-4-8 4-8-5-2 0 10-16 14-8 3-16-2-16-9-8-1-8 3-8 2-16 1-8-3 4-16 9-8 3-5 8-3 8 3 8-1 16-3 16-11 16-3 8-4 3-5 9-8 12-4 16-2 8-4zM1507 1540l5-3 8 2 6 9 4 8 1 8-5 8-6 3-8-2-11-9 5-16zM1276 1564l4-8 8 5 1 3-1 1-8 4zM1942 1588l10-4 8 0 10 4 5 8 0 8-8 16-2 8 3 3 8 0 15 5 1 8-4 8 8 16-1 8-11 11-8-1-8-5-8-2-8-1-8 4-8 13-8 5-8 0-8-4-10-20 2-8 8-4 3-4 1-8-6-8-6-4-8-1-16 13-24 5-5-5-3-8 5-8 27-19 8 3 8 6 8-4 11-18 5-13 16-1zM1960 1655l-6 5 6 7 4-7zM1482 1620l6-5 16 0 7 5 2 8-9 13-8 3-8-1-8-7-2-8 2-5zM1571 1620l5-8 16 3 16-1 16 6 8-1 1 1-5 16-12 7-8 2-8 0-8-5-10-12-6-4zM1704 1620l8 6 5 10-5 9-8-8-7-1 1-8zM1076 1636l4-3 8 1 0 3-8 2zM1670 1644l2-1 2 1-2 2zM1514 1652l6-6 8-2 9 8 0 8-3 8-6 4-8-2-7-10zM1564 1660l4-5 8 2 2 3 6 3 8 2 8 5 4 6-1 8-3 8-8 9-8 0-16-4-7-5-1-7 3-17zM1678 1660l2-4 3 4 5 2 16 21 17 1 1 8-10 3-8 0-8-10-8 1-8-2-3-16zM886 1708l2-2 2 2-2 4zM1870 1708l10-1 24-5 8 1 5 5 2 8-1 8 2 8 21 8 8 8 3 6 6 2-103 0 0-32 9-13zM1975 1716l9-6 16-1 8 3 8 11 8 16 0 4-3 5-5 3-8-5-8-9-21-13-3-6zM1571 1724l5-4 8-1 12 13 3 8-7 5-8-4-8-1-8 3-10 13-16 0 10-9 16-20zM1675 1724l5-4 7 4 1 8-9 0zM1499 1732l5-4 8-2 8 2 4 4 8 24-15 0-13-15-3-1zM1648 1732l8-4 2 4-2 3-6 5-2 1-1-1zM831 1740l3 0-2 0zM1663 1748l9-2 7 2 5 8-31 0 3-6zM1692 1756l4-4 8-2 5 6-13 0z"/>
<path fill="#ff7300" fill-rule="evenodd" d="M551 780l254 0 0 8 3 3 4-3 3-8 116 0-3 8 8 8 8-6 8 2 8 5 16 2 8-1 3-2-1-16 26 0 2 8 2 5 14 11 4 16 3 8 3 2 8-4 4-6 2-24 0-16 129 0 9 6 16 2 5-8 14 0 1 16-4 5-8 1-8 5-16 18-5 11-1 8-8 16-1 8 3 8 4 3 24 1 9 4 2 8-3 8 0 13-2 3-6 1-2-1-2-16-4-3-8-4-16 0-8-4-8 1-8 6-3 4-1 8-12 16-8 3-8-4-8 1-8 4-8 1-25-13-7-5-8-22-16-24-8-4-8 2-16 13-8 4-8 2-16 11-24 1-8-1-8 1-4 6-12 7-8 0-9-7-21-32-3-16-7-3-24 8-6 3-10 22-8 8-8-3-8-8-8-3-8 1-8 6-8 0-16-14-32 22-8 0-8-2-16 1-24-6-16-9-24-6-16-7-8 0-2-2-1-8-6-8-15-13-8-13-27-22-2-8zM768 849l-6 3 6 2 1-2zM920 829l-5 7 5 4 8-1 5-3-5-4zM944 881l0 6 1-3zM1476 780l24 0 4 9 3-1 4-8 114 0 5 16 2 2 8 2 17-12 7-8 8 6 8 2 5-8 28 0 13 16-6 6-8-2-8-7-8 3-1 8 1 3 6 5 5 0 5-3 5 11 5 16-11 16-2 8 2 16-3 8-7 8-4 8 13 16 9 8 2 8-5 16 1 8 3 5 24 18 19 9 5 6 0 4-7 14 2 8 5 5 8 4 6 7-1 8-5 10-6 6-2 10-3-10-8-8-6-8-15-2-10-6-2-24-2-8-26-11-16-1-16 8-8-1-8 7-16 1-8 2-8 0-8-3-8 3-8 0-8-5-5-8-2-8 3-8 7-8 1-8-13-16-1-8-8-16 10-16-5-8-11-11-8-1-5 4 2 8-11 16 2 8-4 7-8 1-10-8-4-16-18-5-3-3-5-8-19-24-2-8 10-16 1-8-2-8-12-16 4-8 14-8 2-8-4-2zM1520 843l2 9 6 7 8-7-4-8-4-5zM1624 900l-8 16 4 8 7 8 5 20 8 12 0 9 8 6 8 0 16-9 16 5 5-3 4-8-2-40-8-16-7-4-8 1-16 9-8-1-8-11-8-6zM1528 883l0 6 1-5zM1528 892l-2 8 2 6 3-6zM400 836l2 0 14 13 32 35 19 16 12 16 9 9 8 11 8 8 9 4 1 8-3 8 2 8 7 9 8 7 16 7 8 0 8-10 8 0 6 3 4 8-8 32 2 24-12 13-5 11-2 16-9 8-8 15-8 7-1 10 6 16 3 16 10 8 14 24 2 16 4 16-1 24 5 16-2 8 0 8 8 7 8-1 24-12 9-10 7-4 8-1 52-3 28 9 19 15 21 5 4 3 15 16 24 16 21 25 7 15 4 16 5 8 16 13 8 5 16-3 8 1 16 20 8 6 8 16 34 22 2 8 4 7 8-1 11-14 5-4 8-2 48 17 16 1 8 2 3 2 4 8-5 16 0 8 4 8 2 1 16 0 8 4 4 3 3 8-3 8-20 21-20 11-4 10-8-6-8-10-4-2-4-1-16 6-8 0-24-10-3-3-5-11-16 1-17 10-9 8-1 8 4 16-6 8-3 2-8-6-8-8-8-3-9 7-7 12-8 10-8-3-8 3-14 10-4 16-6 6-3 10-5 8-7 8-7 16-6 8-8 16-1 8 3 24-2 8-396 0 0-912zM480 1211l-8 4-15 21-2 8 1 4 8 6 8 0 3-2 5-6 8-16 1-10-7-8zM824 1560l-5 4-3 7-8-2-8 0-9 3-11 8 4 9 16 15 8-5 7-11 3-16 6-1 8 3 8 6-5 16 2 8 3 6 8-14-2-8-6-8 7-8 1-8-16-6zM952 1494l-13 14-3 8 0 10 8 7 3-9 5-5 16 0 6-3-1-8-13-13zM832 1615l-5 5 5 7 5-7zM1376 836l8-3 3 3-3 2-8-2zM1307 860l5-3 2 11-2 2-8-1 0-5zM996 908l4-3 5 3-5 4zM1219 924l5-4 3 4-3 6zM1053 1012l3-2 8 0 3 2 2 8-5 4-8-1-2-3zM637 1028l3-1 8-1 8 2 24-4 16 2 11 10 18 8 11 13 14 11 3 8-2 8 5 16-3 8-9 11-8 16-8 8-16 9-8 2-24-6-24-32-8-2-8 4-8 1-8-8-8-4-16 3-8-8-1-2 0-8 4-8 5-3 8-2 2-3-4-8-7-8 1-8 8-2 8-6 16-14zM1081 1044l7-4 8-2 2 6 20 16 12 16 6 5 10 3 18 16 5 8-1 10-24 3-8 2-16 15-8-3-8-11-16-13-2-3 2-16-3-8-13-16 0-8 8-16zM1008 1180l8-2 35 10 29 12 16 1 16-1 4 4 2 8-4 8 1 8 5 20 2 4 6 2 8 5 6 9 2 8-4 8-4 3-14 5-10 6-8 1-24-10-16-4-8-4-8-8-8-2-8 2-16 12-16 7-8 2-11-2-5-9-8 0-8 8-8-1-12-6-6-8 7-16 10-16-1-32 4-16 6-6 8 1 16 7 8-2 8-9zM875 1212l5-3 7 3-7 9-1-1zM823 1260l9-7 8 7 3 8 5 2 16-7 8 0 8 5 8 2 8-4 8-2 8 1 11 11 0 8-3 8-8 7-8 1-16-17-8 2-16 10-8 1-8-2-2-2-6-21-8 0-7-3-1-3zM1685 1516l3-2 8 0 4 10 11 16-1 8-6 16-24 4-16-1-8-2-12-9-5-8 0-8 3-8 14-7 8 0 8 2 8-5zM1260 1524l4-2 3 2-3 5zM1348 1524l4-2 8-1 8 4 7 7-3 16 1 8-8 16 3 16-8 8-16 9-2-1-4-8-5-24 0-8-5-6-8-1-4-17 4-7 3-1 21-7zM1213 1532l11-4 8 2 2 2 3 16 9 16 2 8-8 7-8 4-5-3-11-16-8-5-3-3-4-16 7-5zM1612 1548l4-1 12 1 5 8-2 24-6 8-9 4-8 0-8-3-8-11-9-6 1-1 8-1 8-5 8-12zM1510 1556l2-5 8 1 2 4 0 8-2 2-8 0-2-2zM1141 1580l19-6 8 0 8 2 16 16 16-5 8 0 8 2 4 7-3 8-9 5-8-1-16-10-8 2-16 6-8-12-6 2-2 8-8 7-8 2-8-3-4-6 4-8 8-10zM1951 1596l9-2 2 2 4 8-3 8-9 16-7 24-1 8 1 8-11 16-8 8-8-3-6-5-2-8 9-16 0-8-4-8-9-8-1-8 13-21 8-7 16-1zM1157 1620l3-6 5 6 11 8 16 4 3 4 0 8 5 7 8 3 8-4 8-13 8-2 6 9 2 8 0 8 12 24 0 8-3 8 7 7 24-3 16 7 8 0 7 5 2 8 4 8-13 3-16 0-8 2-8 5-16 2-8 7-8 2-16-7-8 2-8 6-8 2-24-8-16 7-7 1-48 0 5-24-6-7-8-2-11 1 0-8 11-12 16-2 24-9 4-17 0-8-4-4-8-3-8 4-8 8-24 10-10 9-14 8-15 24 4 24 0 8-42 0 3-16-3-8-19-10-6-6-4-8-14-14-8-16-4-2-4-7-3 7-13 9-6-9 14-9 16 0 7-7 1-8-2-8 1-8 1-4 8-5 32 12 8-2 8-5 8-1 14 5 8 8 0 8 2 6 8 12 16-6 16-1 8-2 16-17 16-5 8-4 8-7zM1232 1707l-16 3-6 6 3 8 11 11 8 0 8-10 1-9-2-8zM1144 1697l-5 3 5 7 8 1-2-8zM1494 1620l3 0 8 8-9 10-8-2-3-8 3-6zM1601 1620l8 0 8 8-1 2-8 3-8-2-5-3 5-8zM1871 1628l9-4 7 4 1 8-6 8-10 3-8-1-5-2 2-8 3-2zM1269 1636l3-3 8-1 8 2 5 2 0 8-5 4-16 0-6-4zM1360 1636l8-2 4 2 2 8-6 8-8-5-8-2-8 1-4-2 4-6 8 5 8-6zM912 1652l8-3 12 3 2 8-30 20-8-3 5-9 8-8zM1525 1652l4 0 1 8-2 3-8-1-1-2 1-5zM1976 1660l0-2 8 4 2 6-2 4-8-4zM1569 1676l7-5 13 5 5 8-2 7-16 2-8-4-2-5 2-7zM1320 1684l8-3 8-1 6 4-6 10-12-2zM1995 1716l5 0 8 5 8 11 2 8-2 3-6-3-10-10-10-6 2-7zM1866 1724l6-6 8 2 8 0 8-2 7 6 1 12 3 4 21 2 8 2 4 4 1 8-77 0 1-24zM1079 1756l1-1 8-1 4 2-12 0z"/>
<path fill="#ff5900" fill-rule="evenodd" d="M556 780l197 0 7 6 2-6 36 0-4 16-5 8-1 8 4 6 16-1 8-5-3-8 3-3 6-13 1-8 91 0 10 16-2 8-15 8 0 16-1 8 3 8 11 6 8 1 16-5 8-9 4-9-2-16 3-8 11-1 16 2 8-4 6-5-7-16 15 0 0 8 3 8 15 11 3 5 2 24 3 3 8 1 8-6 6-6 2-4 3-28 0-16 119 0 6 7 16 9 0 8-9 8-12 16-2 16-5 8-6 24-4 8-13 8-15 24-6 3-16-1-16 7-8-5-16-12-7-8-3-8-22-33-8-4-8 2-17 11-15 6-16 13-8 2-8-2-4-3-4-11-8-7-8 6-4 12-12 16-8-2-8-11-8-7-8-9-2-3-1-16-5-6-8-2-16 6-16 3-16-2-3 1 0 8 5 8 0 8-2 3-16-7-16-3-16 4-3-5 2-8 14-16-5-5-8-1-8 0-8 2-6 4-10 16-3 16-8 8-5 3-16-2-16 2-16-3-32-17-16-3-9-4-5-8-2-9-16-8-8-6-12-17-12-5-13-11-3-8zM1541 780l70 0 13 24 7 8 3 16 6 3 11-11 7-16 6-8 16 0 8 8 2 8 6 7 8 1 8 4 4 12-3 8-7 8-2 8 2 16-10 13-8 6-8 1-8 4-16 10-8-3-8-14-8-5-8 4-8 8-11 16-1 8 12 8 6 8 1 8-1 8-12 8-3 8 9 7 8-3 16 15 2 5-2 2-16 2-16-2-16 0-3-2-5-8 12-16-1-8-14-16-2-16-2-8 6-16-2-8-21-22-8 0-8-6-2-4-2-8 1-8-1-8-4-8-2-8 0-8-6-3-16 3-8 5-8-4 2-9 6-8 8-3 8-1 16 2 2-14zM1592 803l-8 1-6 8 6 4 8 0 8-3 1-1-6-8zM1624 851l-4 1-4 8 24 26 1-2 7-2 8-6-4-8-20-16zM1592 876l-1 0 1 0zM1491 836l5-7 8 1 7 14 1 16 8 8-3 16-3 8-2 2-8 0-3-2-8-8-5-9-8-7-4-8 12-22zM401 852l7-3 8 5 26 30 22 17 11 15 13 15 9 17-3 8-9 8 0 8 3 2 16 0 8 6 9 8 15 8 7 8-1 16 18 17 2 7-8 16-7 24-11 13-8 6-7 21 1 8 5 16 1 16 7 8 9 8 9 16 3 8 3 16 0 24 4 24-3 16 5 8 11 8 8-2 8-5 32-13 7-12 25-4 24-1 8 1 24 10 16 14 8 3 16 1 8 6 8 10 22 16 21 24 9 16 4 16 4 8 20 17 8 5 8 0 8-1 8 1 21 26 2 8-15 14 0 3 8 1 8-8 8 1 12 5 12 10 5 22-11 8 1 32 3 8 7 8-3 8-14 8-4 7 0 9 2 8 0 8-2 2-16-13-8-3-8 0-8 4-9 18-7 2-8-2-2-24 4-16-2-10-8-4-16 0-8 1-16 11-24 8-11 2-4 8 4 8 6 8 1 16 20 4 14-4 2-3 1 3-1 8 4 8 7 8-1 8-4 16-4 8-8 8-5 16-13 14-16-4-2 6 18 28 1 12-2 8-391 0 0-25 8-3 8-1 7-3-5-8-10 0-8-3 0-860zM480 1203l-8 5-16 24-6 12-2 10 8 12 16-4 8-6 8-16 5-12 1-8-6-13-5-3zM608 1668l-1 0 2 8 7 3 8-3-5-8-3-1zM632 1723l-2 1-3 8 5 2 10-2-2-8zM744 1563l-5 9 0 16-11 11-3 5 3 5 5 3 11 2 8-2 5-8 3-21 7-11-7-8-8-3zM760 1698l-6 2 6 2 4-2zM1707 932l5-4 1 4-1 4zM1699 980l5-5 8 0 16 1 8 4 8 7 16 6 3 3-8 16-1 16-10 5-8-3-8-28-8-7-18-7zM628 1036l12-6 8 1 8 4 16-3 16 2 8 3 8 6 16 5 4 4 18 24 2 16 0 4-8 4-7 8 3 8-3 8-9 16-8 4-8 1-16-4-20-17-12-17-8 0-8 3-8-1-16-13-8 4-3 0-5-4 0-5 16-2 3-5-1-8-8-16 14-18zM1760 1036l8-3 3 3 1 8-4 4-5-4-3-8zM1086 1052l10-1 15 9 9 9 8 14 18 9 6 12 6 4-14 4-24 17-8-3-19-18-2-8 1-8-1-8-13-16 2-11zM1007 1188l9-4 24 5 16 9 24 9 8 1 9 4 7 9 8 15-1 16 1 6 2 2 6 2 8-1 8 5 3 10-3 4-8 4-24 5-16-3-8-3-16-3-16-11-8-2-8 1-8 4-8 7-16 6-8 2-4-3-5-8-7-4-8-1-8 11-8 2-10-8 0-8 2-5 8-10 16 0 1-1-1-11-8-8-3-5 0-8 3-7 8 2 8-1 16-10 8-8zM1016 1251l-16 3-6 6-3 8 1 2 8 5 8-4 16-13 2-6-2-3zM853 1276l11-5 8 2 4 3-3 8-9 4-8-1-3-3zM897 1276l7-3 8 3 3 8-2 8-9 2-7-10zM982 1468l2-1 16 5 16 10 16 4 16 0 7 6-3 16 0 16 4 7 24 3 8 4 1 2-3 8-14 12-8 6-8 3-8 1-8-3-8-9-8 3-8 6-16 3-8-2-8-4-4-8-1-8-3-5-8-5-8 0-3-6 3-4 8 0 8-3 5-9-1-8-13-16 1-8 3-8 5-6zM1343 1532l17-2 4 2 2 8-3 8-2 16-7 8 0 8 3 8-5 6-8-2-1-4-1-8 4-16-1-8-11-8-3-8 5-5zM1682 1532l6-7 8 2 5 5 5 8-2 11-3 5-5 2-13-2-3-8-1-8 1-3zM1215 1540l3 0 0 8-2 0zM1649 1540l7-4 4 4-2 8-2 3-5-3zM1227 1564l5-7 9 7-1 9-8 2-3-3zM1612 1564l4-6 8 3 3 11-2 8-9 7-8 0-7-7 3-8 4-5zM1207 1596l9-1 2 1-2 2-8-1zM1134 1604l2-4 3 4-3 1zM1949 1612l3-1 0 2zM1918 1620l2-2 8-1 8 5 8-3-3 9 2 8-1 8-6 15-8-3-1-4-11-16-3-8zM972 1636l4-4 8 2 16 7 8 1 8-1 8-4 8-1 14 8 7 24 1 16 5 8-11 16-8 1-8 4-1 3-1 8 15 16 1 8-5 8-21 0 1-24-5-4-16-5-8-7-8-14-11-10-5-7-3-9 8-16 0-8-2-8zM1151 1636l9-7 8 1 16 6 8 16 8 5 8 2 8-2 8-11 8-3 3 9-1 8 5 16-6 8-9 6-8-2-8-6-8-3-16-16-8-4-16 6-16-9-4-4 1-8 3-2zM1872 1636l3 0-3 1zM1924 1668l4-7 8 1 1 6-9 15-8-5 0-3zM1074 1676l6-3 4 3-12 11-6-3 6-7zM1155 1676l5-4 8 6 8 12 13 10-8 8-4 8 15 12 13 4-1 8-12 3-16-2-8 2-8 4-8 0-7-7-7-8 1-8 5-5 8-2 16 0 6-1-3-8-17-16-5-8 3-6zM1103 1716l1-4 8 0 3 4-3 2-8-2zM1253 1716l11-2 6 2 5 8-3 8-24 3-1-11 1-4zM1119 1740l1-2 7 2 2 8 8 8-13 0-5-8zM1918 1748l12 0 5 8-38 0 7-4 8-1z"/>
<path fill="#ff4000" fill-rule="evenodd" d="M558 788l3-8 175 0 3 8-1 8 6 9 16-4 7-5 6-16 15 0-8 24 2 16-2 8-12 4-16 2-2 2-18 24 0 16-4 5-16-2-16 4-16-2-8-4-24-17-16 0-8-8-7-16-17-7-8-7-8-13-16-7-8-6zM830 780l78 0 8 16-4 5-8 3-5 8 0 16-2 16 27 16 4 8 0 8-8 10-8-2-16-10-5-6 0-8 2-8 0-8-13-4-8-1-16 7-16 2-24-8-8 3-8-5-3-10 19-1 7-7-1-16 8-16zM1064 780l108 0 12 14 4 2 0 8-12 12-17 4-4 8 0 8-7 16 8 16 2 8-4 8-11 8-15 19-16-1-16 9-8-3-15-16-17-24-8-16-4-8 4-8 14-16-1-16 3-16 0-14zM1144 794l-4 2 1 8 3 3 2-3-1-8zM1546 788l9-8 43 0 4 8 6 8-16-1-8 1-16 13-6 3-2 3-8-4-7-15zM1004 804l4 0 8 4 4 4 3 8-4 16 1 8-3 8-12 8-13 5-8 6-8 10-9 3-7-4-2-4-8-24 10-16 2-8-1-16 7-4 16 2 8-2 8-4zM1546 828l6-7 8 7 6 8 1 8-1 8-4 8-2 3-8 6-4-9-1-16-3-8 0-4zM1587 828l13-4 8 1 7 3-15 30-6-6-2-8-5-8zM1671 844l9-1 16 6 2 3 1 24-3 4-8 4-8-2-12-14-16-8-2-8 6-7 8 1zM798 852l2-3 8 3 2 8-2 2-8 0-4-2zM406 860l2-1 8 2 17 23 15 12 16 10 8 15 11 11 4 8 0 8-7 7-14 9-2 8 8 2 16 10 16-2 8 4 8 7 8 4 9 7-3 16 13 16-1 8-14 8-4 5-4 3 20 5 1 3-1 8-8 11-8 3-8-3-8 3-1 2 1 8 5 8 0 24 4 24-1 12-6 12 6 3 8-1 8 2 8 9 8 16 2 11-2 16 2 16-2 16 2 16 6 13 16 19 16-15 16-9 8-3 16-2 3-3 5-10 8-6 8-1 32 2 8 4 16 5 16 15 24 3 16 15 17 13 12 16 11 11 8 13 4 16 4 8 32 27 8 3 8 0 8 2 7 8 2 8-9 10-8 4-8-1-7 3 2 8 6 8 2 16 4 8 9 5 8 1 11-6 0-8-3-8 8-8 8-3 6 3 0 8-1 8-7 8 3 8 7 5 6 11 1 32-14 16-1 16-24-7-16 0-7-9-9-20-8-6-8-1-8 0-8 3-7 8-9 6-24 11-8 1-32-17-8 4-2 3-1 8 1 16-2 8-9 8-5 8 4 8 6 5 24 6 8-6 8-2 8 4 16 3 16 5 10 9 2 8-3 16-7 8-10 8 1 8-2 8-7 4-7-4 2-8 0-8-3-1-8-1-16 5-8-5-8-2-10 4 0 8 8 8 10 28 8 4 8-1 16 9 4 8-1 8-4 8-100 0-3-6-8-2-9 8-55 0-3-8-5-2-2 2 1 8-26 0 3-2 6-6-1-8-5-8-8 0-5 8 0 8 4 8-130 0-1-8-4-5-7-3 6-16-2-8-5-6-16 0-8-4 0-37 8 7 16 0 16 16 8 13 8 0 6-13 0-8-7-8-7-15-8 1-8 3-8-1-8-5-8 2-8 6 0-356 5-3 2-8-3-8-4-3 0-315 16-2-5-8-11-3 0-67 3-2-1-24zM424 1313l-6 3 6 4 8-1 5-3-5-8zM448 947l-2 9-4 8 6 16 8 6 6-6 2-8-6-8 3-8 1-8-6-5zM464 1016l-6 4 0 8 6 8 6-8 0-8zM480 1192l-8 6-30 54 1 8 5 9 8 7 8 2 5 6-1 8 4 9 16-3 3-6 0-8-6-24 12-32 3-16-3-8-10-8zM536 1610l-1 10 9 12 6-4-3-8 1-8-4-5zM560 1482l-3 2 3 4 8-3 0-5zM576 1610l-6 2-2 3-2 13 2 2 8-1 6-9-4-8zM648 1491l-11 17-1 8 4 3 8 3 8-3 3-3 5-8 1-8-1-3-8-4-6-1zM456 1736l-3 4 3 5 8 4-2-9zM472 1539l-2 1-3 8 0 8-3 2-8 3-16 0-6 3 6 8 8 3 14-3 22-24-3-8-1-1zM488 1629l-7 7 2 8 9 16 4 3 8 1 8-3 1-17-4-8-13-5zM536 1704l-8 12 4 8 4 2 13-2 7-8-4-5-8-6zM568 1651l-8 4-10 21 10 0 8-6 8 9 8 5 8-6 8 2 24 15 7-11 3-8-2-24-16 7-8 0-16-10-16 5-4-2zM600 1702l-6 6 3 16 11 16 8-3 16 4 17-1 3-8-3-8-9-7-8-1-8 2-5-2-4-8-7-6zM1612 876l4-2 4 2 4 8-15 8-13 24-4 8 3 8 13 8-4 8-4 3-8-1-3-2-4-8 5-8 2-8-3-8 2-24 17-11zM1656 884l8-2 5 2 2 8-5 8-10 5-8-4-2-9 10-8zM1743 1012l1-3 0 7zM633 1036l7-3 10 3 6 7 16-5 8 2 34 12 9 8 9 24-1 8-8 8-11 17-3 7 1 8-6 4-8-2-19-10-5-5-4-11-4-3-16-7-5-6 0-16-3-4-16-1-5-11 13-23zM1090 1060l6-1 3 1 5 8 12 8 11 16 8 8 1 8-8 10-8 4-8-3-16-19 6-16-1-8-5 0-8-4-3-4 3-7zM1008 1196l8-5 24 3 16 11 32 9 6 6 11 16 1 24 2 8-4 5-8 2-24 1-8-2-16-12-10-2-3-16-11-4-8 1-16 6-16 15-4-2-6-24 1-8 7-8 21-16zM948 1268l4-7 7 7-7 8zM1124 1268l5 0 2 8-3 2-13-2 5-5zM980 1476l4-2 9 2 7 4 8 8 11 4 3 8-6 3-8 1-7 4 29 24 2 5 14 3 3 8-9-1-8-5-16 17-8 2-8-1-8-3 0-2 8-3 2-4-1-8-9-12-4-20-11-16-2-8 1-3zM1687 1540l1-2 8-2 3 4-3 9-8-7zM1069 1548l3-1 0 2zM975 1644l1-3 8-2 24 7 16-4 8 1 9 9 7 16-2 8-6 8-8 5-14 3-3 8 7 8-2 8-4 3-8 1-8-2-3-2-8-16-13-11-4-5-2-8 3-8 4-8 1-8-2-6zM1151 1644l9-7 10 7-10 9-8-2zM1219 1668l5-3 0 7zM1150 1732l2-5 8 0 5 5-5 5-8-3zM400 1740l8-3 8 0 7 3-7 7-4 9-12 0 0-8z"/>
<path fill="#ff2600" fill-rule="evenodd" d="M566 780l33 0 9 5 8-5 114 0 1 8-1 16 2 8 0 16 4 8-1 8-16 16-2 8-11 8-10 2-16-1-8-4-16-16-8-5-8 2-8-1-8-17-8-7-16-5-4-4-10-16-18-7-5-9zM838 780l65 0 3 8 0 8-10 9-4 15-4 10-8 2-8 1-16 9-8 2-16-4-8-4 1-8 6-8-3-16 9-16zM1069 780l93 0 14 16 1 8-9 6-8-2-10-20-6-3-8 2-13 25 13 7 7 9 2 8-9 6-8 2-8 10-2 6 2 4 8 2 8-5 8 3 6 12-4 8-18 9-24 1-16 13-10-15-6-4-8-9-6-11-2-8 1-8 5-8 2-2 8-2 16 2 8-2 4-4-11-8-17-4-4-4-3-8 4-24zM1553 788l12-8 20 0-9 11-2 5-6 6-8 4-8-6-2-4 2-6zM768 812l4 8-4 4-8-2-3-2 3-3zM998 812l10-1 2 1 6 8-4 8-4 4-8 0-8-2-8 1-7 5 3 8 4 3 11 5-3 1-16 19-8 6-2-2-4-8-3-16 4-8 5-7 5-1-5-8-2-8 2-5 8 1 8 2 8-1zM1677 852l3-1 8 3 2 6-2 8-8-2-6-6zM899 860l5-3 7 3 2 8-9 2-3-2zM422 892l4 0 14 13 8-1 8 1 4 3 6 8 2 8 0 8-4 2-24 3-7 3 1 8-2 4-4 4-4 1-24-6 0-49 16 5 6-7zM1654 892l2-2 5 2-3 8-3 0zM419 980l13-6 8 4 8 12 8 4 16-10 8 3 8 7 7 2 1 8 8 9 7-1 4-8 5-3 8 3 1 8-3 8 5 8 7 8-4 8-14 7-8 1-3 8-2 16-10 16 7 6 7 10 1 8-1 16 3 32-7 16-1 8-2 4-8 0-8-4-8-7-8 3-21 44-14 24 1 8 8 16 2 3 7 5 3 8 1 24 3 8 10 3 8-2 16-11 3-30-8-24 1-8 12-32 8-6 8-1 24 2 2 5-1 16 2 16-2 16 7 27 9 13 2 8-13 16 2 9 8 0 2-1 30-31 16-10 8-5 16 0 8-8 6-10 10-5 24 3 16 6 16 4 16 14 16 0 8 1 28 25 12 18 14 14 5 8 9 24 4 5 23 19 9 12 7 4 7 8-14 5-5 3-6 8 1 8 2 4 2 4 6 4 2 4 3 16 3 5 17 11-5 8-1 8 5 6 5 2 3 1 8-1 3-8-2-8-5-8 4-3 8 1 17 10 1 8-2 12-16 25-8 6-16-1-8-2-11-24-5-18-8-6-29 16-18 16-9 4-8 7-8 1-8-4-12-8-4-6-8-4-17 10-3 8 5 24-1 3-3 5-12 8-8 8 24 24-1 3-8 1-8-3-8 0-4 7 4 6 8 4 16-8 16 4 8-1 4-5 3-8 9-6 26 6 11 8 7 8 1 8-2 8-11 7-8 0-16-2-8 1-16-4-8 1-16 9-8 2-8-2-8 4-3 8 3 5 8 3 8-5 8 1 8 6 8 22 8 12 16 5 11 7-9 16-79 0-3-9-8-4-14-3-3-8 0-8-7-6-21-10-1-8 6-11 6-5 1-8-3-8 4-16-8-6-8-2-8 0-8 5-8 0-5-5-3-7-16 0-1-1 1-1 8-1 8 1 8-7 2-8-2-1-16 1-6-8-2-8-8-8-8-1-4 1-4 3-3-11-13-2-8 2-4 16-4 6-16 14-8-1-16-7-8 0-8 3-16-6-8 9-7 22-5 8-4 2-16-3-16 6 0-332 6 7 10 2 16-8 9-2 5-8-1-8-5-9-8-1-8 3-3-1-13-15-8-4 0-166 13 9 11 2 16 9 8 0 2-3-3-8-7-3-16-3-16-8-8-20 0-44 4-2 4-8 1-8-1-1-8 1 0-48 16 2zM456 1006l-7 6 1 8 5 16 9 7 8-1 2-6 3-16-1-8-12-4zM568 1458l-21 26 3 8 2 2 8 1 8-1 6-2 10-9 8 6 8 2 8-2 8-4 12-17-4-6-8-3-8 9-8 0-16-12-8 0zM640 1473l-6 3-2 22-8 13-8 1-8-8-8-4-8 1-8 7 0 8 4 8 4 2 16 3 8 6 8 1 8-2 16-3 13-7 6-8 5-16-1-8-13-8-10-10zM672 1649l-1 3 1 4 4-4zM680 1589l-6 7 6 1 3-1zM816 1475l-4 9 4 6 8 5 8 2 5-5 1-8-6-7-8-3zM704 1724l-2 8 10 5 7-5 1-8-8-5zM432 1539l-8 25 8 17 8 9 36-18 3-8 13-16-2-8-10-5-8 0-13 5-3 5-16-10zM664 1699l-2 1-1 8 3 6 6-14zM502 996l11 0-1 1-8-1zM640 1036l16 16 8-7 8-2 16 5 25 12 4 32-6 16-7 8-8 6-8-1-9-5-3-8-9-8-16-8-2-8 3-16-4-8-8 3-8-1-3-2 0-8 3-9zM1109 1100l3-3 8 0 5 3 5 8-10 9-9-9zM516 1196l12 0-8 2zM1026 1204l6-4 8 1 3 3 5 17 8 1 8-4 8 0 12 2 4 3 5 13 5 8 0 8-2 10-8 0-16 7-4-1-4-3-4-5-1-16-3-6-8-5-8 2-16-2-16 0-16 12-8 3-3-12 3-9 8-7 8-4 8-1 8 1 8-2 1-2zM526 1644l2-3 16 5 8 6-8 10-16 3-5-13zM462 1652l2-3 8-4 8 7 8 15 8 6 6 3 4 8 6 8 8 3 6 5-4 16 1 8 5 6 8 4 8-2 8 2 2 14 4 8-19 0-3-8-7 8-17 0-5-8-3-3-3 3 0 8-29 0-1-8-5-16 1-8 5-6 13-2 4-8-1-2-16 0-3-6 3-8-2-8-9-16-1-8zM984 1652l8-5 16 3 16 0 8 2 7 8 2 8-5 8-12 7-8 2-9 7 0 8 5 8-4 6-8-2-4-12-4-5-14-11-2-3-1-5 7-16zM410 1692l6-4 7 4 1 8-16 2-2-2 2-6zM546 1692l6-4 8-1 8 4 5 17-5 6-19-14zM425 1700l7 0 0 2zM440 1724l8-3 2 3-2 2zM625 1748l17 0 11 8-31 0 2-7zM447 1756l1-2 3 2-3 0z"/>
<path fill="#ff0d00" fill-rule="evenodd" d="M574 780l15 0 3 15 16-4 8-4 6-7 21 0 5 1 3-1 74 0 0 8-2 8-1 16-2 4-5 4-4 8 9 8 4 8-20 24-16 5-8 0-8-6-16-17-20-6-12-17-8-5-8 0-8-4-3-6-5-15-16-3-6-6zM848 780l51 0 2 8-3 8-6 8-4 11-5 5-3 2-6-2-10-7-8 7 2 8-3 8-7 2-11-2-1-8 8-8-7-16 13-16zM1077 780l59 0-16 19-8 5-3 8 1 8-6 6-8-1-16-5-8-5-1-3 4-24zM1558 796l2-3 4 3-4 2zM1067 852l5-5 8-1 24 2 6 4-1 8 3 8 5 8-5 4-16 3-16-2-8-2-8-11 0-9zM400 916l0-3 2 3-2 4zM444 916l4-4 8-1 5 5 1 8-6 5-8-1-4-4zM407 932l9-7 6 7-2 8-4 5-9-5zM400 988l0-3 7 3 9 6 4-6 12-8 8 7 6 9-2 8-4 4-8 2-8-9-8-3-16 18 0-20zM483 1020l5-5 8 3 4 2 1 8-5 2-8 10-7-4-1-8zM436 1028l4-5 8 10 6 11 6 8 5 16 7 3 16-19 8 1 5 7 0 8-2 8-16 16-1 8 14 2 8 4 2 2 2 8-4 24 4 24-4 10-8 8-16-6-8 1-5 3-11 12-16 2-4 2-3 8 9 8 7 8-3 8-13 24 1 8 6 16-6 8-2 1-8-1-13-8-3-3-8 0 0-68 10-1-1-8-9-3 0-45 16-12 8-1 16 7 8 1 8-3 2-8-2-10-8-6-24-5-8-4-5-7-7-16-4-3 0-30 8-4 8-7 16-9zM440 1079l-1 5 1 3 8 8 12-3-4-8-8-6zM512 1036l8-6 9 6-6 8-3 1-3-1zM639 1044l2 0-2 8zM663 1052l9-5 15 5 14 8 5 8-2 16 3 8 1 8-4 8-8 4-8-2-32-25 3-25zM505 1228l7-6 8-1 8 0 8 3 2 4 3 16-2 16 1 16 4 9 3 15 5 8 2 8-9 16-1 8 8 8 8 0 8-4 24-28 14-8 10-8 16-1 8-5 8-13 8-5 24 5 8 3 16 2 8 3 8 10 8 4 16-1 8 2 23 20 5 8 2 8 4 8 14 8 6 8 5 16 5 8 8 11 15 13 6 8 3 8-3 8-13 4-4 4-4 16-19 16-2 8 5 12 15 12 1 8-6 8-10 4-8 9-8 5-10-2-4-8 0-16-18 5-6-5-3 0-7 6-5 10-21 16-1 8 6 24-3 6-8 4-8 0-8-2-8-6-8-2-16 6-8 10 1 16-4 16-5 7-8 5-24-3-2-1 5-16-2-8-1-2-8-1-8 3-6-8 6-8 0-8-2-8 2-16-8-8-8 3-8 14-8 2-16 1-16-1-10 13-1 16-5 5-8 2-8-2-8-5-6-8 6-5 9-3 4-8-5-8-8-2-6-6 6-4 8-1 8 2 11-5-5-8-14-5-16-11-16-1-16 4-8-5-8-2-8 4-6 8-5 24 1 8 4 8 1 8-4 8-7 6-16 3 0-151 8-7 11-3 7-8-2-4-11-12-5-28-8-10 0-46 16 4 8-3 8-5 16-4 8 0 8 4 16 1 16-4 10 3 0 8 12 8 3 0 1-8-2-5-4-3-1-8-10-16-1-8 4-16-9-16-3-8 8-30zM568 1451l-13 9-11 13-5 11 5 8 8 6 16 3 5 7 0 24 3 4 8 3 40 8 40-12 8-10 3-17 5-13 14-3 2-2 1-6-9-13-32-18-8 1-8 6-16-10-8-3-24-3-16 4zM624 1403l-6 9 3 8 3 2 9-2 3-8-4-9zM648 1439l-2 5 2 6 3-6zM792 1500l-9 8 1 3 8 3 8-1 4-5-4-5-6-3zM448 1456l-3 4 3 3 3-3zM496 1344l-8 4-8 8 5 8 13 8 6 11 8 3 3-6-11-11-4-5 2-16zM1071 1228l9 0-2 8-6 11-5-11zM848 1484l2 8-2 5-1-5zM911 1524l1-1 1 1-1 2zM759 1532l1-2 8 2 7 8 3 8-2 2-5-2-11-8zM874 1548l6-5 8 0 8 2 3 3-1 8-2 2-8 2-8-2-4-2zM462 1588l10-5 11 5-4 8-7 3-6-3-2-3zM679 1612l2 0-1 4zM401 1620l7-3 24 0 5 3 0 8-5 8-8 2-8 4-8 6-8 4 0-32zM765 1636l3-7 8 0 16 5 2 2 4 8 1 8-7 4-16-2-9-2-2-8zM693 1644l3 0 8 7 8 4 3-3 5-2 8-1 8 3 2 8-10 6-8 0-8-3-8 2-8 13-8 8-16 1-7-3-1-8 16-13 8-18zM991 1652l11 0 22 8 5 8-11 8-26 6-8-2-2-4 5-16zM470 1660l2-3 8 10 1 9-1 2-8-5-2-5zM502 1700l2-1 9 1 4 8-3 16 5 8 2 8-1 1-24-12-5-5 7-16zM682 1700l6-7 8 0 16 10 8-5 8 1 2 9 6 3 8 14 8 9 12 6 0 8-4 8-59 0-2-8 5-3 8 0 8-5 4-8 1-16-5-6-8 0-16 14-8 10-8 0-4-2-2-16 2-8 4-6zM474 1732l6-5 5 5 0 8 4 8 2 8-11 0-3-16z"/>
<path fill="#f20000" fill-rule="evenodd" d="M623 788l9-5 16 7 8-2 7-8 56 0-1 8-6 16-8 11-8-2-8-11-8-7-1 1 1 11 7 13 9 2 4 6 12 10 4 6-12 13-8 3-8 4-8 2-8-5-16-18-14-7 0-8-2-2-10-6-6-7-11-9 0-8 3-2zM858 780l37 0 1 8-8 15-8 7-7-6-9-17zM1088 780l37 0-9 8-12 4-6 4 0 8 2 8-4 5-15-5 2-24zM1076 852l4-1 8 0 8 3 6 6-1 8-5 4-8 2-8-1-9-5-1-8 2-4zM400 996l0-4 4 4-4 7zM423 1044l9-2 8 1 6 9 3 8-19 16 2 8 3 8 6 8-2 8-10 0-13-8-8-21-8-5 0-19 8-2 8-5zM665 1060l7-8 8 3 7 5-3 8-8 8-4 7-8-5 0-15zM678 1092l2-8 8 3 6 5 3 8-1 1-3-1-13-7zM471 1108l25 0 7 8-5 24 4 24-5 8-9 1-16-2-8 4-8 7-8 2-16 1-8 3-8-8-16 3 0-28 9 1 6 8 1 4 8 2 5-6 1-8 2-4 8-2 8 1 8-1 6-10 2-25zM400 1212l0-2 8 2 16 7 8-1 3 2 4 8-2 8-10 16-1 8 3 8-5 4-2-4-2-8-4-3-8-1-8 4 0-40zM519 1228l9 1 4 7 1 8-2 32 5 10 3 22 5 8-8 23-8-6-6-17-10-8-2-8 2-5 10-11-3-8-13-8-4-8 7-16 1-8 2-5zM653 1284l3-2 32 8 16 0 8 5 8 10 8 1 16 0 8 4 18 14 3 8 0 8 2 8 17 8 8 7 3 9 1 8 23 32 4 16-12 16-1 8-4 8-14 14-5 2-9 16-10 13-4 3-4 2-16-3-8 4-15 21-9 5-8-3-8-8-6 6 1 8 13 23 2 9 0 8-2 2-10-2-14-16-8 8-16 7-15 9-6 8 1 8 4 8 0 11-2 5-6 6-8 0-8-6 2-16-2-6-14-10-2-4-2-12 2-4 8-4 16 2 6-2 3-8 7-4 24-6 16 9 3-15-9-8-2-8 2-8-2-8 0-8 8-8 8-3 9-5 0-8-4-8-13-15-8-7-8-3-26-31-1-16-5-5-8-4-8 0-13 9-2 8 7 19 8 1 8-2 4 6-4 5-32-8-16-7-5 10-27 19-10 5-8 16-1 8 5 8 10 8 12 4 6 4 1 8-2 8-2 8-5 8 2 2 13 6 1 8-6 8-16 5-8-2-4-3-2-16-2-4-24-7-16-9-40 0-8-8-8 0-16 12-3 8-4 24 4 16 0 8-5 7-8 2-8 0 0-86 24-3 16-7 8 0 6-9 0-8 3-8 7-12 8-3 8 0 8-9 1-8-1-4-8-1-8 5-8 2-8-2-12-8-2-8-3-8-15-9-6-7-4-16-4-8-10-8 0-30 16 4 8-1 8-7 8-2 32 2 7 2-1 8-5 8 4 8 11 8 7 8 6 8 1 8-6 13-5 3-4 8 20 8 5 4 4-4 3-8 0-24 7-16 0-8 10-16 8-3 16 2 8-1 8-9 6-13 10-10 16-9 8-6 16-2 8-5 8-9zM568 1367l-4 5 1 8 3 4 8 2 4-6-1-8-3-3zM411 1452l13-5 8 4 4 17-1 8-3 2-24 13-8-2 0-24 8-10zM407 1628l4 0-1 8-10 9 0-12zM688 1660l8-3 1 3-9 13-2-5 2-8zM994 1660l6-2 8 2 2 8-10 2-5-2zM684 1708l4-4 8-1 5 5-4 8-9 5-6-5zM735 1724l1-1 6 9 9 8 1 8-8 8-25 0 1-8 9-16z"/>
<path fill="#d90000" fill-rule="evenodd" d="M683 780l28 0-1 8-6 12-8-1-8-11zM879 788l1-4 8-1 0 7-8 7-1-1zM1103 780l10 0-9 1zM661 796l3-1 7 9 4 8-2 16 7 3 16 4 10 9-2 3-16 4-8 6-8-2-9-11-15-29-4-3-2-8 14-7zM1077 860l3-3 8 0 6 3-6 8-8-3zM400 1060l16-2 8-5 5 7-5 1-9 7-7 2-8 0 0-2zM672 1060l0 1zM423 1092l1-3 1 3-1 3zM477 1116l11-2 7 2 0 8-4 8 0 8 3 16-2 8-4 2-16 0-10-2-1-8 7-16 4-19zM400 1220l0-3 7 3 9 7 8 5 4 4-4 9-16 1-8 7 0-25zM520 1252l2 8-2 2-4-2zM658 1292l14-1 16 6 16-1 5 4 6 8 5 3 16-2 8 2 19 13 4 8-1 8 2 9 8 6 16 6 3 3 3 8-2 16 12 5 2 3 4 8 6 24-6 8-2 16-4 8-8 6-8 1-8-3-8 0-6 4 1 8 8 8 0 8-5 8-6 4-16-2-8 2-8 7-8 3-8-4-4 6-20 1-3-1-5-8 16-6 8 1 7-3-14-40 4-8-5-2-16-14-8-4-8-1-7-3 2-8-3-8-16-18-8-4-16-3-8 3-8 6-8 0-8 4-16 12-11 24-13 12-8 3-8-1-6-6 1-16-3-16 1-8 23-11 8 1 16 9 8-5 12-18 3-8-7-8-8-4-2-4 2-16 4-8 4-4 16-7 8-7 32-10 8-11zM736 1410l0 2 8 0 0-5zM431 1348l9-5 11 5 8 8 5 1 6 7 12 8 7 8 5 8-1 8-5 4-8 1-12 11-4 12-8-1-8-11 0-20-8-9-5 5-3 9-8 3-2-4 0-16-4-8-10-4-8-7 0-11 8-1 16 7zM410 1460l6-5 8-2 5 7 0 8-5 5-16 10-8-4 0-5 8-9zM507 1460l5-4 8 1 8 11-1 16 4 8 7 8 20 8 3 8-1 6-8 11-8-2-8-7-8 3-7 5-3 0-6-4-8-13-16 9-24 1-3-1-5-4-3-4 3-8 7-8 1-18 8-4 8 1 7-3 9-10 8-4zM400 1524l0-5 10 5 1 8 4 8 2 8-4 16 3 20-2 4-6 2-8-1 0-57zM655 1572l1-1 2 1-2 1zM615 1588l1-4 8-2 9 6-1 2-8 2-8-3zM631 1620l1-2 8-2 2 4-2 5-8-1zM733 1740l3-4 4 4 2 8-6 7-8-7z"/>
<path fill="#bf0000" fill-rule="evenodd" d="M657 812l7-5 3 5-2 8-1 1-2-1zM672 844l3 0-3 0zM477 1140l3-3 2 3 3 8 1 8-6 5-8-3-1-2 1-11zM666 1300l6-2 8 2 8 5 16 1 2 10 6 8 10-8 6-2 8-1 8 3 12 8 4 6 1 18 4 8 19 5 5 3 3 8-7 16-7 24 4 8 9 8 4 8 8 8 2 8-5 7-8-1-8-5-23 15-1 8 8 4 4 4 1 8-5 7-8 1-8-3-16 1-3-6-1-8 4-3 8-1 7-4-2-8-5-3-8-1-6 4-2 9-4-17-1-16-3-6-8-2-8-1-16-7-6-8-4-8-14-9-16-17-16-6-8-8-5-8-4-8-1-8 6-24 9-8 3-1 8-1 8 3 8-1 8-14zM696 1392l-7 4 7 6 8-6zM744 1386l-8 8-8 4-4 6 4 8 8 8 8 0 8-2 4-6-4-21-5-3zM591 1340l1-3 8-4 3 7-3 2-8 1zM451 1372l5-4 8-1 8 3 10 10 0 8-18 17-5-1-8-24zM547 1404l5-3 8 0 5 3 3 8-8 19-8 7-8 1-8-19 1-8 7-6zM512 1468l4 8-4 2-2-2zM472 1508l8-7 8 2 4 5 0 8-4 3-8 0-16-2-2-1 2-3zM545 1516l7-2 1 2-1 3zM400 1540l0-7 8 8 3 7-2 32-1 2-8 1 0-35z"/>
<path fill="#a60000" fill-rule="evenodd" d="M670 1308l2-2 8 1 8 9 5 16-2 16 5 9 8 4 5-5 1-16 10-8 8-12 8-2 12 6 7 8 0 8-3 13-15 11-9 13-5 3-11 4-16 1-8 4-8 9-8 2-8-5-8-11-20-12-14-24 1-8 7-16 2-2 8-1 8 4 8-1 8-10zM772 1364l5 0 7 4 2 4-18 34-12-26 1-8 3-5 8-3zM461 1380l3-4 9 4-9 10-1-2zM544 1412l8-5 8 2 2 3-2 8-8 7-8-4-2-3 2-8zM694 1412l18-6 7 6 4 8-3 3-16 0-9-3zM756 1428l12-1 5 9 0 16-13 9-8 0-15-9-3-8 0-8 2-3 8-4 8-1zM758 1492l2-5 4 5-4 1zM400 1548l0-2 1 2-1 6zM400 1564l0-6 3 14-3 3 0-3z"/>
<path fill="#8c0000" fill-rule="evenodd" d="M670 1316l2-2 8 2 4 8 2 8-4 24 7 8 12 8-7 8-6 2-8 7-8 2-4-3-5-8-10-8-6-16-15-6-2-2-1-8 3-7 8-5 8 4 8 2 8-12zM741 1332l4 0 1 8-2 3-8 13-8 7-8 5-2-4 1-16 1-2 13-6 3-3zM750 1444l2-2 8 0 2 2-1 8-9 0z"/>
</g>
<path d="M676 806l6 6 6 7 7 6 7 6 5 9 8 3 6 7 4 9 6 7 1 10 2 10M734 886l-9 4-7 4-9 5-7 6-7 6-8 5-7 6-7 5-7 9-8 7-8 7-4 7-3 8-5 7-5 9-5 10M628 991l-9-4-10-3-5-6-5-9 2-11-5-8M734 886l0 9 7 10 5 9 5 11 7 9 1 12 6 10 2 8 5 8 3 10M775 982l-4 10-5 9-6 8 4 10-5 9-3 8 2 9-5 9 0 8 3 10 3 9-3 12-6 7M628 991l3 8 2 9 1 9-2 11 3 10-1 11-2 10 0 8 2 12-3 8M631 1087l10 3 9-5 9 8 9 1 8 0 10 2 9 1 10 0 9 3 10-1 9 3 9-2 8 0M631 1087l-10 2-8 2-10 2-10 1-11 1-8 2-10-1-10 2-10 4-11 4-11 4-6 6-6 5-10 1M494 1010l5 7 3 9 1 10 10 6 5 10 4 10 6 9 6 6 8 7 5 9 7 5M750 1100l4 9 5 10 0 10 3 9 7 7M769 1145l9-1 9 3 8 2 9 2 11 3 9 1 10-1 11 2 10 2 7 3 6 6 8 0 9-2 9-1 9 4 9 6 7 6 9 4 10 6 8 4 5 6M769 1145l-9 10-7 9-9 2-7 6-9 3-7 5-10 3-9 7-9-2-9 3-8 2-13 7M558 1167l9-2 9 0 8 0 9-4 8 2 9 4 8 3 3 9 5 8-1 9M878 843l-6 6-2 11-2 10-4 8-3 8 1 9 9 9 7 10 3 9 6 9 3 8 6 10 7 9-3 6-6 7 7 9 12 4M948 844l-1 10 4 10-1 13-1 10-1 10 2 11-5 10 5 13 1 9 1 11 3 10-4 11-3 11 4 12-2 11 1 11M775 982l10-2 9 4 10 1 11 3 11-1 10 4 12 3 9 5 11 2 10 1 10 2 9 0 9-10 7-9 9 4 10 2 8 6 5 12 6 8 9 5 10 1 10 3M951 1017l0 11-4 10-3 9 1 10 0 11 2 9-3 10 0 10-2 10 0 9 0 10 4 10 0 10-2 10 0 10 1 11 0 11 3 12M1041 844l-1 10 5 8 4 10-2 10 3 9 1 9 6 9 2 9-2 9 1 9 0 10 3 8 2 10 3 8 4 9-1 10 6 10-2 9 2 9-4 10-7 7 2 10-3 9M1134 844l0 10-2 11-2 11 4 11-3 12 3 9 1 11-2 10-1 11 0 10 2 12 0 10 0 11 1 10-2 11 1 11 1 11-1 10-1 10 0 10-3 10 2 11-2 9-9-1-12 1-10-1-11 2-9 3-11-3-11-1M980 1036l10 0 9 2 9 2 10-1 9 4 9 4 10 1 8 4 9 3-6 10 4 11-4 10-1 11 1 11-2 9 0 11-1 10 3 10 1 11-4 9 1 11 2 10 0 11M1130 1086l1-10 3-8 11-2 10-6 11-5 8-4 11-2 8 9 5 10 3 9 4 7 2 10 9-4 11 3 9-3 10-1 12-3 10 1 10-4 11 4 11-6 9-3 9 1 11-1 9 0 9-1 11-3 8-3 7-4 7-5 8-3 12 1 7-1 11-3 10-1 10-4 8-5 12 0 8-4 11-4 8-3 11-2 9-7 8-4 10 4 9-3 8-3M1386 849l0 10 4 9-4 8 2 9-2 10 0 12-2 11 3 10-4 12-3 11-2 10 5 11-3 10 2 10 6 8 2 10-2 12-3 11-2 9 0 10-3 10M1380 982l6-10 10-6 7-6 10 2 9-6 8 5 9 1 8 4 3 9 0 9 7 7-2 11 5 11 1 11-1 12-3 10M1457 850l1 9 3 7 2 10-2 8-4 11 0 10 5 8 8 5-2 7-2 9-9 9-10 7 1 7-1 9M1358 1074l7 7 10 1 7 6 8 6 6 9 10 10 1 8 5 9 3 8 1 9 0 9 6 8 2 9 1 9 1 9-1 9M1406 1113l-4 8-1 8-5 9-12 4-10 3-4 10-5 11 2 11-1 11-2 12M1588 854l3 9-5 13 0 10 2 11 0 11-3 11 2 10-3 10 3 10-2 10-1 10 0 12-6 10 1 12-4 11M1540 1020l10 1 7-2 10-2 8-3 10-2 7-1 9-1 9 0 9 3 4 7 7 2 10 0 9 1 5 6 8 7 5 11 4 11M1713 850l2 12-2 11-2 11 1 11-1 9-2 10-2 10 1 10-4 8-5 10 1 11-3 9-7 9 2 9-4 10-1 10-4 12 1 10-6 10-6 8-1 8M1761 866l1 9-1 9 0 9 0 9 6 8 6 9 7 8 1 9 2 9-3 11 0 10 0 10-3 11 0 11M1671 1058l8 5 8-1 5-8 8-5 5-10 5-6 11-7 11-3 9 0 8-1 9 0 2-7 1-8 9-4 7-5M1841 898l-2 10-3 9-2 10 1 10 1 10 1 9 4 10 6 12M1841 898l11 0 10-4 11-2 6-5 11 0 5-10 10-1M1777 998l10-1 11 0 11-3 9-6 10-2 11-1 8-7 10-4 11 2 11-4 11 4 11 0 9 6 11 3M1962 898l1 9-3 11 6 9-9 6-7 7-10 5-10 5-3 10-3 12-3 13 0 10 2 9 2 9-1 10-2 10-3 9-1 10 0 10-1 9-2 8-1 8-4 11 1 11-3 10-1 11 2 11 2 10M1966 934l12 1 10 5 9 1 8-1 9-3 8-9 11-4 6-13M2014 940l5 10 1 11 3 11-1 9 3 8 1 9-8 7-11 5-3 10 1 9-5 9 1 11 2 9-1 11 2 10-1 11 1 10 1 11-3 11 1 12-2 11M2052 927l1 9 6 8-1 9-5 8 4 10-8 7 3 12 8 9 2 11-1 10 6 9 0 10 1 10-1 9 3 10 1 10 0 9 5 8 6 8 2 10 7 8 3 8M1911 1151l8 7 9 2 9 4 9-4 7-7 9-3 11-1 9 1 9-4 10 0 11 0 10-4 12 4 12-1 9-4 9-5 12 1 9-4 9-4 6-3M2094 1129l-1 9-1 8 1 10-3 8-1 10 1 8-2 9-1 9M1937 1164l6 7 4 10 3 9 6 10M1761 1007l9 6 6 9 7 8 8 7 2 9 6 9 7 8 3 11 10 0 9 4 11-2 8 2 11 0 10-3 11-1 9-3 7-3 7 6 6 8 6 5M1687 1062l-2 9-3 11 3 10-6 10-1 11-1 8-3 9 0 8-3 11-3 9M1809 1074l-2 10 0 9 0 11-5 9-1 11 1 11-3 10-5 8 0 9-4 8-8 6-8 5-8 4-8 5-11-1-10 8-11-1-9 6-11-2M1559 1020l-1 11 4 10 1 11 3 10 0 9-1 11-1 10 3 11-1 10-4 9 1 9-4 9-2 8-1 10 5 8 6 8 2 9 8-3 10 3 8-5 9-1 9-3 11-4 10-1 8-5 10-5 8-4 8-7 6-10M1799 1190l9-2 9 0 9-1 8-1 11-1 8-5 10-1 10-2 7-6 7-5 10-4 8-4 6-7M1668 1158l8 6 5 6 6 7 6 6 3 9 4 8M2145 898l5 10 6 7 2 12 9 2 8 5 8 6 7 7 6 8 6 7-5 12-4 11-2 8 5 8-10-2-11 5-11-1-10 4-3 10-1 10-2 9 0 10 2 13-5 9-2 10 1 11-2 11-10 6-11 3-10 2-11 5M2196 1001l6 10 5 10 5 9 5 7 5 9 7 9 5 7 5 9 8 5 6 9 4 9 7 10 9 9 5 8 8 5 4 9 2 9 3 10 3 10M2142 1100l6 8 6 5 10-1 11-2 10-3 11-1 10-1 11-1 11-1 12 1 8-6 9-4M2154 1113l3 8 2 9 5 8 2 10 6 8 5 8 0 9 4 9-1 9 0 9M2206 886l5 6 3 9 4 7 9 3 10 4 7 4 10 5 11 4 11 5 10 4 6 7 6 9 3 9 7 7-8 4-8 5 4 9 3 7-1 10 7 11 1 10 5 11 2 12 6 8 2 12 0 11 4 10-1 11-1 11 1 11-3 10-2 10 4 7-5 9-11 4-9 2-8 8-11 5-5 8-4 6-4 9M2308 969l9-5 10-2 10-3 10 2 9 1 10 0 4 10 1 10 1 9-3 13 8-6 8-9 6-11 6-9 10-8 7-8 11-6 5-13M2369 1004l-1 10-3 11 1 11 5 10-1 13 5 9-1 11 4 11 0 10 2 9 4 8 1 9 6 6 9 5 7 8 5 9 8 4M2420 1158l-5 10-8 9-10 1-7 6-8 2-9 0-8-4-9 1-5-8-11-1-8-5-8-5-6-6M2420 1158l7-1 11-4 8-2 9-6 12 0 11-7M2542 995l-7 5-7 3-8 7-2 10 0 9 2 7 3 9 5 5 6 8 2 11 0 15-4 7-3 8-3 11-4 11 4 10-2 9M2651 1025l-3 10-2 9-7 11-1 11-6 8-5 9-10 6-12 2-7 7-4 7-7 6-10 5-10 3-9 5-8 6-8 2-10 2-8 6M2703 1138l-8 2-8 0-7 5-10-2-8-1-8-4-9 1-7 4-8 5-9 3-8 3-8 3-8 2-9 1-8 1-8 1-9-3-8-6-7-6-9-5-15-2M2524 1140l9 6 2 10 9 4 10 3 8 7 10 6 8 6 10-1 9 0 10 6 12 3 6 9 2 10 9 3 8 8 11 3 7 9 4 10 6 11 7 10M2478 1130l9 0 8 3 9 4 11-1 9 4M562 1318l8 2 7 6 9 2 10-2 7 6 9-1 10-2 7-2 9 1 9 1 8 0 8-4 10 2 9 4 7 13M593 1331l7 8 6 11 6 10 8 6 4 8 7 8 9 2 9 3 8 5 8 5 11 1 11 0 11 0 4-12-6-10-4-10-1-10-2-12 8-10-2-12 10-4 6-8 10-1 11-2 10 1 11-2 5-6 8-4 7-7 8-6 7-6 8-4 8-3 12-1 11-4 9-7 10 2 12 1 10 0 8 3 11 2 9 1 10 3 10 1 8 2 10 4 9 0 8 0 9 3 10-5 10 5M740 1200l4 10 8 4 1 12 6 6 6 10 8 9 9 7 1 10 5 9M938 1200l3 10 4 11 0 11-1 10 5 8 0 9 0 8 2 10M753 1306l11 1 9 7 12 1 11 3 10 6 11 4 10 5 7 9 8 5 7 7 6 6 9-5 10-3 11-6 9-5 10 0 11-4 11-3 9 3 7-1 9 2 9-4 11-4 9 1M855 1360l-4 10-1 11-4 11-1 11-7 11-2 10-1 11 0 10 1 11-1 8 1 9 3 9 2 7 1 9M916 1338l3 10 2 10 0 12 5 9 0 10 5 10 1 9 0 10 1 9 8 8-2 12 6 9 3 11 8 9 2 12 2 9 5 8 5 9 5 7 5 5M676 1398l-4 11 1 11 0 10-4 11 2 11-1 10-1 10-6 6-3 10-4 11 1 10 0 11 2 10-2 10 2 9 1 9 0 11 3 9 2 8-2 11 1 11 2 12M670 1462l9 1 10 3 10-9 9 2 9 3 10-1 9 2 10-1 10 3 9 0 10 4 10 0 10 5 11-1 11 2 11 4 11 3M842 1498l8 2 9 5 9 2 8 4 11 0 9 2 10 1 12 1 10-1 10 3 11 1 11-1 10-3M868 1507l1 10 1 9 0 10 1 10-1 9 0 12-2 11-4 8-2 9-4 8-5 8-4 9M980 1283l9-1 7 4 10 0 8 2 7 8 9 3 8 3 12 7M1050 1200l0 11-3 11-3 10-2 10-1 11 0 11 4 9 2 7 1 11-1 9 3 9 4 10 12 5 4 10 6 7 8 5 4 8 7 6M980 1344l10 5 9 5 8-7 5-9 7-11 9-9 11-4 11-5M1095 1360l-2 10-7 7-4 9-3 10-2 11-1 11-6 8 3 10-5 10-2 10-4 9 1 12-3 11-1 11 0 10-2 11-5 10-3 9-3 9-2 10-2 11-3 10-1 11-2 11-3 9-2 10M1095 1360l11-1 9 3 8 0 11-2 1 10 0 7 5 9-1 11-4 9-1 12M1127 1200l6 7 3 9 10 3 11 5 11 1 10 4 10-1 11 6 9 2 9 2 9 0 7 8 9 2 7 8 9 4 4 10 4 8 5 9 3 9 5 9 2 10-7 8-8 5-4 10M1134 1360l7 8 6 8 6 10 10 2 12 0 10 1 12-5 7-11 11-1 11-3 10-3 9-5 5-9 6-7 6-7M1262 1338l10-3 11-5 11-5 11 1 11-6 11 1 11 1 11-3 11-3 10-4 11 4 11-3 10 5 9 5 8 7 9 4M1332 1200l-3 10 2 11-2 11-3 10-5 6-6 7-2 9-3 11-6 10-4 11-4 9 1 10-3 10M1262 1338l-2 11 2 11-5 10 0 12 1 10 2 10-1 10 1 8 2 10-3 10-1 10 1 10-4 9-2 9-2 10-4 9-1 10-5 9 4 10-2 11-1 9 0 10-3 10 0 12 1 10 2 9M1428 1334l-5 11-1 10 0 11 2 9 3 9-3 10 3 7 1 10-1 9 4 9 4 9 5 8 1 10 4 8 0 10 1 10 6 7-2 10 2 10 2 8-1 9 4 8 0 10-2 9 2 11-2 9-1 9M1428 1334l7-8 10-5 9-6-1-10 4-9-1-10 4-9-1-10-2-10-3-9-4-10-3-9-9-5-5-9-5-8-6-7M1428 1334l9-4 10-3 9 0 10 1 10-1 10-5 9-1 10-3 7-4 11 0 7-5 10-3M1486 1200l-1 11 6 10 1 11-1 10-3 9 1 10-3 9-2 10 0 11-2 8-3 10-5 10-8 9M1466 1328l3 11-4 11 1 10 4 11 0 11 3 10 0 8 2 9 1 9 6 8 10 4 8-10 11-2 9 4 11 1 9-2M1540 1306l11-1 11-1 10-2 11 2 10 6 11 2 10 4 11-3 11 2 11-4 10-2 11-3 9 2 10 1 9 3 10 0 9 0 8 0 9 3 12 2 8 6 12 2 7-6 10-2 7-7 8-4 10-4 11 2 11-2 9 0 8-3 9 0M1713 1200l0 9 0 11-2 9-1 9-4 10-3 11 0 11-5 11-11 9-4 8-5 8M1604 1312l2 8-1 10 2 9 3 8-2 10-2 9-2 9 0 11-1 9 0 10 2 9-4 10 1 10-1 9 4 10-1 9-1 12 2 10 2 10M1540 1424l7 5 10-1 9 2 8-2 10 2 8-3 9-3M1607 1494l0 9 3 8-3 9M1607 1494l9-2 9 3 9 4 8 2 12-2 11 1 12 0 10 1 8 5 10 1 8 7 8 3 9 5 8 4-2 12-3 10-4 10-1 8-1 10-1 8 6 13M1738 1526l8-7 7-9 5-9 7-8 4-11 8-7 8-5 10-2 5-9 9-3 12-3 10-4 10-6 8-6 11-3 6-6 7-7M1764 1325l-4 10 0 11-4 10-2 10 8 11 8 9 9 5 11 5 6 9 10 4 6 9 10 6 6 6 7 5 6 8M1854 1299l8 7 6 11 11 5 6 11 1 11 6 10-2 10 0 11-1 11 2 10-7 7-2 8-9 10M1822 1200l3 10 1 8 1 12 1 8 2 10 0 9-1 11 2 9 8 7 8 8 7 7M1889 1341l9 2 8 2 9 1 9 4 9 0 9 4 10 1 10-1 9-1 11 3 9 0 10 1 9-1 10-2 10 3 9-3 3-11 9-7 7-8M1879 1322l1-9 7-8 2-9 9-10 7-9 8-5 8-3 8-5 8-3 10-6 6-11 9-6-5-8-3-8-4-9 6-13M1962 1238l11-2 11-2 10-2 8 8 2 8 3 10 10-5 10 1 10-2 9-4 8-7 7-9 9-5 8-8 7-9 5-10M2046 1248l4 8-1 10 6 9 0 8 0 11 1 11 2 10 7 10 13 3 12 4 10 2M1873 1421l8 5 8 11 9 6 6 8 2 10 6 7 6 7 10 2 9 5 10-2 8 3 11 2 12 3 10 3 9 1 11 1 9 1 1-8-2-9 4-8 0-12 0-10-3-10 2-10 7-9 10-7 12-4 10-2 11 0 10 1 12-4 9 3M1966 1485l-7 10-5 8-4 11-8 6-9 4-7 8-8 1-5 8 2 11-2 10-2 9 2 9-2 12 3 9 2 10-2 9M2100 1443l-9 5-7 8-3 10-3 10 0 12-2 10-5 9 7 9 2 9 2 11 2 10 5 10 1 9 3 10 4 9M2180 1200l-2 9 1 8-2 9 6 6 4 9 9 4-2 9-5 8-1 10-3 8-2 10-8 8-3 10-6 9-2 11-2 10-7 8-2 11-2 9-7 10-11 4-7 9-9 4-9 3-8 6M2196 1242l9-5 9 0 6-8 8-3 9-2 9 1 8-2 9-4 8-8 5-11M2263 1219l1 11 3 11 3 10 3 9 5 9 8 8 2 10 5 10-1 12 0 11 1 10 2 11 1 9 2 10M2298 1360l4-8 4-11 2-9 5-9 5-8 3-9 7-8 0-9 2-11 7-8 6-5 8-6 4-8 7-6 7-8 7-8 6-10 8-10 8-9M2298 1360l2 13 11 6 9 3 9-4 8-2 9-1 9 7 7 0 11 5 9 5 9-4 10-2 0 11 11 4 2 10 11 4 8 9 12 7 7 9 5 9 3 6 5 7M2362 1382l6-7 3-7 4-8 6-10 2-11 5-11 2-9 3-8 1-9 9-4 7-6 10-2 8-9 5-11-1-11 0-10-2-11 1-10 1-9 4-10 0-9M2433 1270l9-2 9-2 7-5 11-1 11 4 10 0 7 5 11-2 8 3 5 11 8 9 9 3 9 3 7 6M2298 1360l-1 10-3 11-2 11-5 10-4 7-4 9-10 3-11-1-11 4-10 4-11 1-11 1-8 5-7 5-10 0-9-7-4-9-9-5-4-8-10-5-8-8-8-6-12-3M2190 1440l5 8 1 8 10 7 9 9 13 2 9 3 10 5 12 4 9 4 11 4 11 3 11 2 10 5 12 1 11 2 9 7 11 3 10 4 11-1 8 6 7 5 11 2 9-1 10-2M2215 1472l1 10 5 6 3 12 4 7 6 10 12 2 8 7 7 9 0 13 5 10 9 8 11 8 9-2 7 6 9 0 13 6M2100 1494l9 3 9 5 8 5 2 10 7 7 3 9 3 8 2 9 2 8 5 8 8 3 6 9 6 12M660 1520l-1 9 4 11-1 8 1 10 1 10 2 9-1 10 1 10 5 9-4 10-1 9 0 10M871 1520l1 10-4 8 1 12-1 8-4 10-1 12-5 10-5 8-2 9-2 10-3 9M980 1533l6 9 7 7 3 9 2 11 1 11 3 10 3 9 1 9-1 9 1 9M1044 1558l-1 9-3 7-2 10-4 10-2 12-4 10-3 10M1246 1520l0 10-1 7-3 9-1 10-2 11 0 11 0 7 3 9M1454 1520l2 11 0 10 1 11-4 8 3 10 0 9-2 8M1607 1520l-2 8-4 8-3 10-7 7-3 9-3 9-8 4-2 9M1916 1526l1 11-6 9 0 10 1 9-1 9-1 10 0 11-2 10 0 11M1134 1427l1 10-5 9 1 9 0 10 4 8 0 9 1 9 3-6 4-7 8 5 10 2 14 2-1 12 3 11 1 8 6 8-9 9-14 4-3 9-4 7 3 14M1154 1555l-10-2-10-4-8 5-11 1-10 5-8 7-6 7-8 4-3 9 10 6 9-3 7 0 7-9-8-7-9 3M1058 1210l8-1 8 8 13-4 5-14 6-4 8-3 13 2 8 6 6 8 7 7 7 9 10 0 11-1 10 6M948 1200l-1 11-5 10 6 12-6 9 1 12 4 9 5 7 1 11M914 1341l7 9 2 13 1 9 3 8M625 1196l9 5 11-2 12-5 11-5 12-2 10 4 11-1 10 5 10 2 10 1 9 2M1364 1200l-3 3-11 4-5-5-7-6-6 4M1567 1180l-6 8-6 8-9-1-9-4-12-2-11-2-13 2-6 7-6 7M1240 1244l6 7 5 7 5 11 2 12 5 11 9 7 4 11 3 10M2121 1392l-5 11-5 12 0 9-8 6-2 10M2074 1509l7-7 9-4 10-4M1769 1194l14 6 8-3 6-6M2101 1331l1 12 3 11 3 8-3 10 7 8 5 7 4 8M981 1328l-6 9 6 7" fill="none" stroke="#000" stroke-width="5.8" stroke-linejoin="round" stroke-linecap="round"/>
<path d="M564 1196l-2-8-2-9-7-7 3-8-5-5-5-6-1-7-6-6-4-4-7-4-6-3-8 0-6-5-8-2-5-6-8-3-2-7-4-5-5-6-7-7-2-8-5-7-3-9-6-5-4-7 1-9-11-3 0-7 3-7-2-6 8-6 7-2 8-4 8 1 6-3 7-1 7-1 6-5 6-3 8-2 5-5 6-3 6-4 4-6 9-1 7-2 8 0 5-6 5-6 8-1 6-6 10-4 7-8-3-8 2-11-3-9-1-7-7-7 0-8-3-6-1-7-2-6 1-9 0-10 5-6 7-7 8-2 2-8 7-1 6-4 7-4 6-4 7-1 8-4 7-3 9-3 9 0 8-1 9 0 7-5 10 6 8 0 8 1 9-2 7-1 10-1 9 3 8 1 7 4 10-1 10-1 9 4 7 3 8 5 10-2 8 8 7 4 10 4 8 3 8-1 9 6 9-1 8 0 6 4 10 0 8-3 9 0 8 0 7 4 8-3 8-2 9-2 9 1 9-1 10-3 7 0 9 1 6 1 8 8 8-4 10 0 7-2 10-3 8 0 9 1 6-1 9-5 8 2 8 5 8-1 8 1 8 0 9 2 4 4 6 7 8 2 10-1 8 5 8-1 10 4 8 0 9 1 8-5 8 3 7-8 8-2 8-2 9-1 7-6 6-3 10 3 9 1 7-3 8 0 7 3 9-5 8 0 7-3 8 5 8 0 9 0 7 5 9 1 9 2 7-3 10 7 7-5 8-4 8 2 9-2 6 7 8 0 8-2 8 3 8 0 8-3 8 5 8 3 8 3 9 0 7-1 8 2 5 3 9 2 0 10 10-1 7-5 9 0 6-8 5-4 8-4 9-3 4-7 8-2 9 1 8 1 7-5 8-2 8 4 9 0 10-6 7 6 7 3 8 3 7 2 9-1 10 1 9 2 7 5 9 1 8 8 9 0 9-1 8 0 8-1 8-4 8 7 8-2 9-4 9 0 8 3 11-6 6 6 11 4 7 3 8 3 8 0 8 6 8-1 8-2 9-4 8 2 8 2 4-9 6-4 7 7 3 6 5 6 6 5 1 8 11 0 9 3 9-3 2-8 8-5 2-6 4-6 5 5-6 6 0 8 1 6 5 5 6 2 5 6 9 2 9 1 11 3 3 10 7 2 5-7 6-8 8-4-6-7-7-1-4-4-8-4-7-2-7-5-8-2-6-5-7-7 6 0 6 0 10 0 9 5 8 5 10-5 11-3 4 12 7-1 7 6 1 0 8 0 9 3 9 2 7 7 9-5 6 9 5 1 8 2 5-4 8 4 6-3 10-1 6-9 6-9 10 2 9 2 7 2 9 3 7 0 8 2 8 1 7 3 9-5 8 7 8-1 8 1 8-3 7-5 9 3 8 4 9 1 7 7 8 1 8 4 8 1 7 2 9 3 7 2 9-1 6 6 8 6 8-4 6 5 6 8 8 3 4 7 7 3 5 6 6-7 10-4 7 5 10 0 9 5 7 6 3 12 8 5 6 6 11 5 9 2 6-4 7-1 6-3 8 1 8-1 8 6 8 5 9 6 8 5 9 1 2 9 8 1 10 1 9 2 8-5 8-3 7-5 7-6 7 5 7-2 7-5 6-2 3-7 6-3 5-3 3 11-4 8-2 7-2 7-1 10-7 7-4 8-5 8 5 8 1 9 4 6 3 9-2 7 0 8-1 6-1 8-8 6-1 10-5 7 3 10 3 9 5 7 5 7 6 7 6 7 10 1 5 7 6 9 5 8 6 9-2 8-9-4-8 1-5-6-9 1-8 4-3 7 0 8-5 8-5 8-6 3-9 0-8 5-7-3-4-6-5 1-8 0-8 7-3 7-8 0-6 4-6 9-8 1-9 1-10-4-9-2-8 5-8 3-7 5-3 6-6 5-6 7-4 9-8 3-5 4-6 6-7 3 0 7-6 6-3 8-8 6-2 9-2 8-1 7-6 7-2 10-3 8-5 8 0 8-4 9-2 8-2 8-2 8-9 3-7 2-7 4-5 4-8 2-6 3-6 5 4 8 0 9 3 8-6 6-4 4 3 9 7-6-6 5-1 8-6 0-8 1-5 5-9 0-10 3-6 2-6 2-7 3-4 6-9 3-8 3-5 7-5 5-8-4-6 5-4 7-9 3-9 1-6 3-10-1-7 2-4 6-9-1-7 1-10 2-8-3-8 0-5 6-6 0-9-3-4-7-8-1-5-5-6 0-9-1-6 2-8-1-5 7-8 3-4 6-8 4-4 6 0 8-9 4-6-7-7-2-8-6-8-4 0-6-9 2-7 1-6 3-7 1-6 6-7 2-5 6-7 2-7 2-10 1-8 4-7 5-4 8-9 0-7 5-7 2-7 3-5 8-8-2-5-6-6-5-4-9-9-4-6-4-8 1-5-7-7 0-6-4-6-2-6 4-10 2-3 7-8 4 0 8-5 4-8 0-3 7-8-1-5-4-8 2-7-4-5-5-8 2-6-4-5-4-7 2-7-4-4-9-6-7-8 0-6-3-2-10-4-4-11-1-4-8-7 1-6-6-6-1-6 6-7 4-10 0-4 8-8 4-8 5-7 7-4 8-4 7-6 5-3 7-7-3-9-4-7-3-5-4-9-3-5-6-9 1-4-8-8-1-4-8-8-6-2-10-10-3-4-8-9 2-6-3-10-2-9-2-8-3-8 3-9 3-6 2-9 2-8 0-9 1-8 0-6 1-9 4-8 3-10 4-8 3-6 5-6 3-7 1-8 4-10-6-7 6-9-1-9-4-8-2-7 0-7-2-8 2-5-5-2-6-6-5-9-2-7 2-7-3-9 4-6 6-10 0-4 5-10-1-5 5-7-4-8 1-5-6-8-1-9-2-8-7-8 1-6-6-2-10-10 1-8-3-9 3-8-2-9 2-7 1-1 9-3 6-6 4-6 7-7 0-6 3-8-3-5 9-6 0-10 2-9 3-7 5-8 5-10 0-8 1-8 4-8-3-9 3-9 1-8 2-9 0-8 3-11 0 0-6-7-1-8 1-8-1-6-3-8-4-5 5-6 6-4 2-9 4-6 0 8 3 5 7-4 6-3 7-8-3-9-3-8-1-10 1-9-1-7-6-9-3-5-8-8-5-4-6-6-4-6-4-3-6-4-6-8-4-11 1-8 0-10-2-8 5-5 6-8 2-6 5-7-2-7-2-5-6-6-1-7-5-7 2-6 3-6 1-3 7-7 2-3 7-8 2-5 4-6 4-9 2-8-1-9 3-9 0-9-3-7-1-8-3-9-5-9 2-6-5-7-3-6-5-9 2-7 1-1 9-3 7 1 9-4 5 1 8-7-6-6-4 6-10-6-5-9-1-7-2-5-5-8-2 0-8-3-9 7-8-4-10 5-4-4-11 5-4 6-5 7-5 9 2 7-6 7-2 4-6 8 0 7-4 3 0 0-7-3-9-4-7-10 3-5-5-8-3-9 1-9-2-5-7 2-9 3-6 2-7 4-6 2-7 2-6 3-6-1-6-3-8-3-5 6-7-3-11 4-8 3-5 0-9 6-5 2-8 4-6 0-11 1-7 1-9 5-7 0-10-6-9 1-10-2-9 9-2 1-8 2-6 7-7 2-5 5-8 1-7 1-7 2-8-9-6 0-8-4-8-1-10-7-7 1-9z" fill="none" stroke="#000" stroke-width="6.4" stroke-linejoin="round"/>
<path d="M2730 973l3-1 1 4-3 1z" fill="#000" stroke="#000" stroke-width="3.2"/>
<path d="M2753 978l11-2 5 13 5 10-7 1-9-11z" fill="#000" stroke="#000" stroke-width="3.2"/>
<path d="M2719 1061l6-1 1 7-6 1z" fill="#000" stroke="#000" stroke-width="3.2"/>
<path d="M2731 1098l6 0 0 7-6 0z" fill="#000" stroke="#000" stroke-width="3.2"/>
<path d="M2747 1190l17-3 5 8-13 3z" fill="#000" stroke="#000" stroke-width="3.2"/>
<circle cx="913" cy="1603" r="6.5" fill="#000"/><circle cx="926" cy="1610" r="5.4" fill="#000"/><circle cx="2564" cy="1328" r="5.4" fill="#000"/><circle cx="2618" cy="1293" r="4.4" fill="#000"/><circle cx="926" cy="1603" r="6.5" fill="#000"/><circle cx="935" cy="1613" r="5.4" fill="#000"/><circle cx="753" cy="1622" r="3.3" fill="#000"/><circle cx="855" cy="1658" r="3.3" fill="#000"/><circle cx="551" cy="1651" r="5.4" fill="#000"/><path d="M1460 1726l6-11 13-9 10-6 2 7-9 8-12 10z" fill="#000" stroke="#000" stroke-width="3.2"/>
<circle cx="1159" cy="1597" r="4.4" fill="#000"/><circle cx="1185" cy="1597" r="4.4" fill="#000"/><circle cx="1172" cy="1581" r="4.4" fill="#000"/><circle cx="1255" cy="1622" r="4.4" fill="#000"/><circle cx="1319" cy="1616" r="4.4" fill="#000"/><circle cx="993" cy="1635" r="6.5" fill="#000"/><circle cx="1153" cy="1584" r="5.4" fill="#000"/><circle cx="1082" cy="1581" r="5.4" fill="#000"/><circle cx="1098" cy="1584" r="5.4" fill="#000"/><circle cx="1566" cy="1658" r="5.4" fill="#000"/><circle cx="1658" cy="1672" r="4.4" fill="#000"/><circle cx="1687" cy="1661" r="4.4" fill="#000"/><circle cx="1710" cy="1661" r="4.4" fill="#000"/><circle cx="1751" cy="1661" r="4.4" fill="#000"/><circle cx="1786" cy="1651" r="5.4" fill="#000"/><circle cx="1801" cy="1654" r="4.4" fill="#000"/><circle cx="1834" cy="1666" r="5.4" fill="#000"/><circle cx="1850" cy="1672" r="5.4" fill="#000"/><circle cx="1866" cy="1677" r="5.4" fill="#000"/><circle cx="1879" cy="1680" r="4.4" fill="#000"/><circle cx="1898" cy="1668" r="5.4" fill="#000"/><circle cx="1910" cy="1658" r="5.4" fill="#000"/><circle cx="1921" cy="1645" r="5.4" fill="#000"/><circle cx="1841" cy="1638" r="6.5" fill="#000"/><circle cx="1860" cy="1645" r="6.5" fill="#000"/><circle cx="1898" cy="1642" r="5.4" fill="#000"/><circle cx="1914" cy="1632" r="5.4" fill="#000"/></g>
<defs><linearGradient id="jet" x1="0" y1="0" x2="0" y2="1"><stop offset="0.0000" stop-color="#800000"/><stop offset="0.0156" stop-color="#8f0000"/><stop offset="0.0312" stop-color="#9f0000"/><stop offset="0.0469" stop-color="#af0000"/><stop offset="0.0625" stop-color="#bf0000"/><stop offset="0.0781" stop-color="#cf0000"/><stop offset="0.0938" stop-color="#df0000"/><stop offset="0.1094" stop-color="#ef0000"/><stop offset="0.1250" stop-color="#ff0000"/><stop offset="0.1406" stop-color="#ff1000"/><stop offset="0.1562" stop-color="#ff2000"/><stop offset="0.1719" stop-color="#ff3000"/><stop offset="0.1875" stop-color="#ff4000"/><stop offset="0.2031" stop-color="#ff5000"/><stop offset="0.2188" stop-color="#ff6000"/><stop offset="0.2344" stop-color="#ff7000"/><stop offset="0.2500" stop-color="#ff8000"/><stop offset="0.2656" stop-color="#ff8f00"/><stop offset="0.2812" stop-color="#ff9f00"/><stop offset="0.2969" stop-color="#ffaf00"/><stop offset="0.3125" stop-color="#ffbf00"/><stop offset="0.3281" stop-color="#ffcf00"/><stop offset="0.3438" stop-color="#ffdf00"/><stop offset="0.3594" stop-color="#ffef00"/><stop offset="0.3750" stop-color="#ffff00"/><stop offset="0.3906" stop-color="#efff10"/><stop offset="0.4062" stop-color="#dfff20"/><stop offset="0.4219" stop-color="#cfff30"/><stop offset="0.4375" stop-color="#bfff40"/><stop offset="0.4531" stop-color="#afff50"/><stop offset="0.4688" stop-color="#9fff60"/><stop offset="0.4844" stop-color="#8fff70"/><stop offset="0.5000" stop-color="#80ff80"/><stop offset="0.5156" stop-color="#70ff8f"/><stop offset="0.5312" stop-color="#60ff9f"/><stop offset="0.5469" stop-color="#50ffaf"/><stop offset="0.5625" stop-color="#40ffbf"/><stop offset="0.5781" stop-color="#30ffcf"/><stop offset="0.5938" stop-color="#20ffdf"/><stop offset="0.6094" stop-color="#10ffef"/><stop offset="0.6250" stop-color="#00ffff"/><stop offset="0.6406" stop-color="#00efff"/><stop offset="0.6562" stop-color="#00dfff"/><stop offset="0.6719" stop-color="#00cfff"/><stop offset="0.6875" stop-color="#00bfff"/><stop offset="0.7031" stop-color="#00afff"/><stop offset="0.7188" stop-color="#009fff"/><stop offset="0.7344" stop-color="#008fff"/><stop offset="0.7500" stop-color="#0080ff"/><stop offset="0.7656" stop-color="#0070ff"/><stop offset="0.7812" stop-color="#0060ff"/><stop offset="0.7969" stop-color="#0050ff"/><stop offset="0.8125" stop-color="#0040ff"/><stop offset="0.8281" stop-color="#0030ff"/><stop offset="0.8438" stop-color="#0020ff"/><stop offset="0.8594" stop-color="#0010ff"/><stop offset="0.8750" stop-color="#0000ff"/><stop offset="0.8906" stop-color="#0000ef"/><stop offset="0.9062" stop-color="#0000df"/><stop offset="0.9219" stop-color="#0000cf"/><stop offset="0.9375" stop-color="#0000bf"/><stop offset="0.9531" stop-color="#0000af"/><stop offset="0.9688" stop-color="#00009f"/><stop offset="0.9844" stop-color="#00008f"/><stop offset="1.0000" stop-color="#000080"/></linearGradient></defs>
<rect x="728.5" y="170.5" width="32" height="291" fill="url(#jet)" stroke="#262626" stroke-width="1"/>
<path d="M760.5 200.5h-3" stroke="#262626" stroke-width="1" fill="none"/><text class="c" x="769" y="206.9">4</text>
<path d="M760.5 245.8h-3" stroke="#262626" stroke-width="1" fill="none"/><text class="c" x="769" y="252.2">3.5</text>
<path d="M760.5 291.1h-3" stroke="#262626" stroke-width="1" fill="none"/><text class="c" x="769" y="297.5">3</text>
<path d="M760.5 336.4h-3" stroke="#262626" stroke-width="1" fill="none"/><text class="c" x="769" y="342.8">2.5</text>
<path d="M760.5 381.7h-3" stroke="#262626" stroke-width="1" fill="none"/><text class="c" x="769" y="388.1">2</text>
<path d="M760.5 427.0h-3" stroke="#262626" stroke-width="1" fill="none"/><text class="c" x="769" y="433.4">1.5</text>
<rect x="99.5" y="171.5" width="593" height="290" fill="none" stroke="#262626" stroke-width="1"/>
<path d="M134.5 461.5v-6M134.5 171.5v6M203.5 461.5v-6M203.5 171.5v6M272.5 461.5v-6M272.5 171.5v6M341.5 461.5v-6M341.5 171.5v6M410.5 461.5v-6M410.5 171.5v6M480.5 461.5v-6M480.5 171.5v6M549.5 461.5v-6M549.5 171.5v6M618.5 461.5v-6M618.5 171.5v6M687.5 461.5v-6M687.5 171.5v6M99.5 243.5h6M692.5 243.5h-6M99.5 316.5h6M692.5 316.5h-6M99.5 389.5h6M692.5 389.5h-6" stroke="#262626" stroke-width="1" fill="none"/>
<text class="t" text-anchor="middle" x="134.5" y="490.5">-67.2</text><text class="t" text-anchor="middle" x="203.6" y="490.5">-67</text><text class="t" text-anchor="middle" x="272.8" y="490.5">-66.8</text><text class="t" text-anchor="middle" x="341.9" y="490.5">-66.6</text><text class="t" text-anchor="middle" x="411.0" y="490.5">-66.4</text><text class="t" text-anchor="middle" x="480.1" y="490.5">-66.2</text><text class="t" text-anchor="middle" x="549.2" y="490.5">-66</text><text class="t" text-anchor="middle" x="618.4" y="490.5">-65.8</text><text class="t" text-anchor="middle" x="687.5" y="490.5">-65.6</text><text class="t" text-anchor="end" x="91.5" y="178.6">18.6</text><text class="t" text-anchor="end" x="91.5" y="251.8">18.4</text><text class="t" text-anchor="end" x="91.5" y="324.4">18.2</text><text class="t" text-anchor="end" x="91.5" y="396.9">18</text><text class="t" text-anchor="end" x="91.5" y="469.3">17.8</text>
<text class="l" text-anchor="middle" x="397.5" y="521.5">Longitude</text>
<text class="l" text-anchor="middle" transform="translate(37,316) rotate(-90)">Latitude</text>
<text class="ttl" text-anchor="middle" x="397" y="160.8">REFERENCE ET (mm) Hargreaves-Samani Method  09-Dec-2025</text>
</svg></body></html>
